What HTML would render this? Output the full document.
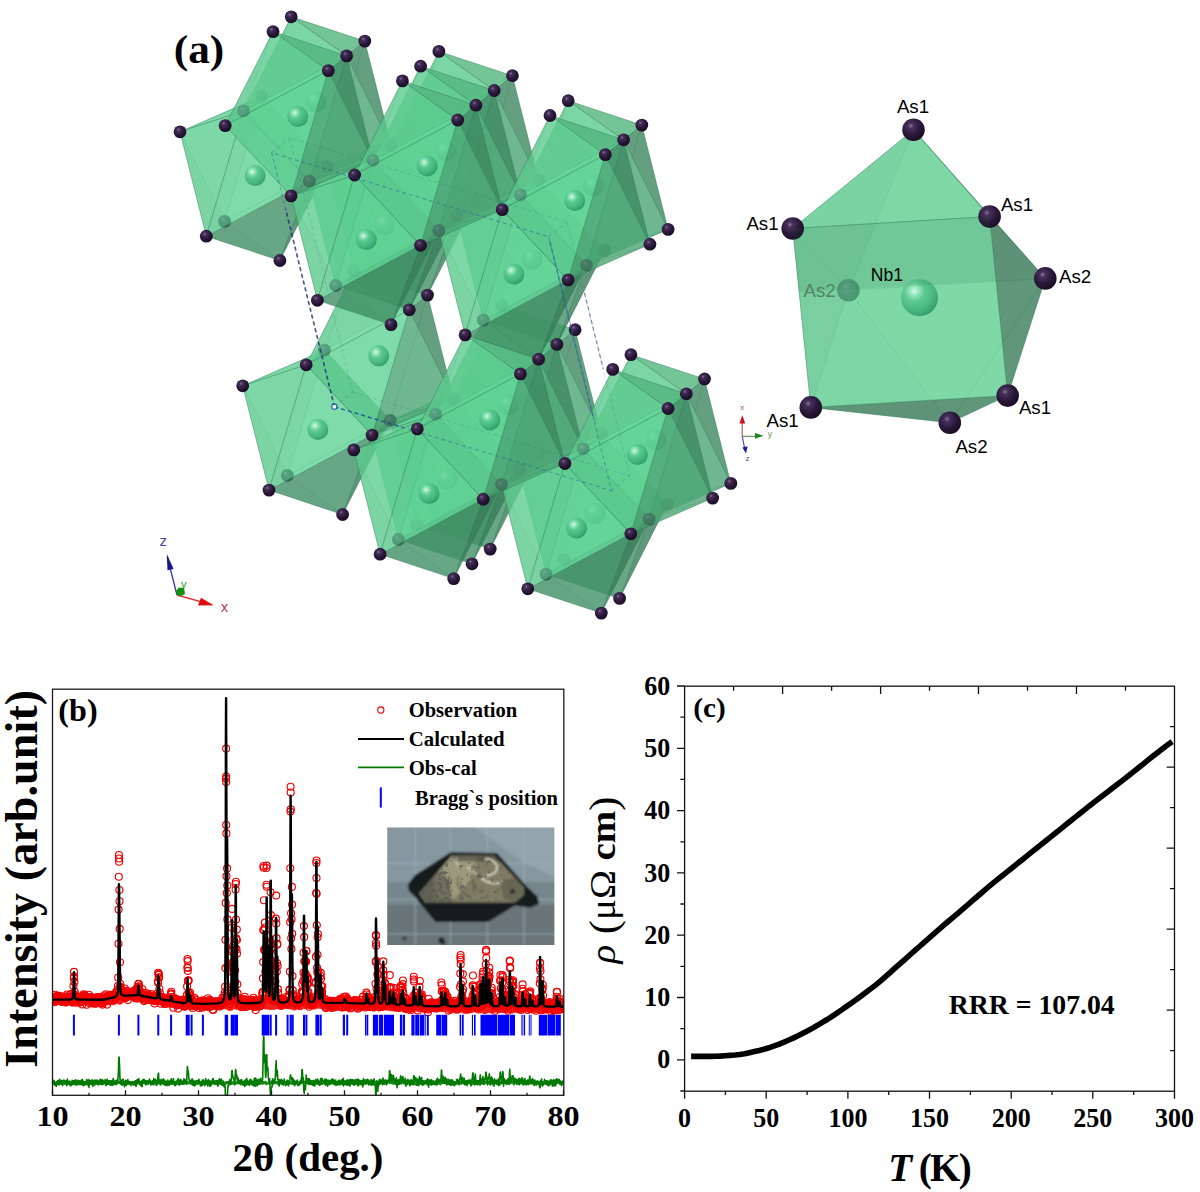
<!DOCTYPE html>
<html><head><meta charset="utf-8"><title>Figure</title><style>html,body{margin:0;padding:0;background:#fff}svg{display:block}
.sb{font-family:"Liberation Serif",serif;font-weight:bold;fill:#000}
.ss{font-family:"Liberation Sans",sans-serif}</style></head><body>
<svg width="1200" height="1192" viewBox="0 0 1200 1192">
<defs>
<radialGradient id="gAs" cx="0.38" cy="0.33" r="0.7"><stop offset="0" stop-color="#8a7598"/><stop offset="0.18" stop-color="#46305a"/><stop offset="0.6" stop-color="#2a1738"/><stop offset="1" stop-color="#1a0c24"/></radialGradient>
<radialGradient id="gNb" cx="0.36" cy="0.32" r="0.72"><stop offset="0" stop-color="#ffffff"/><stop offset="0.14" stop-color="#a5efc9"/><stop offset="0.38" stop-color="#55c58c"/><stop offset="0.78" stop-color="#36a873"/><stop offset="1" stop-color="#1f8a58"/></radialGradient>
<marker id="mk" markerWidth="10" markerHeight="10" refX="5" refY="5" markerUnits="userSpaceOnUse"><circle cx="5" cy="5" r="3.5" fill="none" stroke="#f10000" stroke-width="1.15"/></marker>
<filter id="blur1" x="-5%" y="-5%" width="110%" height="110%"><feGaussianBlur stdDeviation="0.9"/></filter>
<filter id="speck" x="0" y="0" width="100%" height="100%"><feTurbulence type="fractalNoise" baseFrequency="0.2" numOctaves="2" seed="11" result="n"/><feColorMatrix in="n" type="matrix" values="0 0 0 0 0.12  0 0 0 0 0.12  0 0 0 0 0.1  0 0 0 -8 3.3" result="sp"/><feComposite in="sp" in2="SourceGraphic" operator="in"/><feGaussianBlur stdDeviation="0.6"/></filter>
<filter id="speck2" x="0" y="0" width="100%" height="100%"><feTurbulence type="fractalNoise" baseFrequency="0.28" numOctaves="2" seed="4" result="n"/><feColorMatrix in="n" type="matrix" values="0 0 0 0 0.1  0 0 0 0 0.1  0 0 0 0 0.09  0 0 0 -7 3.6" result="sp"/><feComposite in="sp" in2="SourceGraphic" operator="in"/><feGaussianBlur stdDeviation="0.6"/></filter>
<clipPath id="clipB"><rect x="52.5" y="689.2" width="511.3" height="406.1"/></clipPath>
<clipPath id="clipPhoto"><rect x="387.2" y="827.6" width="167.2" height="117.4"/></clipPath>
</defs>
<rect width="1200" height="1192" fill="#fff"/>
<g id="panel-a">
<polygon points="538.0,455.0 434.9,510.0 472.1,384.7" fill="rgb(89,195,137)" fill-opacity="0.35" stroke="rgb(45,120,85)" stroke-opacity="0.20" stroke-width="0.8"/>
<polygon points="390.3,420.4 434.9,510.0 472.1,384.7" fill="rgb(68,148,105)" fill-opacity="0.35" stroke="rgb(45,120,85)" stroke-opacity="0.20" stroke-width="0.8"/>
<polygon points="490.2,549.1 538.0,455.0 434.9,510.0" fill="rgb(90,195,138)" fill-opacity="0.35" stroke="rgb(45,120,85)" stroke-opacity="0.20" stroke-width="0.8"/>
<polygon points="390.3,420.4 416.6,524.7 434.9,510.0" fill="rgb(54,118,83)" fill-opacity="0.35" stroke="rgb(45,120,85)" stroke-opacity="0.20" stroke-width="0.8"/>
<polygon points="490.2,549.1 434.9,510.0 416.6,524.7" fill="rgb(80,174,122)" fill-opacity="0.35" stroke="rgb(45,120,85)" stroke-opacity="0.20" stroke-width="0.8"/>
<circle cx="434.9" cy="510.0" r="6.4" fill="url(#gAs)"/>
<polygon points="475.3,201.0 372.2,256.0 409.4,130.7" fill="rgb(89,195,137)" fill-opacity="0.35" stroke="rgb(45,120,85)" stroke-opacity="0.20" stroke-width="0.8"/>
<polygon points="327.6,166.4 372.2,256.0 409.4,130.7" fill="rgb(68,148,105)" fill-opacity="0.35" stroke="rgb(45,120,85)" stroke-opacity="0.20" stroke-width="0.8"/>
<polygon points="427.5,295.1 475.3,201.0 372.2,256.0" fill="rgb(90,195,138)" fill-opacity="0.35" stroke="rgb(45,120,85)" stroke-opacity="0.20" stroke-width="0.8"/>
<polygon points="327.6,166.4 353.9,270.8 372.2,256.0" fill="rgb(54,118,83)" fill-opacity="0.35" stroke="rgb(45,120,85)" stroke-opacity="0.20" stroke-width="0.8"/>
<polygon points="427.5,295.1 372.2,256.0 353.9,270.8" fill="rgb(80,174,122)" fill-opacity="0.35" stroke="rgb(45,120,85)" stroke-opacity="0.20" stroke-width="0.8"/>
<polygon points="472.1,384.7 575.1,329.7 538.0,455.0" fill="rgb(89,195,137)" fill-opacity="0.35" stroke="rgb(45,120,85)" stroke-opacity="0.20" stroke-width="0.8"/>
<polygon points="501.6,305.4 472.1,384.7 575.1,329.7" fill="rgb(58,127,90)" fill-opacity="0.35" stroke="rgb(45,120,85)" stroke-opacity="0.20" stroke-width="0.8"/>
<polygon points="601.4,434.0 575.1,329.7 538.0,455.0" fill="rgb(90,195,138)" fill-opacity="0.35" stroke="rgb(45,120,85)" stroke-opacity="0.20" stroke-width="0.8"/>
<polygon points="453.8,399.4 472.1,384.7 538.0,455.0 519.7,469.7" fill="rgb(70,152,108)" fill-opacity="0.35" stroke="rgb(45,120,85)" stroke-opacity="0.20" stroke-width="0.8"/>
<polygon points="501.6,305.4 453.8,399.4 472.1,384.7" fill="rgb(47,104,74)" fill-opacity="0.35" stroke="rgb(45,120,85)" stroke-opacity="0.20" stroke-width="0.8"/>
<polygon points="601.4,434.0 538.0,455.0 519.7,469.7" fill="rgb(90,195,138)" fill-opacity="0.35" stroke="rgb(45,120,85)" stroke-opacity="0.20" stroke-width="0.8"/>
<circle cx="372.2" cy="256.0" r="6.4" fill="url(#gAs)"/>
<polygon points="390.3,420.4 472.1,384.7 453.8,399.4" fill="rgb(98,213,150)" fill-opacity="0.70" stroke="rgb(45,120,85)" stroke-opacity="0.40" stroke-width="0.8"/>
<polygon points="490.2,549.1 519.7,469.7 538.0,455.0" fill="rgb(52,114,81)" fill-opacity="0.70" stroke="rgb(45,120,85)" stroke-opacity="0.40" stroke-width="0.8"/>
<polygon points="519.7,469.7 538.0,455.0 472.1,384.7 453.8,399.4" fill="rgb(76,166,117)" fill-opacity="0.70" stroke="rgb(45,120,85)" stroke-opacity="0.40" stroke-width="0.8"/>
<polygon points="390.3,420.4 453.8,399.4 416.6,524.7" fill="rgb(98,213,150)" fill-opacity="0.70" stroke="rgb(45,120,85)" stroke-opacity="0.40" stroke-width="0.8"/>
<polygon points="490.2,549.1 416.6,524.7 519.7,469.7" fill="rgb(63,138,98)" fill-opacity="0.70" stroke="rgb(45,120,85)" stroke-opacity="0.40" stroke-width="0.8"/>
<polygon points="519.7,469.7 453.8,399.4 416.6,524.7" fill="rgb(97,212,149)" fill-opacity="0.70" stroke="rgb(45,120,85)" stroke-opacity="0.40" stroke-width="0.8"/>
<circle cx="472.1" cy="384.7" r="6.4" fill="url(#gAs)"/>
<circle cx="538.0" cy="455.0" r="6.4" fill="url(#gAs)"/>
<circle cx="490.2" cy="549.1" r="6.4" fill="url(#gAs)"/>
<circle cx="465.5" cy="464.0" r="10.5" fill="url(#gNb)" opacity="0.78"/>
<polygon points="390.3,420.4 287.3,475.4 324.4,350.1" fill="rgb(89,195,137)" fill-opacity="0.35" stroke="rgb(45,120,85)" stroke-opacity="0.20" stroke-width="0.8"/>
<polygon points="242.7,385.8 287.3,475.4 324.4,350.1" fill="rgb(68,148,105)" fill-opacity="0.35" stroke="rgb(45,120,85)" stroke-opacity="0.20" stroke-width="0.8"/>
<polygon points="342.6,514.5 390.3,420.4 287.3,475.4" fill="rgb(90,195,138)" fill-opacity="0.35" stroke="rgb(45,120,85)" stroke-opacity="0.20" stroke-width="0.8"/>
<polygon points="242.7,385.8 269.0,490.1 287.3,475.4" fill="rgb(54,118,83)" fill-opacity="0.35" stroke="rgb(45,120,85)" stroke-opacity="0.20" stroke-width="0.8"/>
<polygon points="342.6,514.5 287.3,475.4 269.0,490.1" fill="rgb(80,174,122)" fill-opacity="0.35" stroke="rgb(45,120,85)" stroke-opacity="0.20" stroke-width="0.8"/>
<circle cx="287.3" cy="475.4" r="6.4" fill="url(#gAs)"/>
<polygon points="409.4,130.7 512.4,75.7 475.3,201.0" fill="rgb(89,195,137)" fill-opacity="0.35" stroke="rgb(45,120,85)" stroke-opacity="0.20" stroke-width="0.8"/>
<polygon points="438.9,51.4 409.4,130.7 512.4,75.7" fill="rgb(58,127,90)" fill-opacity="0.35" stroke="rgb(45,120,85)" stroke-opacity="0.20" stroke-width="0.8"/>
<polygon points="538.7,180.1 512.4,75.7 475.3,201.0" fill="rgb(90,195,138)" fill-opacity="0.35" stroke="rgb(45,120,85)" stroke-opacity="0.20" stroke-width="0.8"/>
<polygon points="391.1,145.5 409.4,130.7 475.3,201.0 457.0,215.8" fill="rgb(70,152,108)" fill-opacity="0.35" stroke="rgb(45,120,85)" stroke-opacity="0.20" stroke-width="0.8"/>
<polygon points="438.9,51.4 391.1,145.5 409.4,130.7" fill="rgb(47,104,74)" fill-opacity="0.35" stroke="rgb(45,120,85)" stroke-opacity="0.20" stroke-width="0.8"/>
<polygon points="538.7,180.1 475.3,201.0 457.0,215.8" fill="rgb(90,195,138)" fill-opacity="0.35" stroke="rgb(45,120,85)" stroke-opacity="0.20" stroke-width="0.8"/>
<polygon points="327.6,166.4 409.4,130.7 391.1,145.5" fill="rgb(98,213,150)" fill-opacity="0.70" stroke="rgb(45,120,85)" stroke-opacity="0.40" stroke-width="0.8"/>
<polygon points="427.5,295.1 457.0,215.8 475.3,201.0" fill="rgb(52,114,81)" fill-opacity="0.70" stroke="rgb(45,120,85)" stroke-opacity="0.40" stroke-width="0.8"/>
<polygon points="457.0,215.8 475.3,201.0 409.4,130.7 391.1,145.5" fill="rgb(76,166,117)" fill-opacity="0.70" stroke="rgb(45,120,85)" stroke-opacity="0.40" stroke-width="0.8"/>
<polygon points="327.6,166.4 391.1,145.5 353.9,270.8" fill="rgb(98,213,150)" fill-opacity="0.70" stroke="rgb(45,120,85)" stroke-opacity="0.40" stroke-width="0.8"/>
<polygon points="427.5,295.1 353.9,270.8 457.0,215.8" fill="rgb(63,138,98)" fill-opacity="0.70" stroke="rgb(45,120,85)" stroke-opacity="0.40" stroke-width="0.8"/>
<polygon points="457.0,215.8 391.1,145.5 353.9,270.8" fill="rgb(97,212,149)" fill-opacity="0.70" stroke="rgb(45,120,85)" stroke-opacity="0.40" stroke-width="0.8"/>
<polygon points="501.6,305.4 575.1,329.7 556.9,344.4" fill="rgb(87,189,133)" fill-opacity="0.70" stroke="rgb(45,120,85)" stroke-opacity="0.40" stroke-width="0.8"/>
<polygon points="601.4,434.0 556.9,344.4 575.1,329.7" fill="rgb(58,128,91)" fill-opacity="0.70" stroke="rgb(45,120,85)" stroke-opacity="0.40" stroke-width="0.8"/>
<polygon points="501.6,305.4 556.9,344.4 453.8,399.4" fill="rgb(98,213,150)" fill-opacity="0.70" stroke="rgb(45,120,85)" stroke-opacity="0.40" stroke-width="0.8"/>
<polygon points="601.4,434.0 519.7,469.7 556.9,344.4" fill="rgb(74,161,114)" fill-opacity="0.70" stroke="rgb(45,120,85)" stroke-opacity="0.40" stroke-width="0.8"/>
<polygon points="453.8,399.4 519.7,469.7 556.9,344.4" fill="rgb(97,212,149)" fill-opacity="0.70" stroke="rgb(45,120,85)" stroke-opacity="0.40" stroke-width="0.8"/>
<circle cx="409.4" cy="130.7" r="6.4" fill="url(#gAs)"/>
<circle cx="475.3" cy="201.0" r="6.4" fill="url(#gAs)"/>
<circle cx="575.1" cy="329.7" r="6.4" fill="url(#gAs)"/>
<circle cx="402.8" cy="210.1" r="10.5" fill="url(#gNb)" opacity="0.78"/>
<circle cx="526.3" cy="390.4" r="10.5" fill="url(#gNb)" opacity="0.78"/>
<polygon points="327.6,166.4 224.6,221.4 261.7,96.1" fill="rgb(89,195,137)" fill-opacity="0.35" stroke="rgb(45,120,85)" stroke-opacity="0.20" stroke-width="0.8"/>
<polygon points="180.0,131.8 224.6,221.4 261.7,96.1" fill="rgb(68,148,105)" fill-opacity="0.35" stroke="rgb(45,120,85)" stroke-opacity="0.20" stroke-width="0.8"/>
<polygon points="279.9,260.5 327.6,166.4 224.6,221.4" fill="rgb(90,195,138)" fill-opacity="0.35" stroke="rgb(45,120,85)" stroke-opacity="0.20" stroke-width="0.8"/>
<polygon points="180.0,131.8 206.3,236.2 224.6,221.4" fill="rgb(54,118,83)" fill-opacity="0.35" stroke="rgb(45,120,85)" stroke-opacity="0.20" stroke-width="0.8"/>
<polygon points="279.9,260.5 224.6,221.4 206.3,236.2" fill="rgb(80,174,122)" fill-opacity="0.35" stroke="rgb(45,120,85)" stroke-opacity="0.20" stroke-width="0.8"/>
<polygon points="324.4,350.1 427.5,295.1 390.3,420.4" fill="rgb(89,195,137)" fill-opacity="0.35" stroke="rgb(45,120,85)" stroke-opacity="0.20" stroke-width="0.8"/>
<polygon points="353.9,270.8 324.4,350.1 427.5,295.1" fill="rgb(58,127,90)" fill-opacity="0.35" stroke="rgb(45,120,85)" stroke-opacity="0.20" stroke-width="0.8"/>
<polygon points="453.8,399.4 427.5,295.1 390.3,420.4" fill="rgb(90,195,138)" fill-opacity="0.35" stroke="rgb(45,120,85)" stroke-opacity="0.20" stroke-width="0.8"/>
<polygon points="306.2,364.8 324.4,350.1 390.3,420.4 372.1,435.1" fill="rgb(70,152,108)" fill-opacity="0.35" stroke="rgb(45,120,85)" stroke-opacity="0.20" stroke-width="0.8"/>
<polygon points="353.9,270.8 306.2,364.8 324.4,350.1" fill="rgb(47,104,74)" fill-opacity="0.35" stroke="rgb(45,120,85)" stroke-opacity="0.20" stroke-width="0.8"/>
<polygon points="453.8,399.4 390.3,420.4 372.1,435.1" fill="rgb(90,195,138)" fill-opacity="0.35" stroke="rgb(45,120,85)" stroke-opacity="0.20" stroke-width="0.8"/>
<circle cx="224.6" cy="221.4" r="6.4" fill="url(#gAs)"/>
<polygon points="242.7,385.8 324.4,350.1 306.2,364.8" fill="rgb(98,213,150)" fill-opacity="0.70" stroke="rgb(45,120,85)" stroke-opacity="0.40" stroke-width="0.8"/>
<polygon points="342.6,514.5 372.1,435.1 390.3,420.4" fill="rgb(52,114,81)" fill-opacity="0.70" stroke="rgb(45,120,85)" stroke-opacity="0.40" stroke-width="0.8"/>
<polygon points="372.1,435.1 390.3,420.4 324.4,350.1 306.2,364.8" fill="rgb(76,166,117)" fill-opacity="0.70" stroke="rgb(45,120,85)" stroke-opacity="0.40" stroke-width="0.8"/>
<polygon points="242.7,385.8 306.2,364.8 269.0,490.1" fill="rgb(98,213,150)" fill-opacity="0.70" stroke="rgb(45,120,85)" stroke-opacity="0.40" stroke-width="0.8"/>
<polygon points="342.6,514.5 269.0,490.1 372.1,435.1" fill="rgb(63,138,98)" fill-opacity="0.70" stroke="rgb(45,120,85)" stroke-opacity="0.40" stroke-width="0.8"/>
<polygon points="372.1,435.1 306.2,364.8 269.0,490.1" fill="rgb(97,212,149)" fill-opacity="0.70" stroke="rgb(45,120,85)" stroke-opacity="0.40" stroke-width="0.8"/>
<circle cx="324.4" cy="350.1" r="6.4" fill="url(#gAs)"/>
<circle cx="390.3" cy="420.4" r="6.4" fill="url(#gAs)"/>
<circle cx="242.7" cy="385.8" r="6.4" fill="url(#gAs)"/>
<circle cx="342.6" cy="514.5" r="6.4" fill="url(#gAs)"/>
<circle cx="269.0" cy="490.1" r="6.4" fill="url(#gAs)"/>
<circle cx="317.8" cy="429.4" r="10.5" fill="url(#gNb)" opacity="0.78"/>
<polygon points="438.9,51.4 512.4,75.7 494.2,90.5" fill="rgb(87,189,133)" fill-opacity="0.70" stroke="rgb(45,120,85)" stroke-opacity="0.40" stroke-width="0.8"/>
<polygon points="538.7,180.1 494.2,90.5 512.4,75.7" fill="rgb(58,128,91)" fill-opacity="0.70" stroke="rgb(45,120,85)" stroke-opacity="0.40" stroke-width="0.8"/>
<polygon points="438.9,51.4 494.2,90.5 391.1,145.5" fill="rgb(98,213,150)" fill-opacity="0.70" stroke="rgb(45,120,85)" stroke-opacity="0.40" stroke-width="0.8"/>
<polygon points="538.7,180.1 457.0,215.8 494.2,90.5" fill="rgb(74,161,114)" fill-opacity="0.70" stroke="rgb(45,120,85)" stroke-opacity="0.40" stroke-width="0.8"/>
<polygon points="391.1,145.5 457.0,215.8 494.2,90.5" fill="rgb(97,212,149)" fill-opacity="0.70" stroke="rgb(45,120,85)" stroke-opacity="0.40" stroke-width="0.8"/>
<circle cx="512.4" cy="75.7" r="6.4" fill="url(#gAs)"/>
<circle cx="438.9" cy="51.4" r="6.4" fill="url(#gAs)"/>
<circle cx="463.6" cy="136.4" r="10.5" fill="url(#gNb)" opacity="0.78"/>
<polygon points="667.3,504.3 564.3,559.3 601.4,434.0" fill="rgb(89,195,137)" fill-opacity="0.35" stroke="rgb(45,120,85)" stroke-opacity="0.20" stroke-width="0.8"/>
<polygon points="519.7,469.7 564.3,559.3 601.4,434.0" fill="rgb(68,148,105)" fill-opacity="0.35" stroke="rgb(45,120,85)" stroke-opacity="0.20" stroke-width="0.8"/>
<polygon points="619.6,598.4 667.3,504.3 564.3,559.3" fill="rgb(90,195,138)" fill-opacity="0.35" stroke="rgb(45,120,85)" stroke-opacity="0.20" stroke-width="0.8"/>
<polygon points="519.7,469.7 546.0,574.1 564.3,559.3" fill="rgb(54,118,83)" fill-opacity="0.35" stroke="rgb(45,120,85)" stroke-opacity="0.20" stroke-width="0.8"/>
<polygon points="619.6,598.4 564.3,559.3 546.0,574.1" fill="rgb(80,174,122)" fill-opacity="0.35" stroke="rgb(45,120,85)" stroke-opacity="0.20" stroke-width="0.8"/>
<polygon points="261.7,96.1 364.8,41.1 327.6,166.4" fill="rgb(89,195,137)" fill-opacity="0.35" stroke="rgb(45,120,85)" stroke-opacity="0.20" stroke-width="0.8"/>
<polygon points="291.2,16.8 261.7,96.1 364.8,41.1" fill="rgb(58,127,90)" fill-opacity="0.35" stroke="rgb(45,120,85)" stroke-opacity="0.20" stroke-width="0.8"/>
<polygon points="391.1,145.5 364.8,41.1 327.6,166.4" fill="rgb(90,195,138)" fill-opacity="0.35" stroke="rgb(45,120,85)" stroke-opacity="0.20" stroke-width="0.8"/>
<polygon points="243.5,110.9 261.7,96.1 327.6,166.4 309.4,181.2" fill="rgb(70,152,108)" fill-opacity="0.35" stroke="rgb(45,120,85)" stroke-opacity="0.20" stroke-width="0.8"/>
<polygon points="291.2,16.8 243.5,110.9 261.7,96.1" fill="rgb(47,104,74)" fill-opacity="0.35" stroke="rgb(45,120,85)" stroke-opacity="0.20" stroke-width="0.8"/>
<polygon points="391.1,145.5 327.6,166.4 309.4,181.2" fill="rgb(90,195,138)" fill-opacity="0.35" stroke="rgb(45,120,85)" stroke-opacity="0.20" stroke-width="0.8"/>
<circle cx="564.3" cy="559.3" r="6.4" fill="url(#gAs)"/>
<polygon points="180.0,131.8 261.7,96.1 243.5,110.9" fill="rgb(98,213,150)" fill-opacity="0.70" stroke="rgb(45,120,85)" stroke-opacity="0.40" stroke-width="0.8"/>
<polygon points="279.9,260.5 309.4,181.2 327.6,166.4" fill="rgb(52,114,81)" fill-opacity="0.70" stroke="rgb(45,120,85)" stroke-opacity="0.40" stroke-width="0.8"/>
<polygon points="309.4,181.2 327.6,166.4 261.7,96.1 243.5,110.9" fill="rgb(76,166,117)" fill-opacity="0.70" stroke="rgb(45,120,85)" stroke-opacity="0.40" stroke-width="0.8"/>
<polygon points="180.0,131.8 243.5,110.9 206.3,236.2" fill="rgb(98,213,150)" fill-opacity="0.70" stroke="rgb(45,120,85)" stroke-opacity="0.40" stroke-width="0.8"/>
<polygon points="279.9,260.5 206.3,236.2 309.4,181.2" fill="rgb(63,138,98)" fill-opacity="0.70" stroke="rgb(45,120,85)" stroke-opacity="0.40" stroke-width="0.8"/>
<polygon points="309.4,181.2 243.5,110.9 206.3,236.2" fill="rgb(97,212,149)" fill-opacity="0.70" stroke="rgb(45,120,85)" stroke-opacity="0.40" stroke-width="0.8"/>
<polygon points="353.9,270.8 427.5,295.1 409.3,309.8" fill="rgb(87,189,133)" fill-opacity="0.70" stroke="rgb(45,120,85)" stroke-opacity="0.40" stroke-width="0.8"/>
<polygon points="453.8,399.4 409.3,309.8 427.5,295.1" fill="rgb(58,128,91)" fill-opacity="0.70" stroke="rgb(45,120,85)" stroke-opacity="0.40" stroke-width="0.8"/>
<polygon points="353.9,270.8 409.3,309.8 306.2,364.8" fill="rgb(98,213,150)" fill-opacity="0.70" stroke="rgb(45,120,85)" stroke-opacity="0.40" stroke-width="0.8"/>
<polygon points="453.8,399.4 372.1,435.1 409.3,309.8" fill="rgb(74,161,114)" fill-opacity="0.70" stroke="rgb(45,120,85)" stroke-opacity="0.40" stroke-width="0.8"/>
<polygon points="306.2,364.8 372.1,435.1 409.3,309.8" fill="rgb(97,212,149)" fill-opacity="0.70" stroke="rgb(45,120,85)" stroke-opacity="0.40" stroke-width="0.8"/>
<circle cx="261.7" cy="96.1" r="6.4" fill="url(#gAs)"/>
<circle cx="327.6" cy="166.4" r="6.4" fill="url(#gAs)"/>
<circle cx="180.0" cy="131.8" r="6.4" fill="url(#gAs)"/>
<circle cx="279.9" cy="260.5" r="6.4" fill="url(#gAs)"/>
<circle cx="206.3" cy="236.2" r="6.4" fill="url(#gAs)"/>
<circle cx="427.5" cy="295.1" r="6.4" fill="url(#gAs)"/>
<circle cx="306.2" cy="364.8" r="6.4" fill="url(#gAs)"/>
<circle cx="255.1" cy="175.5" r="10.5" fill="url(#gNb)" opacity="0.78"/>
<circle cx="378.7" cy="355.8" r="10.5" fill="url(#gNb)" opacity="0.78"/>
<polygon points="604.6,250.4 501.6,305.4 538.7,180.1" fill="rgb(89,195,137)" fill-opacity="0.35" stroke="rgb(45,120,85)" stroke-opacity="0.20" stroke-width="0.8"/>
<polygon points="457.0,215.8 501.6,305.4 538.7,180.1" fill="rgb(68,148,105)" fill-opacity="0.35" stroke="rgb(45,120,85)" stroke-opacity="0.20" stroke-width="0.8"/>
<polygon points="556.9,344.4 604.6,250.4 501.6,305.4" fill="rgb(90,195,138)" fill-opacity="0.35" stroke="rgb(45,120,85)" stroke-opacity="0.20" stroke-width="0.8"/>
<polygon points="457.0,215.8 483.3,320.1 501.6,305.4" fill="rgb(54,118,83)" fill-opacity="0.35" stroke="rgb(45,120,85)" stroke-opacity="0.20" stroke-width="0.8"/>
<polygon points="556.9,344.4 501.6,305.4 483.3,320.1" fill="rgb(80,174,122)" fill-opacity="0.35" stroke="rgb(45,120,85)" stroke-opacity="0.20" stroke-width="0.8"/>
<polygon points="601.4,434.0 704.5,379.0 667.3,504.3" fill="rgb(89,195,137)" fill-opacity="0.35" stroke="rgb(45,120,85)" stroke-opacity="0.20" stroke-width="0.8"/>
<polygon points="630.9,354.7 601.4,434.0 704.5,379.0" fill="rgb(58,127,90)" fill-opacity="0.35" stroke="rgb(45,120,85)" stroke-opacity="0.20" stroke-width="0.8"/>
<polygon points="730.8,483.4 704.5,379.0 667.3,504.3" fill="rgb(90,195,138)" fill-opacity="0.35" stroke="rgb(45,120,85)" stroke-opacity="0.20" stroke-width="0.8"/>
<polygon points="583.2,448.8 601.4,434.0 667.3,504.3 649.1,519.1" fill="rgb(70,152,108)" fill-opacity="0.35" stroke="rgb(45,120,85)" stroke-opacity="0.20" stroke-width="0.8"/>
<polygon points="630.9,354.7 583.2,448.8 601.4,434.0" fill="rgb(47,104,74)" fill-opacity="0.35" stroke="rgb(45,120,85)" stroke-opacity="0.20" stroke-width="0.8"/>
<polygon points="730.8,483.4 667.3,504.3 649.1,519.1" fill="rgb(90,195,138)" fill-opacity="0.35" stroke="rgb(45,120,85)" stroke-opacity="0.20" stroke-width="0.8"/>
<circle cx="501.6" cy="305.4" r="6.4" fill="url(#gAs)"/>
<polygon points="519.7,469.7 601.4,434.0 583.2,448.8" fill="rgb(98,213,150)" fill-opacity="0.70" stroke="rgb(45,120,85)" stroke-opacity="0.40" stroke-width="0.8"/>
<polygon points="619.6,598.4 649.1,519.1 667.3,504.3" fill="rgb(52,114,81)" fill-opacity="0.70" stroke="rgb(45,120,85)" stroke-opacity="0.40" stroke-width="0.8"/>
<polygon points="649.1,519.1 667.3,504.3 601.4,434.0 583.2,448.8" fill="rgb(76,166,117)" fill-opacity="0.70" stroke="rgb(45,120,85)" stroke-opacity="0.40" stroke-width="0.8"/>
<polygon points="519.7,469.7 583.2,448.8 546.0,574.1" fill="rgb(98,213,150)" fill-opacity="0.70" stroke="rgb(45,120,85)" stroke-opacity="0.40" stroke-width="0.8"/>
<polygon points="619.6,598.4 546.0,574.1 649.1,519.1" fill="rgb(63,138,98)" fill-opacity="0.70" stroke="rgb(45,120,85)" stroke-opacity="0.40" stroke-width="0.8"/>
<polygon points="649.1,519.1 583.2,448.8 546.0,574.1" fill="rgb(97,212,149)" fill-opacity="0.70" stroke="rgb(45,120,85)" stroke-opacity="0.40" stroke-width="0.8"/>
<polygon points="291.2,16.8 364.8,41.1 346.6,55.9" fill="rgb(87,189,133)" fill-opacity="0.70" stroke="rgb(45,120,85)" stroke-opacity="0.40" stroke-width="0.8"/>
<polygon points="391.1,145.5 346.6,55.9 364.8,41.1" fill="rgb(58,128,91)" fill-opacity="0.70" stroke="rgb(45,120,85)" stroke-opacity="0.40" stroke-width="0.8"/>
<polygon points="291.2,16.8 346.6,55.9 243.5,110.9" fill="rgb(98,213,150)" fill-opacity="0.70" stroke="rgb(45,120,85)" stroke-opacity="0.40" stroke-width="0.8"/>
<polygon points="391.1,145.5 309.4,181.2 346.6,55.9" fill="rgb(74,161,114)" fill-opacity="0.70" stroke="rgb(45,120,85)" stroke-opacity="0.40" stroke-width="0.8"/>
<polygon points="243.5,110.9 309.4,181.2 346.6,55.9" fill="rgb(97,212,149)" fill-opacity="0.70" stroke="rgb(45,120,85)" stroke-opacity="0.40" stroke-width="0.8"/>
<circle cx="601.4" cy="434.0" r="6.4" fill="url(#gAs)"/>
<circle cx="667.3" cy="504.3" r="6.4" fill="url(#gAs)"/>
<circle cx="619.6" cy="598.4" r="6.4" fill="url(#gAs)"/>
<circle cx="364.8" cy="41.1" r="6.4" fill="url(#gAs)"/>
<circle cx="291.2" cy="16.8" r="6.4" fill="url(#gAs)"/>
<circle cx="594.8" cy="513.4" r="10.5" fill="url(#gNb)" opacity="0.78"/>
<circle cx="316.0" cy="101.9" r="10.5" fill="url(#gNb)" opacity="0.78"/>
<polygon points="519.7,469.7 416.6,524.7 453.8,399.4" fill="rgb(89,195,137)" fill-opacity="0.35" stroke="rgb(45,120,85)" stroke-opacity="0.20" stroke-width="0.8"/>
<polygon points="372.1,435.1 416.6,524.7 453.8,399.4" fill="rgb(68,148,105)" fill-opacity="0.35" stroke="rgb(45,120,85)" stroke-opacity="0.20" stroke-width="0.8"/>
<polygon points="472.0,563.8 519.7,469.7 416.6,524.7" fill="rgb(90,195,138)" fill-opacity="0.35" stroke="rgb(45,120,85)" stroke-opacity="0.20" stroke-width="0.8"/>
<polygon points="372.1,435.1 398.4,539.5 416.6,524.7" fill="rgb(54,118,83)" fill-opacity="0.35" stroke="rgb(45,120,85)" stroke-opacity="0.20" stroke-width="0.8"/>
<polygon points="472.0,563.8 416.6,524.7 398.4,539.5" fill="rgb(80,174,122)" fill-opacity="0.35" stroke="rgb(45,120,85)" stroke-opacity="0.20" stroke-width="0.8"/>
<circle cx="416.6" cy="524.7" r="6.4" fill="url(#gAs)"/>
<polygon points="538.7,180.1 641.8,125.1 604.6,250.4" fill="rgb(89,195,137)" fill-opacity="0.35" stroke="rgb(45,120,85)" stroke-opacity="0.20" stroke-width="0.8"/>
<polygon points="568.2,100.7 538.7,180.1 641.8,125.1" fill="rgb(58,127,90)" fill-opacity="0.35" stroke="rgb(45,120,85)" stroke-opacity="0.20" stroke-width="0.8"/>
<polygon points="668.1,229.4 641.8,125.1 604.6,250.4" fill="rgb(90,195,138)" fill-opacity="0.35" stroke="rgb(45,120,85)" stroke-opacity="0.20" stroke-width="0.8"/>
<polygon points="520.5,194.8 538.7,180.1 604.6,250.4 586.4,265.1" fill="rgb(70,152,108)" fill-opacity="0.35" stroke="rgb(45,120,85)" stroke-opacity="0.20" stroke-width="0.8"/>
<polygon points="568.2,100.7 520.5,194.8 538.7,180.1" fill="rgb(47,104,74)" fill-opacity="0.35" stroke="rgb(45,120,85)" stroke-opacity="0.20" stroke-width="0.8"/>
<polygon points="668.1,229.4 604.6,250.4 586.4,265.1" fill="rgb(90,195,138)" fill-opacity="0.35" stroke="rgb(45,120,85)" stroke-opacity="0.20" stroke-width="0.8"/>
<polygon points="457.0,215.8 538.7,180.1 520.5,194.8" fill="rgb(98,213,150)" fill-opacity="0.70" stroke="rgb(45,120,85)" stroke-opacity="0.40" stroke-width="0.8"/>
<polygon points="556.9,344.4 586.4,265.1 604.6,250.4" fill="rgb(52,114,81)" fill-opacity="0.70" stroke="rgb(45,120,85)" stroke-opacity="0.40" stroke-width="0.8"/>
<polygon points="586.4,265.1 604.6,250.4 538.7,180.1 520.5,194.8" fill="rgb(76,166,117)" fill-opacity="0.70" stroke="rgb(45,120,85)" stroke-opacity="0.40" stroke-width="0.8"/>
<polygon points="457.0,215.8 520.5,194.8 483.3,320.1" fill="rgb(98,213,150)" fill-opacity="0.70" stroke="rgb(45,120,85)" stroke-opacity="0.40" stroke-width="0.8"/>
<polygon points="556.9,344.4 483.3,320.1 586.4,265.1" fill="rgb(63,138,98)" fill-opacity="0.70" stroke="rgb(45,120,85)" stroke-opacity="0.40" stroke-width="0.8"/>
<polygon points="586.4,265.1 520.5,194.8 483.3,320.1" fill="rgb(97,212,149)" fill-opacity="0.70" stroke="rgb(45,120,85)" stroke-opacity="0.40" stroke-width="0.8"/>
<polygon points="630.9,354.7 704.5,379.0 686.3,393.8" fill="rgb(87,189,133)" fill-opacity="0.70" stroke="rgb(45,120,85)" stroke-opacity="0.40" stroke-width="0.8"/>
<polygon points="730.8,483.4 686.3,393.8 704.5,379.0" fill="rgb(58,128,91)" fill-opacity="0.70" stroke="rgb(45,120,85)" stroke-opacity="0.40" stroke-width="0.8"/>
<polygon points="630.9,354.7 686.3,393.8 583.2,448.8" fill="rgb(98,213,150)" fill-opacity="0.70" stroke="rgb(45,120,85)" stroke-opacity="0.40" stroke-width="0.8"/>
<polygon points="730.8,483.4 649.1,519.1 686.3,393.8" fill="rgb(74,161,114)" fill-opacity="0.70" stroke="rgb(45,120,85)" stroke-opacity="0.40" stroke-width="0.8"/>
<polygon points="583.2,448.8 649.1,519.1 686.3,393.8" fill="rgb(97,212,149)" fill-opacity="0.70" stroke="rgb(45,120,85)" stroke-opacity="0.40" stroke-width="0.8"/>
<circle cx="538.7" cy="180.1" r="6.4" fill="url(#gAs)"/>
<circle cx="604.6" cy="250.4" r="6.4" fill="url(#gAs)"/>
<circle cx="704.5" cy="379.0" r="6.4" fill="url(#gAs)"/>
<circle cx="630.9" cy="354.7" r="6.4" fill="url(#gAs)"/>
<circle cx="730.8" cy="483.4" r="6.4" fill="url(#gAs)"/>
<circle cx="532.1" cy="259.4" r="10.5" fill="url(#gNb)" opacity="0.78"/>
<circle cx="655.7" cy="439.7" r="10.5" fill="url(#gNb)" opacity="0.78"/>
<polygon points="457.0,215.8 353.9,270.8 391.1,145.5" fill="rgb(89,195,137)" fill-opacity="0.35" stroke="rgb(45,120,85)" stroke-opacity="0.20" stroke-width="0.8"/>
<polygon points="309.4,181.2 353.9,270.8 391.1,145.5" fill="rgb(68,148,105)" fill-opacity="0.35" stroke="rgb(45,120,85)" stroke-opacity="0.20" stroke-width="0.8"/>
<polygon points="409.3,309.8 457.0,215.8 353.9,270.8" fill="rgb(90,195,138)" fill-opacity="0.35" stroke="rgb(45,120,85)" stroke-opacity="0.20" stroke-width="0.8"/>
<polygon points="309.4,181.2 335.7,285.5 353.9,270.8" fill="rgb(54,118,83)" fill-opacity="0.35" stroke="rgb(45,120,85)" stroke-opacity="0.20" stroke-width="0.8"/>
<polygon points="409.3,309.8 353.9,270.8 335.7,285.5" fill="rgb(80,174,122)" fill-opacity="0.35" stroke="rgb(45,120,85)" stroke-opacity="0.20" stroke-width="0.8"/>
<polygon points="453.8,399.4 556.9,344.4 519.7,469.7" fill="rgb(89,195,137)" fill-opacity="0.35" stroke="rgb(45,120,85)" stroke-opacity="0.20" stroke-width="0.8"/>
<polygon points="483.3,320.1 453.8,399.4 556.9,344.4" fill="rgb(58,127,90)" fill-opacity="0.35" stroke="rgb(45,120,85)" stroke-opacity="0.20" stroke-width="0.8"/>
<polygon points="583.2,448.8 556.9,344.4 519.7,469.7" fill="rgb(90,195,138)" fill-opacity="0.35" stroke="rgb(45,120,85)" stroke-opacity="0.20" stroke-width="0.8"/>
<polygon points="435.6,414.2 453.8,399.4 519.7,469.7 501.5,484.5" fill="rgb(70,152,108)" fill-opacity="0.35" stroke="rgb(45,120,85)" stroke-opacity="0.20" stroke-width="0.8"/>
<polygon points="483.3,320.1 435.6,414.2 453.8,399.4" fill="rgb(47,104,74)" fill-opacity="0.35" stroke="rgb(45,120,85)" stroke-opacity="0.20" stroke-width="0.8"/>
<polygon points="583.2,448.8 519.7,469.7 501.5,484.5" fill="rgb(90,195,138)" fill-opacity="0.35" stroke="rgb(45,120,85)" stroke-opacity="0.20" stroke-width="0.8"/>
<circle cx="353.9" cy="270.8" r="6.4" fill="url(#gAs)"/>
<polygon points="372.1,435.1 453.8,399.4 435.6,414.2" fill="rgb(98,213,150)" fill-opacity="0.70" stroke="rgb(45,120,85)" stroke-opacity="0.40" stroke-width="0.8"/>
<polygon points="472.0,563.8 501.5,484.5 519.7,469.7" fill="rgb(52,114,81)" fill-opacity="0.70" stroke="rgb(45,120,85)" stroke-opacity="0.40" stroke-width="0.8"/>
<polygon points="501.5,484.5 519.7,469.7 453.8,399.4 435.6,414.2" fill="rgb(76,166,117)" fill-opacity="0.70" stroke="rgb(45,120,85)" stroke-opacity="0.40" stroke-width="0.8"/>
<polygon points="372.1,435.1 435.6,414.2 398.4,539.5" fill="rgb(98,213,150)" fill-opacity="0.70" stroke="rgb(45,120,85)" stroke-opacity="0.40" stroke-width="0.8"/>
<polygon points="472.0,563.8 398.4,539.5 501.5,484.5" fill="rgb(63,138,98)" fill-opacity="0.70" stroke="rgb(45,120,85)" stroke-opacity="0.40" stroke-width="0.8"/>
<polygon points="501.5,484.5 435.6,414.2 398.4,539.5" fill="rgb(97,212,149)" fill-opacity="0.70" stroke="rgb(45,120,85)" stroke-opacity="0.40" stroke-width="0.8"/>
<circle cx="453.8" cy="399.4" r="6.4" fill="url(#gAs)"/>
<circle cx="519.7" cy="469.7" r="6.4" fill="url(#gAs)"/>
<circle cx="372.1" cy="435.1" r="6.4" fill="url(#gAs)"/>
<circle cx="472.0" cy="563.8" r="6.4" fill="url(#gAs)"/>
<circle cx="447.2" cy="478.8" r="10.5" fill="url(#gNb)" opacity="0.78"/>
<polygon points="568.2,100.7 641.8,125.1 623.6,139.8" fill="rgb(87,189,133)" fill-opacity="0.70" stroke="rgb(45,120,85)" stroke-opacity="0.40" stroke-width="0.8"/>
<polygon points="668.1,229.4 623.6,139.8 641.8,125.1" fill="rgb(58,128,91)" fill-opacity="0.70" stroke="rgb(45,120,85)" stroke-opacity="0.40" stroke-width="0.8"/>
<polygon points="568.2,100.7 623.6,139.8 520.5,194.8" fill="rgb(98,213,150)" fill-opacity="0.70" stroke="rgb(45,120,85)" stroke-opacity="0.40" stroke-width="0.8"/>
<polygon points="668.1,229.4 586.4,265.1 623.6,139.8" fill="rgb(74,161,114)" fill-opacity="0.70" stroke="rgb(45,120,85)" stroke-opacity="0.40" stroke-width="0.8"/>
<polygon points="520.5,194.8 586.4,265.1 623.6,139.8" fill="rgb(97,212,149)" fill-opacity="0.70" stroke="rgb(45,120,85)" stroke-opacity="0.40" stroke-width="0.8"/>
<circle cx="641.8" cy="125.1" r="6.4" fill="url(#gAs)"/>
<circle cx="568.2" cy="100.7" r="6.4" fill="url(#gAs)"/>
<circle cx="668.1" cy="229.4" r="6.4" fill="url(#gAs)"/>
<circle cx="593.0" cy="185.8" r="10.5" fill="url(#gNb)" opacity="0.78"/>
<polygon points="391.1,145.5 494.2,90.5 457.0,215.8" fill="rgb(89,195,137)" fill-opacity="0.35" stroke="rgb(45,120,85)" stroke-opacity="0.20" stroke-width="0.8"/>
<polygon points="420.6,66.2 391.1,145.5 494.2,90.5" fill="rgb(58,127,90)" fill-opacity="0.35" stroke="rgb(45,120,85)" stroke-opacity="0.20" stroke-width="0.8"/>
<polygon points="520.5,194.8 494.2,90.5 457.0,215.8" fill="rgb(90,195,138)" fill-opacity="0.35" stroke="rgb(45,120,85)" stroke-opacity="0.20" stroke-width="0.8"/>
<polygon points="372.9,160.2 391.1,145.5 457.0,215.8 438.8,230.5" fill="rgb(70,152,108)" fill-opacity="0.35" stroke="rgb(45,120,85)" stroke-opacity="0.20" stroke-width="0.8"/>
<polygon points="420.6,66.2 372.9,160.2 391.1,145.5" fill="rgb(47,104,74)" fill-opacity="0.35" stroke="rgb(45,120,85)" stroke-opacity="0.20" stroke-width="0.8"/>
<polygon points="520.5,194.8 457.0,215.8 438.8,230.5" fill="rgb(90,195,138)" fill-opacity="0.35" stroke="rgb(45,120,85)" stroke-opacity="0.20" stroke-width="0.8"/>
<polygon points="309.4,181.2 391.1,145.5 372.9,160.2" fill="rgb(98,213,150)" fill-opacity="0.70" stroke="rgb(45,120,85)" stroke-opacity="0.40" stroke-width="0.8"/>
<polygon points="409.3,309.8 438.8,230.5 457.0,215.8" fill="rgb(52,114,81)" fill-opacity="0.70" stroke="rgb(45,120,85)" stroke-opacity="0.40" stroke-width="0.8"/>
<polygon points="438.8,230.5 457.0,215.8 391.1,145.5 372.9,160.2" fill="rgb(76,166,117)" fill-opacity="0.70" stroke="rgb(45,120,85)" stroke-opacity="0.40" stroke-width="0.8"/>
<polygon points="309.4,181.2 372.9,160.2 335.7,285.5" fill="rgb(98,213,150)" fill-opacity="0.70" stroke="rgb(45,120,85)" stroke-opacity="0.40" stroke-width="0.8"/>
<polygon points="409.3,309.8 335.7,285.5 438.8,230.5" fill="rgb(63,138,98)" fill-opacity="0.70" stroke="rgb(45,120,85)" stroke-opacity="0.40" stroke-width="0.8"/>
<polygon points="438.8,230.5 372.9,160.2 335.7,285.5" fill="rgb(97,212,149)" fill-opacity="0.70" stroke="rgb(45,120,85)" stroke-opacity="0.40" stroke-width="0.8"/>
<polygon points="483.3,320.1 556.9,344.4 538.6,359.2" fill="rgb(87,189,133)" fill-opacity="0.70" stroke="rgb(45,120,85)" stroke-opacity="0.40" stroke-width="0.8"/>
<polygon points="583.2,448.8 538.6,359.2 556.9,344.4" fill="rgb(58,128,91)" fill-opacity="0.70" stroke="rgb(45,120,85)" stroke-opacity="0.40" stroke-width="0.8"/>
<polygon points="483.3,320.1 538.6,359.2 435.6,414.2" fill="rgb(98,213,150)" fill-opacity="0.70" stroke="rgb(45,120,85)" stroke-opacity="0.40" stroke-width="0.8"/>
<polygon points="583.2,448.8 501.5,484.5 538.6,359.2" fill="rgb(74,161,114)" fill-opacity="0.70" stroke="rgb(45,120,85)" stroke-opacity="0.40" stroke-width="0.8"/>
<polygon points="435.6,414.2 501.5,484.5 538.6,359.2" fill="rgb(97,212,149)" fill-opacity="0.70" stroke="rgb(45,120,85)" stroke-opacity="0.40" stroke-width="0.8"/>
<circle cx="391.1" cy="145.5" r="6.4" fill="url(#gAs)"/>
<circle cx="457.0" cy="215.8" r="6.4" fill="url(#gAs)"/>
<circle cx="409.3" cy="309.8" r="6.4" fill="url(#gAs)"/>
<circle cx="556.9" cy="344.4" r="6.4" fill="url(#gAs)"/>
<circle cx="384.5" cy="224.8" r="10.5" fill="url(#gNb)" opacity="0.78"/>
<circle cx="508.1" cy="405.1" r="10.5" fill="url(#gNb)" opacity="0.78"/>
<polygon points="420.6,66.2 494.2,90.5 475.9,105.2" fill="rgb(87,189,133)" fill-opacity="0.70" stroke="rgb(45,120,85)" stroke-opacity="0.40" stroke-width="0.8"/>
<polygon points="520.5,194.8 475.9,105.2 494.2,90.5" fill="rgb(58,128,91)" fill-opacity="0.70" stroke="rgb(45,120,85)" stroke-opacity="0.40" stroke-width="0.8"/>
<polygon points="420.6,66.2 475.9,105.2 372.9,160.2" fill="rgb(98,213,150)" fill-opacity="0.70" stroke="rgb(45,120,85)" stroke-opacity="0.40" stroke-width="0.8"/>
<polygon points="520.5,194.8 438.8,230.5 475.9,105.2" fill="rgb(74,161,114)" fill-opacity="0.70" stroke="rgb(45,120,85)" stroke-opacity="0.40" stroke-width="0.8"/>
<polygon points="372.9,160.2 438.8,230.5 475.9,105.2" fill="rgb(97,212,149)" fill-opacity="0.70" stroke="rgb(45,120,85)" stroke-opacity="0.40" stroke-width="0.8"/>
<circle cx="494.2" cy="90.5" r="6.4" fill="url(#gAs)"/>
<circle cx="420.6" cy="66.2" r="6.4" fill="url(#gAs)"/>
<circle cx="445.4" cy="151.2" r="10.5" fill="url(#gNb)" opacity="0.78"/>
<polygon points="649.1,519.1 546.0,574.1 583.2,448.8" fill="rgb(89,195,137)" fill-opacity="0.35" stroke="rgb(45,120,85)" stroke-opacity="0.20" stroke-width="0.8"/>
<polygon points="501.5,484.5 546.0,574.1 583.2,448.8" fill="rgb(68,148,105)" fill-opacity="0.35" stroke="rgb(45,120,85)" stroke-opacity="0.20" stroke-width="0.8"/>
<polygon points="601.3,613.1 649.1,519.1 546.0,574.1" fill="rgb(90,195,138)" fill-opacity="0.35" stroke="rgb(45,120,85)" stroke-opacity="0.20" stroke-width="0.8"/>
<polygon points="501.5,484.5 527.8,588.8 546.0,574.1" fill="rgb(54,118,83)" fill-opacity="0.35" stroke="rgb(45,120,85)" stroke-opacity="0.20" stroke-width="0.8"/>
<polygon points="601.3,613.1 546.0,574.1 527.8,588.8" fill="rgb(80,174,122)" fill-opacity="0.35" stroke="rgb(45,120,85)" stroke-opacity="0.20" stroke-width="0.8"/>
<polygon points="243.5,110.9 346.6,55.9 309.4,181.2" fill="rgb(89,195,137)" fill-opacity="0.35" stroke="rgb(45,120,85)" stroke-opacity="0.20" stroke-width="0.8"/>
<polygon points="273.0,31.6 243.5,110.9 346.6,55.9" fill="rgb(58,127,90)" fill-opacity="0.35" stroke="rgb(45,120,85)" stroke-opacity="0.20" stroke-width="0.8"/>
<polygon points="372.9,160.2 346.6,55.9 309.4,181.2" fill="rgb(90,195,138)" fill-opacity="0.35" stroke="rgb(45,120,85)" stroke-opacity="0.20" stroke-width="0.8"/>
<polygon points="225.2,125.6 243.5,110.9 309.4,181.2 291.1,195.9" fill="rgb(70,152,108)" fill-opacity="0.35" stroke="rgb(45,120,85)" stroke-opacity="0.20" stroke-width="0.8"/>
<polygon points="273.0,31.6 225.2,125.6 243.5,110.9" fill="rgb(47,104,74)" fill-opacity="0.35" stroke="rgb(45,120,85)" stroke-opacity="0.20" stroke-width="0.8"/>
<polygon points="372.9,160.2 309.4,181.2 291.1,195.9" fill="rgb(90,195,138)" fill-opacity="0.35" stroke="rgb(45,120,85)" stroke-opacity="0.20" stroke-width="0.8"/>
<circle cx="546.0" cy="574.1" r="6.4" fill="url(#gAs)"/>
<circle cx="243.5" cy="110.9" r="6.4" fill="url(#gAs)"/>
<circle cx="309.4" cy="181.2" r="6.4" fill="url(#gAs)"/>
<polygon points="586.4,265.1 483.3,320.1 520.5,194.8" fill="rgb(89,195,137)" fill-opacity="0.35" stroke="rgb(45,120,85)" stroke-opacity="0.20" stroke-width="0.8"/>
<polygon points="438.8,230.5 483.3,320.1 520.5,194.8" fill="rgb(68,148,105)" fill-opacity="0.35" stroke="rgb(45,120,85)" stroke-opacity="0.20" stroke-width="0.8"/>
<polygon points="538.6,359.2 586.4,265.1 483.3,320.1" fill="rgb(90,195,138)" fill-opacity="0.35" stroke="rgb(45,120,85)" stroke-opacity="0.20" stroke-width="0.8"/>
<polygon points="438.8,230.5 465.1,334.9 483.3,320.1" fill="rgb(54,118,83)" fill-opacity="0.35" stroke="rgb(45,120,85)" stroke-opacity="0.20" stroke-width="0.8"/>
<polygon points="538.6,359.2 483.3,320.1 465.1,334.9" fill="rgb(80,174,122)" fill-opacity="0.35" stroke="rgb(45,120,85)" stroke-opacity="0.20" stroke-width="0.8"/>
<polygon points="583.2,448.8 686.3,393.8 649.1,519.1" fill="rgb(89,195,137)" fill-opacity="0.35" stroke="rgb(45,120,85)" stroke-opacity="0.20" stroke-width="0.8"/>
<polygon points="612.7,369.4 583.2,448.8 686.3,393.8" fill="rgb(58,127,90)" fill-opacity="0.35" stroke="rgb(45,120,85)" stroke-opacity="0.20" stroke-width="0.8"/>
<polygon points="712.6,498.1 686.3,393.8 649.1,519.1" fill="rgb(90,195,138)" fill-opacity="0.35" stroke="rgb(45,120,85)" stroke-opacity="0.20" stroke-width="0.8"/>
<polygon points="564.9,463.5 583.2,448.8 649.1,519.1 630.8,533.8" fill="rgb(70,152,108)" fill-opacity="0.35" stroke="rgb(45,120,85)" stroke-opacity="0.20" stroke-width="0.8"/>
<polygon points="612.7,369.4 564.9,463.5 583.2,448.8" fill="rgb(47,104,74)" fill-opacity="0.35" stroke="rgb(45,120,85)" stroke-opacity="0.20" stroke-width="0.8"/>
<polygon points="712.6,498.1 649.1,519.1 630.8,533.8" fill="rgb(90,195,138)" fill-opacity="0.35" stroke="rgb(45,120,85)" stroke-opacity="0.20" stroke-width="0.8"/>
<circle cx="483.3" cy="320.1" r="6.4" fill="url(#gAs)"/>
<polygon points="501.5,484.5 583.2,448.8 564.9,463.5" fill="rgb(98,213,150)" fill-opacity="0.70" stroke="rgb(45,120,85)" stroke-opacity="0.40" stroke-width="0.8"/>
<polygon points="601.3,613.1 630.8,533.8 649.1,519.1" fill="rgb(52,114,81)" fill-opacity="0.70" stroke="rgb(45,120,85)" stroke-opacity="0.40" stroke-width="0.8"/>
<polygon points="630.8,533.8 649.1,519.1 583.2,448.8 564.9,463.5" fill="rgb(76,166,117)" fill-opacity="0.70" stroke="rgb(45,120,85)" stroke-opacity="0.40" stroke-width="0.8"/>
<polygon points="501.5,484.5 564.9,463.5 527.8,588.8" fill="rgb(98,213,150)" fill-opacity="0.70" stroke="rgb(45,120,85)" stroke-opacity="0.40" stroke-width="0.8"/>
<polygon points="601.3,613.1 527.8,588.8 630.8,533.8" fill="rgb(63,138,98)" fill-opacity="0.70" stroke="rgb(45,120,85)" stroke-opacity="0.40" stroke-width="0.8"/>
<polygon points="630.8,533.8 564.9,463.5 527.8,588.8" fill="rgb(97,212,149)" fill-opacity="0.70" stroke="rgb(45,120,85)" stroke-opacity="0.40" stroke-width="0.8"/>
<polygon points="273.0,31.6 346.6,55.9 328.3,70.6" fill="rgb(87,189,133)" fill-opacity="0.70" stroke="rgb(45,120,85)" stroke-opacity="0.40" stroke-width="0.8"/>
<polygon points="372.9,160.2 328.3,70.6 346.6,55.9" fill="rgb(58,128,91)" fill-opacity="0.70" stroke="rgb(45,120,85)" stroke-opacity="0.40" stroke-width="0.8"/>
<polygon points="273.0,31.6 328.3,70.6 225.2,125.6" fill="rgb(98,213,150)" fill-opacity="0.70" stroke="rgb(45,120,85)" stroke-opacity="0.40" stroke-width="0.8"/>
<polygon points="372.9,160.2 291.1,195.9 328.3,70.6" fill="rgb(74,161,114)" fill-opacity="0.70" stroke="rgb(45,120,85)" stroke-opacity="0.40" stroke-width="0.8"/>
<polygon points="225.2,125.6 291.1,195.9 328.3,70.6" fill="rgb(97,212,149)" fill-opacity="0.70" stroke="rgb(45,120,85)" stroke-opacity="0.40" stroke-width="0.8"/>
<circle cx="583.2" cy="448.8" r="6.4" fill="url(#gAs)"/>
<circle cx="649.1" cy="519.1" r="6.4" fill="url(#gAs)"/>
<circle cx="601.3" cy="613.1" r="6.4" fill="url(#gAs)"/>
<circle cx="527.8" cy="588.8" r="6.4" fill="url(#gAs)"/>
<circle cx="346.6" cy="55.9" r="6.4" fill="url(#gAs)"/>
<circle cx="273.0" cy="31.6" r="6.4" fill="url(#gAs)"/>
<circle cx="225.2" cy="125.6" r="6.4" fill="url(#gAs)"/>
<circle cx="328.3" cy="70.6" r="6.4" fill="url(#gAs)"/>
<circle cx="576.6" cy="528.1" r="10.5" fill="url(#gNb)" opacity="0.78"/>
<circle cx="297.7" cy="116.6" r="10.5" fill="url(#gNb)" opacity="0.78"/>
<polygon points="501.5,484.5 398.4,539.5 435.6,414.2" fill="rgb(89,195,137)" fill-opacity="0.35" stroke="rgb(45,120,85)" stroke-opacity="0.20" stroke-width="0.8"/>
<polygon points="353.8,449.9 398.4,539.5 435.6,414.2" fill="rgb(68,148,105)" fill-opacity="0.35" stroke="rgb(45,120,85)" stroke-opacity="0.20" stroke-width="0.8"/>
<polygon points="453.7,578.6 501.5,484.5 398.4,539.5" fill="rgb(90,195,138)" fill-opacity="0.35" stroke="rgb(45,120,85)" stroke-opacity="0.20" stroke-width="0.8"/>
<polygon points="353.8,449.9 380.1,554.2 398.4,539.5" fill="rgb(54,118,83)" fill-opacity="0.35" stroke="rgb(45,120,85)" stroke-opacity="0.20" stroke-width="0.8"/>
<polygon points="453.7,578.6 398.4,539.5 380.1,554.2" fill="rgb(80,174,122)" fill-opacity="0.35" stroke="rgb(45,120,85)" stroke-opacity="0.20" stroke-width="0.8"/>
<circle cx="398.4" cy="539.5" r="6.4" fill="url(#gAs)"/>
<polygon points="520.5,194.8 623.6,139.8 586.4,265.1" fill="rgb(89,195,137)" fill-opacity="0.35" stroke="rgb(45,120,85)" stroke-opacity="0.20" stroke-width="0.8"/>
<polygon points="550.0,115.5 520.5,194.8 623.6,139.8" fill="rgb(58,127,90)" fill-opacity="0.35" stroke="rgb(45,120,85)" stroke-opacity="0.20" stroke-width="0.8"/>
<polygon points="649.9,244.2 623.6,139.8 586.4,265.1" fill="rgb(90,195,138)" fill-opacity="0.35" stroke="rgb(45,120,85)" stroke-opacity="0.20" stroke-width="0.8"/>
<polygon points="502.2,209.6 520.5,194.8 586.4,265.1 568.1,279.9" fill="rgb(70,152,108)" fill-opacity="0.35" stroke="rgb(45,120,85)" stroke-opacity="0.20" stroke-width="0.8"/>
<polygon points="550.0,115.5 502.2,209.6 520.5,194.8" fill="rgb(47,104,74)" fill-opacity="0.35" stroke="rgb(45,120,85)" stroke-opacity="0.20" stroke-width="0.8"/>
<polygon points="649.9,244.2 586.4,265.1 568.1,279.9" fill="rgb(90,195,138)" fill-opacity="0.35" stroke="rgb(45,120,85)" stroke-opacity="0.20" stroke-width="0.8"/>
<polygon points="438.8,230.5 520.5,194.8 502.2,209.6" fill="rgb(98,213,150)" fill-opacity="0.70" stroke="rgb(45,120,85)" stroke-opacity="0.40" stroke-width="0.8"/>
<polygon points="538.6,359.2 568.1,279.9 586.4,265.1" fill="rgb(52,114,81)" fill-opacity="0.70" stroke="rgb(45,120,85)" stroke-opacity="0.40" stroke-width="0.8"/>
<polygon points="568.1,279.9 586.4,265.1 520.5,194.8 502.2,209.6" fill="rgb(76,166,117)" fill-opacity="0.70" stroke="rgb(45,120,85)" stroke-opacity="0.40" stroke-width="0.8"/>
<polygon points="438.8,230.5 502.2,209.6 465.1,334.9" fill="rgb(98,213,150)" fill-opacity="0.70" stroke="rgb(45,120,85)" stroke-opacity="0.40" stroke-width="0.8"/>
<polygon points="538.6,359.2 465.1,334.9 568.1,279.9" fill="rgb(63,138,98)" fill-opacity="0.70" stroke="rgb(45,120,85)" stroke-opacity="0.40" stroke-width="0.8"/>
<polygon points="568.1,279.9 502.2,209.6 465.1,334.9" fill="rgb(97,212,149)" fill-opacity="0.70" stroke="rgb(45,120,85)" stroke-opacity="0.40" stroke-width="0.8"/>
<polygon points="612.7,369.4 686.3,393.8 668.0,408.5" fill="rgb(87,189,133)" fill-opacity="0.70" stroke="rgb(45,120,85)" stroke-opacity="0.40" stroke-width="0.8"/>
<polygon points="712.6,498.1 668.0,408.5 686.3,393.8" fill="rgb(58,128,91)" fill-opacity="0.70" stroke="rgb(45,120,85)" stroke-opacity="0.40" stroke-width="0.8"/>
<polygon points="612.7,369.4 668.0,408.5 564.9,463.5" fill="rgb(98,213,150)" fill-opacity="0.70" stroke="rgb(45,120,85)" stroke-opacity="0.40" stroke-width="0.8"/>
<polygon points="712.6,498.1 630.8,533.8 668.0,408.5" fill="rgb(74,161,114)" fill-opacity="0.70" stroke="rgb(45,120,85)" stroke-opacity="0.40" stroke-width="0.8"/>
<polygon points="564.9,463.5 630.8,533.8 668.0,408.5" fill="rgb(97,212,149)" fill-opacity="0.70" stroke="rgb(45,120,85)" stroke-opacity="0.40" stroke-width="0.8"/>
<circle cx="520.5" cy="194.8" r="6.4" fill="url(#gAs)"/>
<circle cx="586.4" cy="265.1" r="6.4" fill="url(#gAs)"/>
<circle cx="686.3" cy="393.8" r="6.4" fill="url(#gAs)"/>
<circle cx="612.7" cy="369.4" r="6.4" fill="url(#gAs)"/>
<circle cx="712.6" cy="498.1" r="6.4" fill="url(#gAs)"/>
<circle cx="630.8" cy="533.8" r="6.4" fill="url(#gAs)"/>
<circle cx="668.0" cy="408.5" r="6.4" fill="url(#gAs)"/>
<circle cx="513.9" cy="274.1" r="10.5" fill="url(#gNb)" opacity="0.78"/>
<circle cx="637.4" cy="454.5" r="10.5" fill="url(#gNb)" opacity="0.78"/>
<polygon points="438.8,230.5 335.7,285.5 372.9,160.2" fill="rgb(89,195,137)" fill-opacity="0.35" stroke="rgb(45,120,85)" stroke-opacity="0.20" stroke-width="0.8"/>
<polygon points="291.1,195.9 335.7,285.5 372.9,160.2" fill="rgb(68,148,105)" fill-opacity="0.35" stroke="rgb(45,120,85)" stroke-opacity="0.20" stroke-width="0.8"/>
<polygon points="391.0,324.6 438.8,230.5 335.7,285.5" fill="rgb(90,195,138)" fill-opacity="0.35" stroke="rgb(45,120,85)" stroke-opacity="0.20" stroke-width="0.8"/>
<polygon points="291.1,195.9 317.4,300.3 335.7,285.5" fill="rgb(54,118,83)" fill-opacity="0.35" stroke="rgb(45,120,85)" stroke-opacity="0.20" stroke-width="0.8"/>
<polygon points="391.0,324.6 335.7,285.5 317.4,300.3" fill="rgb(80,174,122)" fill-opacity="0.35" stroke="rgb(45,120,85)" stroke-opacity="0.20" stroke-width="0.8"/>
<polygon points="435.6,414.2 538.6,359.2 501.5,484.5" fill="rgb(89,195,137)" fill-opacity="0.35" stroke="rgb(45,120,85)" stroke-opacity="0.20" stroke-width="0.8"/>
<polygon points="465.1,334.9 435.6,414.2 538.6,359.2" fill="rgb(58,127,90)" fill-opacity="0.35" stroke="rgb(45,120,85)" stroke-opacity="0.20" stroke-width="0.8"/>
<polygon points="564.9,463.5 538.6,359.2 501.5,484.5" fill="rgb(90,195,138)" fill-opacity="0.35" stroke="rgb(45,120,85)" stroke-opacity="0.20" stroke-width="0.8"/>
<polygon points="417.3,428.9 435.6,414.2 501.5,484.5 483.2,499.2" fill="rgb(70,152,108)" fill-opacity="0.35" stroke="rgb(45,120,85)" stroke-opacity="0.20" stroke-width="0.8"/>
<polygon points="465.1,334.9 417.3,428.9 435.6,414.2" fill="rgb(47,104,74)" fill-opacity="0.35" stroke="rgb(45,120,85)" stroke-opacity="0.20" stroke-width="0.8"/>
<polygon points="564.9,463.5 501.5,484.5 483.2,499.2" fill="rgb(90,195,138)" fill-opacity="0.35" stroke="rgb(45,120,85)" stroke-opacity="0.20" stroke-width="0.8"/>
<circle cx="335.7" cy="285.5" r="6.4" fill="url(#gAs)"/>
<polygon points="353.8,449.9 435.6,414.2 417.3,428.9" fill="rgb(98,213,150)" fill-opacity="0.70" stroke="rgb(45,120,85)" stroke-opacity="0.40" stroke-width="0.8"/>
<polygon points="453.7,578.6 483.2,499.2 501.5,484.5" fill="rgb(52,114,81)" fill-opacity="0.70" stroke="rgb(45,120,85)" stroke-opacity="0.40" stroke-width="0.8"/>
<polygon points="483.2,499.2 501.5,484.5 435.6,414.2 417.3,428.9" fill="rgb(76,166,117)" fill-opacity="0.70" stroke="rgb(45,120,85)" stroke-opacity="0.40" stroke-width="0.8"/>
<polygon points="353.8,449.9 417.3,428.9 380.1,554.2" fill="rgb(98,213,150)" fill-opacity="0.70" stroke="rgb(45,120,85)" stroke-opacity="0.40" stroke-width="0.8"/>
<polygon points="453.7,578.6 380.1,554.2 483.2,499.2" fill="rgb(63,138,98)" fill-opacity="0.70" stroke="rgb(45,120,85)" stroke-opacity="0.40" stroke-width="0.8"/>
<polygon points="483.2,499.2 417.3,428.9 380.1,554.2" fill="rgb(97,212,149)" fill-opacity="0.70" stroke="rgb(45,120,85)" stroke-opacity="0.40" stroke-width="0.8"/>
<circle cx="501.5" cy="484.5" r="6.4" fill="url(#gAs)"/>
<circle cx="435.6" cy="414.2" r="6.4" fill="url(#gAs)"/>
<circle cx="353.8" cy="449.9" r="6.4" fill="url(#gAs)"/>
<circle cx="453.7" cy="578.6" r="6.4" fill="url(#gAs)"/>
<circle cx="380.1" cy="554.2" r="6.4" fill="url(#gAs)"/>
<circle cx="429.0" cy="493.5" r="10.5" fill="url(#gNb)" opacity="0.78"/>
<polygon points="550.0,115.5 623.6,139.8 605.3,154.6" fill="rgb(87,189,133)" fill-opacity="0.70" stroke="rgb(45,120,85)" stroke-opacity="0.40" stroke-width="0.8"/>
<polygon points="649.9,244.2 605.3,154.6 623.6,139.8" fill="rgb(58,128,91)" fill-opacity="0.70" stroke="rgb(45,120,85)" stroke-opacity="0.40" stroke-width="0.8"/>
<polygon points="550.0,115.5 605.3,154.6 502.2,209.6" fill="rgb(98,213,150)" fill-opacity="0.70" stroke="rgb(45,120,85)" stroke-opacity="0.40" stroke-width="0.8"/>
<polygon points="649.9,244.2 568.1,279.9 605.3,154.6" fill="rgb(74,161,114)" fill-opacity="0.70" stroke="rgb(45,120,85)" stroke-opacity="0.40" stroke-width="0.8"/>
<polygon points="502.2,209.6 568.1,279.9 605.3,154.6" fill="rgb(97,212,149)" fill-opacity="0.70" stroke="rgb(45,120,85)" stroke-opacity="0.40" stroke-width="0.8"/>
<circle cx="623.6" cy="139.8" r="6.4" fill="url(#gAs)"/>
<circle cx="550.0" cy="115.5" r="6.4" fill="url(#gAs)"/>
<circle cx="649.9" cy="244.2" r="6.4" fill="url(#gAs)"/>
<circle cx="568.1" cy="279.9" r="6.4" fill="url(#gAs)"/>
<circle cx="605.3" cy="154.6" r="6.4" fill="url(#gAs)"/>
<circle cx="574.7" cy="200.5" r="10.5" fill="url(#gNb)" opacity="0.78"/>
<polygon points="372.9,160.2 475.9,105.2 438.8,230.5" fill="rgb(89,195,137)" fill-opacity="0.35" stroke="rgb(45,120,85)" stroke-opacity="0.20" stroke-width="0.8"/>
<polygon points="402.4,80.9 372.9,160.2 475.9,105.2" fill="rgb(58,127,90)" fill-opacity="0.35" stroke="rgb(45,120,85)" stroke-opacity="0.20" stroke-width="0.8"/>
<polygon points="502.2,209.6 475.9,105.2 438.8,230.5" fill="rgb(90,195,138)" fill-opacity="0.35" stroke="rgb(45,120,85)" stroke-opacity="0.20" stroke-width="0.8"/>
<polygon points="354.6,175.0 372.9,160.2 438.8,230.5 420.5,245.3" fill="rgb(70,152,108)" fill-opacity="0.35" stroke="rgb(45,120,85)" stroke-opacity="0.20" stroke-width="0.8"/>
<polygon points="402.4,80.9 354.6,175.0 372.9,160.2" fill="rgb(47,104,74)" fill-opacity="0.35" stroke="rgb(45,120,85)" stroke-opacity="0.20" stroke-width="0.8"/>
<polygon points="502.2,209.6 438.8,230.5 420.5,245.3" fill="rgb(90,195,138)" fill-opacity="0.35" stroke="rgb(45,120,85)" stroke-opacity="0.20" stroke-width="0.8"/>
<polygon points="291.1,195.9 372.9,160.2 354.6,175.0" fill="rgb(98,213,150)" fill-opacity="0.70" stroke="rgb(45,120,85)" stroke-opacity="0.40" stroke-width="0.8"/>
<polygon points="391.0,324.6 420.5,245.3 438.8,230.5" fill="rgb(52,114,81)" fill-opacity="0.70" stroke="rgb(45,120,85)" stroke-opacity="0.40" stroke-width="0.8"/>
<polygon points="420.5,245.3 438.8,230.5 372.9,160.2 354.6,175.0" fill="rgb(76,166,117)" fill-opacity="0.70" stroke="rgb(45,120,85)" stroke-opacity="0.40" stroke-width="0.8"/>
<polygon points="291.1,195.9 354.6,175.0 317.4,300.3" fill="rgb(98,213,150)" fill-opacity="0.70" stroke="rgb(45,120,85)" stroke-opacity="0.40" stroke-width="0.8"/>
<polygon points="391.0,324.6 317.4,300.3 420.5,245.3" fill="rgb(63,138,98)" fill-opacity="0.70" stroke="rgb(45,120,85)" stroke-opacity="0.40" stroke-width="0.8"/>
<polygon points="420.5,245.3 354.6,175.0 317.4,300.3" fill="rgb(97,212,149)" fill-opacity="0.70" stroke="rgb(45,120,85)" stroke-opacity="0.40" stroke-width="0.8"/>
<polygon points="465.1,334.9 538.6,359.2 520.4,373.9" fill="rgb(87,189,133)" fill-opacity="0.70" stroke="rgb(45,120,85)" stroke-opacity="0.40" stroke-width="0.8"/>
<polygon points="564.9,463.5 520.4,373.9 538.6,359.2" fill="rgb(58,128,91)" fill-opacity="0.70" stroke="rgb(45,120,85)" stroke-opacity="0.40" stroke-width="0.8"/>
<polygon points="465.1,334.9 520.4,373.9 417.3,428.9" fill="rgb(98,213,150)" fill-opacity="0.70" stroke="rgb(45,120,85)" stroke-opacity="0.40" stroke-width="0.8"/>
<polygon points="564.9,463.5 483.2,499.2 520.4,373.9" fill="rgb(74,161,114)" fill-opacity="0.70" stroke="rgb(45,120,85)" stroke-opacity="0.40" stroke-width="0.8"/>
<polygon points="417.3,428.9 483.2,499.2 520.4,373.9" fill="rgb(97,212,149)" fill-opacity="0.70" stroke="rgb(45,120,85)" stroke-opacity="0.40" stroke-width="0.8"/>
<circle cx="372.9" cy="160.2" r="6.4" fill="url(#gAs)"/>
<circle cx="438.8" cy="230.5" r="6.4" fill="url(#gAs)"/>
<circle cx="291.1" cy="195.9" r="6.4" fill="url(#gAs)"/>
<circle cx="391.0" cy="324.6" r="6.4" fill="url(#gAs)"/>
<circle cx="317.4" cy="300.3" r="6.4" fill="url(#gAs)"/>
<circle cx="538.6" cy="359.2" r="6.4" fill="url(#gAs)"/>
<circle cx="465.1" cy="334.9" r="6.4" fill="url(#gAs)"/>
<circle cx="564.9" cy="463.5" r="6.4" fill="url(#gAs)"/>
<circle cx="417.3" cy="428.9" r="6.4" fill="url(#gAs)"/>
<circle cx="483.2" cy="499.2" r="6.4" fill="url(#gAs)"/>
<circle cx="520.4" cy="373.9" r="6.4" fill="url(#gAs)"/>
<circle cx="366.3" cy="239.6" r="10.5" fill="url(#gNb)" opacity="0.78"/>
<circle cx="489.8" cy="419.9" r="10.5" fill="url(#gNb)" opacity="0.78"/>
<polygon points="402.4,80.9 475.9,105.2 457.7,120.0" fill="rgb(87,189,133)" fill-opacity="0.70" stroke="rgb(45,120,85)" stroke-opacity="0.40" stroke-width="0.8"/>
<polygon points="502.2,209.6 457.7,120.0 475.9,105.2" fill="rgb(58,128,91)" fill-opacity="0.70" stroke="rgb(45,120,85)" stroke-opacity="0.40" stroke-width="0.8"/>
<polygon points="402.4,80.9 457.7,120.0 354.6,175.0" fill="rgb(98,213,150)" fill-opacity="0.70" stroke="rgb(45,120,85)" stroke-opacity="0.40" stroke-width="0.8"/>
<polygon points="502.2,209.6 420.5,245.3 457.7,120.0" fill="rgb(74,161,114)" fill-opacity="0.70" stroke="rgb(45,120,85)" stroke-opacity="0.40" stroke-width="0.8"/>
<polygon points="354.6,175.0 420.5,245.3 457.7,120.0" fill="rgb(97,212,149)" fill-opacity="0.70" stroke="rgb(45,120,85)" stroke-opacity="0.40" stroke-width="0.8"/>
<circle cx="475.9" cy="105.2" r="6.4" fill="url(#gAs)"/>
<circle cx="402.4" cy="80.9" r="6.4" fill="url(#gAs)"/>
<circle cx="502.2" cy="209.6" r="6.4" fill="url(#gAs)"/>
<circle cx="354.6" cy="175.0" r="6.4" fill="url(#gAs)"/>
<circle cx="420.5" cy="245.3" r="6.4" fill="url(#gAs)"/>
<circle cx="457.7" cy="120.0" r="6.4" fill="url(#gAs)"/>
<circle cx="427.1" cy="165.9" r="10.5" fill="url(#gNb)" opacity="0.78"/>
<polygon points="949.8,422.8 1045.3,278.4 848.4,290.2" fill="rgb(90,195,138)" fill-opacity="0.35" stroke="rgb(45,120,85)" stroke-opacity="0.20" stroke-width="0.8"/>
<polygon points="913.5,129.7 848.4,290.2 1045.3,278.4" fill="rgb(73,160,113)" fill-opacity="0.35" stroke="rgb(45,120,85)" stroke-opacity="0.20" stroke-width="0.8"/>
<polygon points="949.8,422.8 848.4,290.2 810.8,407.4" fill="rgb(79,172,121)" fill-opacity="0.35" stroke="rgb(45,120,85)" stroke-opacity="0.20" stroke-width="0.8"/>
<polygon points="949.8,422.8 1007.7,395.6 1045.3,278.4" fill="rgb(90,195,138)" fill-opacity="0.35" stroke="rgb(45,120,85)" stroke-opacity="0.20" stroke-width="0.8"/>
<polygon points="913.5,129.7 792.7,228.5 848.4,290.2" fill="rgb(47,104,74)" fill-opacity="0.35" stroke="rgb(45,120,85)" stroke-opacity="0.20" stroke-width="0.8"/>
<polygon points="810.8,407.4 792.7,228.5 848.4,290.2" fill="rgb(47,104,74)" fill-opacity="0.35" stroke="rgb(45,120,85)" stroke-opacity="0.20" stroke-width="0.8"/>
<circle cx="848.4" cy="290.2" r="11.3" fill="url(#gAs)"/>
<polygon points="913.5,129.7 1045.3,278.4 989.6,216.6" fill="rgb(65,143,101)" fill-opacity="0.70" stroke="rgb(45,120,85)" stroke-opacity="0.40" stroke-width="0.8"/>
<polygon points="949.8,422.8 810.8,407.4 1007.7,395.6" fill="rgb(52,114,81)" fill-opacity="0.70" stroke="rgb(45,120,85)" stroke-opacity="0.40" stroke-width="0.8"/>
<polygon points="1007.7,395.6 1045.3,278.4 989.6,216.6" fill="rgb(52,114,81)" fill-opacity="0.70" stroke="rgb(45,120,85)" stroke-opacity="0.40" stroke-width="0.8"/>
<polygon points="913.5,129.7 989.6,216.6 792.7,228.5" fill="rgb(98,213,150)" fill-opacity="0.70" stroke="rgb(45,120,85)" stroke-opacity="0.40" stroke-width="0.8"/>
<polygon points="810.8,407.4 1007.7,395.6 989.6,216.6 792.7,228.5" fill="rgb(96,209,147)" fill-opacity="0.70" stroke="rgb(45,120,85)" stroke-opacity="0.40" stroke-width="0.8"/>
<circle cx="949.8" cy="422.8" r="11.3" fill="url(#gAs)"/>
<circle cx="1045.3" cy="278.4" r="11.3" fill="url(#gAs)"/>
<circle cx="913.5" cy="129.7" r="11.3" fill="url(#gAs)"/>
<circle cx="810.8" cy="407.4" r="11.3" fill="url(#gAs)"/>
<circle cx="1007.7" cy="395.6" r="11.3" fill="url(#gAs)"/>
<circle cx="792.7" cy="228.5" r="11.3" fill="url(#gAs)"/>
<circle cx="989.6" cy="216.6" r="11.3" fill="url(#gAs)"/>
<circle cx="919.5" cy="297.7" r="18.5" fill="url(#gNb)" opacity="0.78"/>
<path d="M352.7,392.0 L629.6,475.9 L566.9,221.9 L289.9,138.0Z" fill="none" stroke="#1d4f9c" stroke-width="1.0" stroke-dasharray="4 3" opacity="0.20"/>
<path d="M334.4,406.7 L611.4,490.6 L548.7,236.7 L271.7,152.7Z" fill="none" stroke="#1d4f9c" stroke-width="1.2" stroke-dasharray="4 3" opacity="0.38"/>
<path d="M334.4,406.7 L352.7,392.0M271.7,152.7 L289.9,138.0M611.4,490.6 L629.6,475.9M548.7,236.7 L566.9,221.9" fill="none" stroke="#1d4f9c" stroke-width="1" stroke-dasharray="4 3" opacity="0.3"/>
<path d="M334.4,406.7 L285.5,208.6" stroke="#27306e" stroke-width="1.6" stroke-dasharray="4 3" opacity="0.75"/>
<path d="M549.9,241.8 L593.8,419.5" stroke="#1f5a9c" stroke-width="1.5" stroke-dasharray="4 3" opacity="0.6"/>
<path d="M584.5,293.0 L603.3,369.2" stroke="#2a3a80" stroke-width="1.2" stroke-dasharray="4 3" opacity="0.6"/>
<path d="M334.4,406.7 L403.6,427.7" stroke="#1d4f9c" stroke-width="1.6" stroke-dasharray="4 3" opacity="0.7"/>
<circle cx="334.4" cy="406.7" r="2.6" fill="#fff" stroke="#1d4f9c" stroke-width="1.1" opacity="0.9"/>
<g><path d="M177,595L167.3,557" stroke="#3535a8" stroke-width="1.3"/><polygon points="166.8,554 167.5,570.3 173.6,569" fill="#15158f"/>
<path d="M177,595L212,604.8" stroke="#e03030" stroke-width="1.3"/><polygon points="213.5,605.3 198,605.6 201,597.8" fill="#e00808"/>
<polygon points="176,591 179,587.5 184,588 185,594 181,596 177,595.5" fill="#109010"/>
<text x="163.3" y="545.7" font-size="15" class="ss" fill="#4646a0" text-anchor="middle">z</text>
<text x="224.5" y="611.8" font-size="14" class="ss" fill="#c03048" text-anchor="middle">x</text>
<text x="183.8" y="587.5" font-size="11" class="ss" fill="#209020" text-anchor="middle">y</text></g>
<g><path d="M742.2,436.4V420" stroke="#b06060" stroke-width="1.2"/><polygon points="742.3,415.3 739.4,423.4 745.3,423.4" fill="#d01020"/>
<path d="M742.2,436.4H757" stroke="#7a9a7a" stroke-width="1.4"/><polygon points="763.5,435.7 755,432.9 755,438.8" fill="#168a16"/>
<path d="M742.2,436.4L744.6,448" stroke="#5050b0" stroke-width="1.2"/><polygon points="746,453.6 742.4,447.4 747.6,446.2" fill="#1818a0"/>
<text x="742.2" y="409.6" font-size="8" class="ss" fill="#c05060" text-anchor="middle">x</text>
<text x="769.8" y="437" font-size="8.5" class="ss" fill="#4a9a4a" text-anchor="middle">y</text>
<text x="747.6" y="461.3" font-size="8" class="ss" fill="#5050a8" text-anchor="middle">z</text></g>
<polygon points="792.2,228.5 989.6,216.1 996.2,281 798.8,292" fill="rgb(30,110,70)" fill-opacity="0.13"/>
<text x="896.9" y="112.9" font-size="18.5" class="ss" fill="#000" textLength="32.2" lengthAdjust="spacingAndGlyphs">As1</text>
<text x="746.4" y="229.9" font-size="18.5" class="ss" fill="#000" textLength="32.2" lengthAdjust="spacingAndGlyphs">As1</text>
<text x="1000.9" y="210.8" font-size="18.5" class="ss" fill="#000" textLength="32.2" lengthAdjust="spacingAndGlyphs">As1</text>
<text x="1059.0" y="283.1" font-size="18.5" class="ss" fill="#000" textLength="32.2" lengthAdjust="spacingAndGlyphs">As2</text>
<text x="803.5" y="296.8" font-size="18.5" class="ss" fill="#4f8466" textLength="32.2" lengthAdjust="spacingAndGlyphs">As2</text>
<text x="870.8" y="281.3" font-size="18.5" class="ss" fill="#000" textLength="32.2" lengthAdjust="spacingAndGlyphs">Nb1</text>
<text x="766.5" y="426.5" font-size="18.5" class="ss" fill="#000" textLength="32.2" lengthAdjust="spacingAndGlyphs">As1</text>
<text x="955.4" y="452.9" font-size="18.5" class="ss" fill="#000" textLength="32.2" lengthAdjust="spacingAndGlyphs">As2</text>
<text x="1018.9" y="414.2" font-size="18.5" class="ss" fill="#000" textLength="32.2" lengthAdjust="spacingAndGlyphs">As1</text>
<text x="173.8" y="62.8" font-size="40.5" class="sb" textLength="50.5" lengthAdjust="spacingAndGlyphs">(a)</text>
</g>
<g id="panel-b">
<g clip-path="url(#clipPhoto)"><g filter="url(#blur1)"><rect x="383" y="824" width="176" height="125" fill="#77868c"/>
<rect x="383" y="824" width="176" height="58" fill="#8a9ba4" opacity="0.8"/>
<polygon points="470,824 559,824 559,880 520,860" fill="#a3b4bc" opacity="0.45"/>
<rect x="383" y="905" width="176" height="44" fill="#5f686a" opacity="0.55"/>
<g stroke="#9fb3be" stroke-width="1.5" opacity="0.55"><path d="M415.3 824V949M450.5 824V949M487.3 824V949M524 824V949M383 863.5H559M383 899.5H559M383 934H559"/></g>
<polygon points="407.8,884.5 414.5,875.5 450.5,852.3 497,853 526.3,886 537.5,896.5 539,904 530,907.8 515,905.5 488,922 435.5,922 420.5,904 416,898 408.5,890.5" fill="#171b1f"/>
<polygon points="419,893.5 452,855.2 494,855.2 524,887.5 524,895 515,902.5 425,902.5" fill="#7e7d63"/>
<polygon points="433,878 452,856 478,856 470,880 455,898 436,900" fill="#a9a787" opacity="0.7"/>
<polygon points="419,893.5 438,871 450,880 452,902.5 425,902.5" fill="#4e5046" opacity="0.55"/>
<polygon points="500,880 515,878 524,888 524,895 515,902.5 503,898" fill="#55564a" opacity="0.55"/>
<polygon points="452,855.2 494,855.2 500,862 455,861" fill="#3a3d38" opacity="0.55"/>
<path d="M485 859q10 0 12 7q1 7 -7 9q-6 1 -8 4q8 6 20 3" stroke="#dedcc8" stroke-width="2" fill="none" opacity="0.9"/>
<path d="M466 867l6 3l5 5M457 858q-3 5 3 8" stroke="#d6d4be" stroke-width="1.5" fill="none" opacity="0.8"/>
<path d="M459 876q-4 8 2 14q5 5 10 8M472 880q4 6 2 12" stroke="#4a4a3a" stroke-width="1.4" fill="none" opacity="0.75"/>
<circle cx="478.5" cy="876" r="1.4" fill="#15181a"/><circle cx="512.5" cy="891.5" r="2.6" fill="#2b2d27"/><circle cx="404.5" cy="938.5" r="2.2" fill="#3a4346"/><circle cx="441.5" cy="940.5" r="3" fill="#1c2226"/><circle cx="443.5" cy="943" r="1.8" fill="#1c2226"/>
</g>
<polygon points="419,893.5 452,855.2 494,855.2 524,887.5 524,895 515,902.5 425,902.5" fill="#000" filter="url(#speck)" opacity="0.75"/>
<polygon points="419,893.5 440,869 452,874 452,902.5 425,902.5" fill="#000" filter="url(#speck2)" opacity="0.8"/>
</g>
<g clip-path="url(#clipB)">
<path d="M52.5,999.6 52.9,997.4 53.4,999.7 53.8,998.0 54.3,999.9 54.7,1001.3 55.1,994.8 55.6,999.0 56.0,1000.0 56.4,998.3 56.9,995.8 57.3,997.6 57.8,999.5 58.2,999.3 58.6,996.5 59.1,995.7 59.5,998.0 59.9,996.6 60.4,999.1 60.8,1001.3 61.3,1000.1 61.7,996.6 62.1,1001.9 62.6,997.6 63.0,998.5 63.4,1001.3 63.9,999.0 64.3,998.9 64.8,999.1 65.2,998.5 65.6,999.6 66.1,1002.2 66.5,996.4 67.0,994.5 67.4,1000.0 67.8,998.0 68.3,999.1 68.7,1000.9 69.1,999.7 69.6,997.4 70.0,999.7 70.5,994.5 70.9,994.1 71.3,1001.3 71.8,999.6 72.2,1002.6 72.6,998.1 73.1,995.6 73.5,986.0 73.8,977.9 74.0,971.9 74.1,976.5 74.4,981.9 74.7,991.7 74.8,995.7 75.3,994.9 75.7,997.3 76.2,1002.7 76.6,997.8 77.0,999.4 77.5,1000.6 77.9,996.8 78.3,998.3 78.8,998.5 79.2,998.9 79.7,1002.6 80.1,998.2 80.5,1002.1 81.0,1001.6 81.4,998.5 81.8,1001.8 82.3,1004.4 82.7,995.5 83.2,999.6 83.6,994.4 84.0,999.1 84.5,995.9 84.9,995.6 85.3,1000.7 85.8,997.2 86.2,997.7 86.7,1004.8 87.1,999.5 87.5,998.6 88.0,999.9 88.4,999.7 88.9,994.8 89.3,1003.0 89.7,997.4 90.2,999.8 90.6,1001.7 91.0,997.1 91.5,1002.5 91.9,999.7 92.4,1003.4 92.8,1000.7 93.2,999.6 93.7,999.1 94.1,1000.6 94.5,998.3 95.0,1003.7 95.4,1001.4 95.9,999.1 96.3,1003.5 96.7,998.3 97.2,1001.0 97.6,997.0 98.1,998.8 98.5,1000.0 98.9,997.6 99.4,1001.2 99.8,998.2 100.2,997.3 100.7,999.1 101.1,1000.5 101.6,1002.9 102.0,1003.5 102.4,1004.6 102.9,996.4 103.3,1002.1 103.7,998.4 104.2,1000.1 104.6,999.4 105.1,1000.7 105.5,999.5 105.9,994.4 106.4,1000.9 106.8,998.1 107.2,1004.6 107.7,995.9 108.1,995.9 108.6,1001.4 109.0,997.3 109.4,997.5 109.9,994.7 110.3,998.8 110.8,996.1 111.2,997.0 111.6,994.8 112.1,998.9 112.5,999.1 112.9,996.8 113.4,996.9 113.8,997.6 114.3,999.5 114.7,997.7 115.1,995.4 115.6,994.2 116.0,992.7 116.4,991.5 116.9,992.1 117.3,996.8 117.8,989.3 117.9,986.0 118.2,977.6 118.5,943.8 118.6,909.6 118.8,876.8 119.1,861.7 119.4,890.0 119.5,901.3 119.7,928.9 120.0,962.3 120.2,987.1 120.4,984.0 120.5,987.1 120.8,989.1 121.3,991.7 121.7,995.4 122.1,990.2 122.6,995.7 123.0,995.4 123.5,991.5 123.9,997.3 124.3,992.0 124.8,988.5 125.2,998.1 125.6,991.8 126.1,997.6 126.5,990.8 127.0,995.3 127.4,995.3 127.8,1000.1 128.3,995.3 128.7,995.3 129.1,995.1 129.6,993.5 130.0,993.9 130.5,991.9 130.9,993.7 131.3,995.4 131.8,994.1 132.2,994.5 132.7,992.1 133.1,994.8 133.5,991.0 134.0,995.9 134.4,994.6 134.8,995.7 135.3,998.2 135.7,991.4 136.2,988.9 136.6,991.9 137.0,994.1 137.5,998.6 137.9,988.6 138.1,987.5 138.3,984.1 138.6,986.5 138.8,983.8 138.9,986.5 139.2,990.8 139.7,993.3 140.1,991.1 140.5,996.3 141.0,994.2 141.4,994.9 141.9,994.4 142.3,989.0 142.7,997.7 143.2,996.8 143.6,994.7 144.0,1001.1 144.5,996.8 144.9,1000.0 145.4,996.0 145.8,992.8 146.2,995.0 146.7,998.0 147.1,999.4 147.5,994.6 148.0,995.3 148.4,994.8 148.9,999.5 149.3,1000.3 149.7,997.5 150.2,997.2 150.6,998.7 151.0,994.0 151.5,997.4 151.9,997.0 152.4,997.0 152.8,997.9 153.2,997.5 153.7,995.5 154.1,1000.6 154.6,1003.4 155.0,1001.3 155.4,997.0 155.9,999.7 156.3,999.8 156.7,999.6 157.2,998.2 157.6,993.2 157.9,981.2 158.1,982.8 158.2,972.7 158.5,974.9 158.8,973.8 158.9,977.3 159.1,977.7 159.4,988.8 159.8,992.8 160.2,997.5 160.7,997.2 161.1,1003.7 161.6,1001.1 162.0,999.3 162.4,999.8 162.9,997.0 163.3,999.6 163.8,1001.7 164.2,1002.3 164.6,1004.0 165.1,998.8 165.5,998.6 165.9,1001.8 166.4,1002.3 166.8,1001.8 167.3,999.6 167.7,1001.5 168.1,1000.2 168.6,998.4 169.0,999.1 169.4,1000.5 169.9,1002.3 170.3,1001.4 170.8,993.9 171.1,993.5 171.2,994.5 171.3,991.7 171.6,997.1 172.1,997.3 172.5,1000.8 172.9,999.4 173.4,1007.8 173.8,999.5 174.3,1000.4 174.7,999.4 175.1,998.2 175.6,1001.5 176.0,1004.0 176.5,999.9 176.9,999.2 177.3,1002.8 177.8,1004.6 178.2,1008.6 178.6,1002.2 179.1,1001.3 179.5,1002.6 180.0,1003.4 180.4,1004.9 180.8,1003.4 181.3,1000.5 181.7,1004.7 182.1,1002.2 182.6,1000.1 183.0,1000.6 183.5,1000.4 183.9,1005.9 184.3,1002.4 184.8,1003.1 185.2,1005.4 185.7,1002.9 186.1,1003.7 186.5,999.2 186.8,999.5 187.0,994.9 187.1,986.4 187.4,967.3 187.7,961.1 187.8,970.9 188.0,980.5 188.3,981.1 188.6,980.4 188.7,992.4 188.9,994.0 189.2,998.4 189.6,998.2 190.0,992.5 190.3,995.6 190.5,996.0 190.9,998.2 191.3,1003.7 191.8,1005.7 192.2,1001.0 192.7,1007.9 193.1,1000.9 193.5,1005.2 194.0,1005.1 194.4,997.8 194.8,1005.9 195.3,1004.5 195.7,999.6 196.2,1006.1 196.6,1003.7 197.0,1006.3 197.5,1003.2 197.9,1006.2 198.4,1001.6 198.8,1002.6 199.2,1008.1 199.7,1002.8 200.1,1003.9 200.5,1003.2 201.0,1001.9 201.4,1004.4 201.9,1001.1 202.3,1007.8 202.7,1000.4 203.2,1003.7 203.6,1004.3 204.0,1005.3 204.5,1003.7 204.9,1003.1 205.4,1001.9 205.8,1004.2 206.2,1001.1 206.7,1006.4 207.1,1006.1 207.6,1001.0 208.0,998.3 208.4,1005.0 208.9,1000.9 209.3,1001.9 209.7,999.8 210.2,1001.0 210.6,1004.2 211.1,1006.6 211.5,1002.0 211.9,1001.5 212.4,1004.6 212.8,1009.5 213.2,1010.0 213.7,1003.1 214.1,1002.3 214.6,1002.5 215.0,1001.4 215.4,1004.5 215.9,1003.7 216.3,1005.4 216.7,1003.6 217.2,1001.8 217.6,1006.3 218.1,1001.6 218.5,1006.0 218.9,1001.4 219.4,1003.2 219.8,1006.4 220.3,1004.6 220.7,1003.0 221.1,1003.0 221.6,1002.3 222.0,1004.9 222.4,997.9 222.9,1001.7 223.3,1001.0 223.8,999.2 224.2,1002.2 224.5,995.4 224.6,995.4 224.8,992.2 225.1,986.8 225.4,968.1 225.5,939.8 225.7,902.9 225.9,778.6 226.2,776.5 226.4,833.4 226.5,876.2 226.8,893.0 227.1,868.4 227.3,885.5 227.4,919.4 227.7,967.1 228.0,987.3 228.1,991.1 228.3,989.8 228.6,996.5 228.9,1000.5 229.0,998.3 229.5,1000.3 229.9,1003.9 230.3,996.9 230.8,1000.7 230.9,997.0 231.2,993.0 231.5,971.7 231.6,951.5 231.8,927.7 232.1,908.9 232.4,949.9 232.5,963.2 232.7,966.3 233.0,946.0 233.2,961.6 233.4,972.6 233.5,986.0 233.8,991.2 234.1,997.3 234.3,996.2 234.4,997.6 234.7,993.6 235.0,981.9 235.1,970.3 235.3,947.8 235.6,889.6 235.9,881.7 236.0,919.5 236.2,938.4 236.5,949.4 236.8,929.5 236.9,940.1 237.0,953.6 237.3,984.2 237.6,993.4 237.8,997.9 238.2,998.0 238.6,1000.7 239.1,1004.8 239.5,1000.7 240.0,1005.8 240.4,1006.3 240.8,999.7 241.3,1000.7 241.7,1007.2 242.2,1002.4 242.6,1001.7 243.0,998.8 243.5,1003.5 243.9,1005.0 244.3,1001.6 244.8,996.7 245.2,1007.0 245.7,999.6 246.1,1003.2 246.5,1005.4 247.0,1006.3 247.4,1006.5 247.8,1003.9 248.3,1004.2 248.7,1003.3 249.2,1000.0 249.6,999.8 250.0,1004.2 250.5,1001.5 250.9,1002.3 251.4,1000.3 251.8,1003.9 252.2,1004.5 252.7,1004.7 253.1,1002.3 253.5,997.8 254.0,1007.0 254.4,1000.2 254.9,1005.5 255.3,1004.6 255.7,1010.1 256.2,1000.7 256.6,1006.8 257.0,1002.4 257.5,1003.0 257.9,1002.5 258.4,1002.5 258.8,1001.7 259.2,1001.7 259.7,1006.4 260.1,999.8 260.5,1005.4 261.0,999.5 261.4,1002.7 261.9,1001.1 262.3,993.3 262.4,995.3 262.7,991.9 263.0,978.4 263.2,962.1 263.3,930.1 263.6,867.8 263.9,900.3 264.1,930.1 264.2,949.6 264.5,950.5 264.8,927.5 264.9,922.6 265.1,950.3 265.4,971.6 265.7,984.5 265.8,984.5 266.0,975.5 266.2,947.4 266.5,884.8 266.7,865.6 266.8,886.7 267.1,942.0 267.4,956.5 267.6,954.3 267.7,934.9 268.0,936.4 268.3,969.3 268.4,980.7 268.6,987.7 268.9,995.8 269.2,993.1 269.3,996.0 269.5,994.6 269.7,998.9 270.0,981.4 270.2,967.3 270.3,943.6 270.6,892.2 270.9,915.1 271.1,944.4 271.2,960.5 271.5,963.7 271.8,947.4 271.9,948.3 272.1,956.0 272.4,980.4 272.7,1000.5 272.8,993.1 273.0,1000.4 273.3,999.8 273.7,997.7 274.1,997.6 274.6,998.9 275.0,1000.9 275.3,991.9 275.4,981.6 275.6,968.3 275.9,918.6 276.2,895.6 276.3,923.4 276.5,938.1 276.8,971.8 277.0,963.0 277.2,944.8 277.3,943.8 277.6,966.1 277.9,989.1 278.1,992.9 278.2,1000.7 278.5,1001.4 278.9,1000.3 279.4,998.6 279.8,998.9 280.3,1002.3 280.7,999.9 281.1,1004.7 281.6,1002.1 282.0,1002.5 282.4,1004.3 282.9,1000.8 283.3,999.1 283.8,1003.4 284.2,1002.5 284.6,1001.5 285.1,1000.2 285.5,997.2 286.0,1001.0 286.4,1001.9 286.8,1003.4 287.3,1004.8 287.7,1003.8 288.1,1000.9 288.6,997.0 289.0,994.8 289.3,995.2 289.5,990.1 289.6,989.6 289.9,971.6 290.2,922.3 290.3,868.3 290.5,811.6 290.8,809.2 291.1,913.3 291.2,938.2 291.4,948.9 291.6,919.2 291.9,886.9 292.1,904.6 292.2,933.7 292.5,976.0 292.8,990.4 293.0,994.1 293.1,997.8 293.4,1003.3 293.8,1000.5 294.3,1000.4 294.7,995.9 295.2,1000.5 295.6,1002.9 296.0,1002.8 296.5,1000.7 296.9,1005.2 297.3,1004.4 297.8,998.7 298.2,1001.3 298.7,1002.6 299.1,998.7 299.5,999.3 300.0,1002.0 300.4,999.3 300.8,1002.5 301.3,999.2 301.7,997.4 301.9,991.5 302.2,984.1 302.5,992.4 302.6,992.4 302.7,998.1 303.0,992.9 303.3,980.7 303.5,972.6 303.6,952.8 303.9,926.1 304.2,937.1 304.3,961.3 304.5,977.3 304.8,984.1 305.1,973.1 305.2,961.2 305.4,962.2 305.7,974.3 306.0,975.2 306.1,961.6 306.2,950.7 306.5,951.3 306.8,978.2 307.0,984.2 307.1,992.9 307.4,983.1 307.7,977.4 307.9,978.5 308.0,984.0 308.3,991.9 308.7,996.5 309.2,1006.8 309.6,1003.6 310.0,998.8 310.5,1000.8 310.9,1002.4 311.4,1000.2 311.8,1005.0 312.2,1003.0 312.7,1004.5 313.1,1004.0 313.5,1003.9 314.0,997.4 314.4,999.1 314.9,1000.3 315.3,996.5 315.6,983.3 315.7,981.9 315.9,956.8 316.2,893.0 316.5,860.5 316.6,893.7 316.8,925.3 317.1,967.8 317.3,972.3 317.5,954.8 317.6,937.3 317.9,934.0 318.2,971.0 318.4,979.3 318.5,992.9 318.8,994.9 319.2,998.7 319.7,993.7 320.0,996.0 320.1,993.6 320.3,990.2 320.6,976.0 320.8,972.9 321.0,978.8 321.1,986.3 321.4,993.6 321.7,996.7 321.9,993.3 322.0,991.2 322.3,986.2 322.6,997.3 322.7,1001.8 323.2,1003.6 323.6,1003.0 324.1,1004.8 324.5,1002.2 324.9,1001.9 325.4,999.4 325.8,1008.1 326.2,1000.2 326.7,1007.3 327.1,1003.5 327.6,1002.2 328.0,1004.2 328.4,1006.5 328.9,1006.4 329.3,1002.3 329.8,1002.9 330.2,1002.5 330.6,1000.7 331.1,1001.5 331.5,1007.9 331.9,1002.8 332.4,1002.7 332.8,1006.4 333.3,1000.7 333.7,1007.5 334.1,1005.2 334.6,1002.1 335.0,1002.7 335.4,1002.0 335.9,1006.7 336.3,1001.9 336.8,1002.6 337.2,1003.2 337.6,1002.3 338.1,1003.6 338.5,1006.0 339.0,1006.8 339.4,1000.0 339.8,999.0 340.3,999.9 340.7,1002.7 341.1,1002.1 341.6,1007.3 342.0,1002.9 342.5,1007.4 342.9,1002.6 343.3,1003.1 343.8,997.0 344.2,996.7 344.6,999.4 345.1,1003.6 345.5,998.5 346.0,996.5 346.4,1000.7 346.8,1006.0 347.3,998.5 347.7,1007.3 348.1,1001.5 348.6,1004.1 349.0,1006.4 349.5,1004.0 349.9,1005.2 350.3,1008.4 350.8,1003.4 351.2,1004.2 351.7,1007.4 352.1,1004.6 352.5,1003.2 353.0,1002.6 353.4,1004.6 353.8,1003.3 354.3,1000.4 354.7,1003.6 355.2,1000.9 355.6,1000.0 356.0,1002.5 356.5,1007.8 356.9,1006.1 357.3,1002.0 357.8,1008.7 358.2,1003.2 358.7,1002.7 359.1,1007.5 359.5,1004.8 360.0,1003.6 360.4,1000.1 360.9,1003.4 361.3,1004.8 361.7,1006.1 362.2,999.7 362.6,1002.6 363.0,996.6 363.5,1006.3 363.9,1003.8 364.4,1005.1 364.8,1007.4 365.2,1006.1 365.7,1000.4 366.1,998.9 366.4,992.6 366.5,994.5 366.7,997.4 367.0,1004.6 367.4,1003.4 367.9,1001.8 368.2,997.2 368.3,996.9 368.7,1001.0 369.2,1007.0 369.6,1001.9 370.0,1002.3 370.5,1000.2 370.9,1004.2 371.4,1003.0 371.8,999.5 372.2,1003.8 372.7,1007.1 373.1,1001.5 373.6,1000.4 374.0,1004.1 374.4,1004.7 374.9,1000.2 375.2,996.5 375.3,999.7 375.5,983.7 375.7,961.9 376.0,935.7 376.2,945.7 376.3,960.9 376.6,989.0 376.9,999.0 377.1,1000.6 377.2,994.4 377.5,974.4 377.8,967.3 377.9,974.3 378.1,987.2 378.4,996.7 378.8,1002.0 379.2,1007.5 379.7,1001.2 380.1,1004.3 380.6,1006.2 381.0,1007.0 381.4,1005.2 381.9,1005.8 382.3,1001.8 382.8,990.1 383.0,980.0 383.2,970.1 383.3,961.4 383.6,974.8 383.9,994.2 384.1,994.6 384.5,996.5 384.8,989.8 384.9,982.9 385.1,984.0 385.4,989.7 385.8,999.6 386.3,1004.8 386.7,1002.7 387.1,1002.7 387.6,1004.3 388.0,1006.2 388.4,1001.5 388.9,1000.1 389.2,996.2 389.3,994.0 389.5,987.4 389.8,975.1 390.1,987.0 390.2,988.5 390.3,998.3 390.6,1001.9 391.1,998.2 391.2,994.1 391.5,987.7 391.8,994.7 391.9,1000.5 392.4,1001.8 392.8,1000.6 393.0,995.4 393.3,992.5 393.6,987.7 393.7,996.7 393.8,1000.0 394.1,1000.9 394.6,1003.6 395.0,993.6 395.3,997.1 395.5,997.7 395.9,1002.5 396.3,1007.2 396.8,1003.1 397.2,1003.2 397.6,1006.3 398.1,1006.4 398.5,1003.6 399.0,1007.9 399.4,1004.8 399.8,1003.0 400.3,999.8 400.6,987.7 400.7,985.8 400.9,987.2 401.1,996.6 401.6,998.8 402.0,1002.2 402.3,989.9 402.5,987.0 402.6,984.1 402.9,980.5 403.2,992.3 403.3,998.4 403.8,1001.1 404.2,1002.3 404.7,997.3 404.9,997.8 405.1,998.8 405.5,1003.5 406.0,998.5 406.4,1008.6 406.8,1004.7 407.3,1005.2 407.7,1007.3 408.2,1006.1 408.6,1009.6 409.0,1006.1 409.5,1005.9 409.9,1003.8 410.3,1005.4 410.8,1007.6 411.2,1010.0 411.7,1006.3 412.1,1003.2 412.5,1002.7 413.0,1000.7 413.4,995.8 413.7,979.5 413.8,976.7 414.0,981.4 414.3,997.0 414.7,1002.7 415.2,1004.5 415.5,996.8 415.6,993.2 415.7,992.8 416.0,999.2 416.5,1003.9 416.9,999.7 417.4,1002.2 417.8,1010.4 418.2,1006.3 418.7,1001.7 419.1,999.7 419.3,995.8 419.5,986.9 419.8,981.0 420.0,994.4 420.1,995.3 420.4,1003.5 420.9,1004.9 421.3,997.6 421.6,999.4 421.7,994.3 421.9,996.5 422.2,999.0 422.6,1003.8 423.0,1004.4 423.5,1003.0 423.9,1008.5 424.4,1002.6 424.8,1007.7 425.2,1008.3 425.7,1008.9 426.1,1006.4 426.6,1005.7 427.0,1005.5 427.4,1007.1 427.9,1012.2 428.3,1009.4 428.7,998.7 429.2,1008.2 429.6,1006.1 430.1,1005.4 430.5,1002.9 430.9,1004.2 431.4,1002.4 431.8,1002.5 432.2,1007.9 432.7,1006.7 433.1,1003.4 433.6,1007.2 434.0,1006.6 434.4,1006.6 434.9,1006.8 435.3,1007.3 435.7,1007.4 436.2,1003.3 436.6,1007.4 437.1,1004.1 437.5,1002.5 437.9,1008.0 438.4,1006.8 438.8,1002.6 439.3,1007.2 439.7,1004.1 440.1,1006.7 440.6,1005.9 441.0,1001.5 441.2,1001.3 441.4,982.5 441.7,985.1 441.9,991.0 442.0,991.6 442.3,999.3 442.8,1003.2 443.2,1002.3 443.5,991.7 443.6,990.7 443.8,991.1 444.1,997.4 444.5,1000.3 444.9,996.3 445.2,991.7 445.4,993.8 445.5,994.6 445.8,998.5 446.3,1004.2 446.7,999.3 447.1,999.1 447.3,996.4 447.6,997.9 448.0,1002.8 448.5,1010.6 448.9,1003.3 449.3,1002.8 449.8,1003.0 450.2,1006.5 450.6,1001.8 451.1,1005.2 451.5,1002.9 452.0,1003.5 452.4,1005.5 452.8,1007.4 453.3,1002.4 453.7,1005.7 454.1,1006.8 454.6,1000.9 455.0,1004.6 455.5,1003.5 455.9,1004.6 456.3,1003.6 456.8,1004.4 457.2,1009.8 457.6,1006.2 458.1,1007.3 458.5,1008.7 459.0,1007.0 459.4,1001.3 459.8,1003.9 460.1,986.9 460.3,973.6 460.4,957.5 460.7,964.2 461.0,984.3 461.2,996.5 461.3,1001.4 461.6,1000.2 462.0,999.4 462.2,996.7 462.5,991.7 462.8,974.0 462.9,981.4 463.1,989.2 463.3,1002.6 463.8,1005.1 464.2,1003.8 464.7,1003.7 465.1,1001.8 465.5,1008.2 466.0,1002.8 466.4,1005.6 466.8,1008.8 467.3,1001.2 467.7,1009.7 468.2,1005.2 468.6,1008.6 469.0,1005.4 469.5,1004.1 469.9,1006.1 470.4,1005.8 470.8,1004.3 471.2,1000.9 471.7,1002.7 472.1,1005.2 472.4,1000.1 472.5,996.3 472.7,985.3 473.0,975.5 473.3,986.4 473.4,993.8 473.6,999.5 473.9,1002.0 474.3,999.8 474.7,993.5 475.0,994.7 475.2,986.3 475.3,998.1 475.6,1002.8 476.0,1004.1 476.5,1007.5 476.9,1008.2 477.4,1006.2 477.8,1006.6 478.2,1003.7 478.7,1003.6 479.1,1007.3 479.5,1001.1 479.7,998.6 480.0,990.4 480.3,984.1 480.4,985.3 480.6,989.4 480.9,1000.4 481.3,1005.8 481.7,1006.2 482.0,999.0 482.2,998.9 482.3,989.7 482.6,977.5 482.9,974.1 483.1,971.6 483.2,980.7 483.5,997.9 483.9,998.4 484.4,1003.5 484.8,1003.4 485.0,996.0 485.2,987.4 485.5,986.4 485.7,981.0 485.8,964.2 486.1,949.9 486.4,971.1 486.6,980.1 486.7,989.4 487.0,1000.7 487.4,1000.8 487.9,992.8 488.2,984.4 488.3,977.1 488.5,976.1 488.7,978.7 489.0,980.3 489.2,972.3 489.3,967.7 489.6,976.8 489.9,993.1 490.1,1004.0 490.5,1003.9 490.9,1000.2 491.4,993.1 491.7,987.8 491.8,990.5 492.0,994.4 492.3,1003.3 492.7,1001.3 493.1,1002.0 493.6,1004.6 494.0,999.6 494.4,1006.1 494.9,1010.7 495.3,1005.6 495.8,1007.8 496.2,1004.4 496.6,1005.8 497.1,1005.7 497.5,1004.1 497.9,1006.5 498.4,1005.8 498.8,1005.5 499.3,1001.0 499.7,1005.3 499.8,997.0 500.1,980.7 500.4,975.0 500.6,980.4 500.7,988.6 501.0,1002.8 501.4,1001.2 501.9,999.1 502.2,989.6 502.3,982.5 502.5,975.1 502.8,976.9 503.1,997.2 503.2,998.4 503.3,1001.3 503.6,996.2 504.1,1008.9 504.5,1000.4 504.8,989.4 505.0,995.0 505.1,995.4 505.4,1002.0 505.8,1006.8 506.3,1008.3 506.7,1002.2 507.1,1006.0 507.6,1005.6 508.0,1010.7 508.5,1001.4 508.9,1004.8 509.2,998.2 509.3,991.3 509.5,979.7 509.8,961.2 510.1,968.3 510.2,981.9 510.4,994.0 510.6,997.3 511.1,1004.1 511.5,1004.5 511.8,996.7 512.0,990.7 512.1,986.3 512.4,981.4 512.7,986.2 512.8,982.5 513.0,980.3 513.3,986.0 513.6,996.6 513.7,1002.5 514.2,1002.8 514.6,1002.3 515.0,1001.9 515.3,997.8 515.5,995.3 515.6,994.2 515.9,1000.6 516.3,1006.4 516.8,1002.3 517.2,1008.4 517.7,1008.0 518.1,1006.8 518.5,1004.5 519.0,1006.1 519.4,1002.7 519.8,1007.0 520.3,1004.0 520.7,1007.1 521.2,1009.9 521.6,1008.4 522.0,1002.8 522.3,995.3 522.5,988.8 522.6,984.4 522.9,991.4 523.3,998.6 523.8,1005.7 524.2,1003.6 524.7,1002.8 525.0,1001.1 525.1,997.0 525.2,994.1 525.5,999.7 526.0,1005.8 526.4,1007.2 526.9,1004.6 527.3,1005.1 527.7,1010.0 528.2,1008.1 528.6,1002.2 529.0,1004.9 529.5,998.8 529.6,994.0 529.9,992.9 530.2,991.4 530.4,998.3 530.8,1008.8 531.2,1004.1 531.7,1007.9 532.1,999.4 532.3,998.5 532.5,1001.1 533.0,1001.2 533.4,1009.5 533.9,1005.2 534.3,1003.5 534.7,1004.4 535.2,1004.0 535.6,1004.7 536.1,1010.7 536.5,1006.5 536.9,1005.5 537.4,1005.9 537.8,1005.6 538.2,1006.2 538.7,1003.2 539.1,1002.2 539.6,998.0 539.8,983.5 540.0,968.3 540.1,962.7 540.4,979.4 540.7,1002.0 540.9,997.9 541.3,1001.4 541.7,1010.3 542.2,1002.8 542.5,989.7 542.6,988.2 542.8,984.8 543.1,995.5 543.4,1002.5 543.5,1004.3 543.9,1006.1 544.4,1003.9 544.8,1005.3 545.2,1009.5 545.7,1005.9 546.1,1008.2 546.6,1006.9 547.0,1009.1 547.4,1006.0 547.9,1008.9 548.3,1002.9 548.8,1004.1 549.2,1003.4 549.6,1002.1 550.1,1006.2 550.5,1006.7 550.9,1011.4 551.4,1005.1 551.8,1003.9 552.3,1005.6 552.7,1007.5 553.1,1005.0 553.6,1004.3 554.0,1010.4 554.4,1010.2 554.9,1006.4 555.3,1010.0 555.8,1003.7 556.2,1001.3 556.5,1000.4 556.6,996.8 556.8,991.9 557.1,992.0 557.4,998.6 557.5,1002.4 558.0,1006.6 558.4,1007.0 558.8,1010.3 559.3,1002.2 559.7,998.7 560.1,1004.9 560.6,1002.9 561.0,1007.4 561.5,1005.1 561.9,1002.1 562.3,1009.0 562.8,1007.6 563.2,1007.5 118.9,855.0 119.1,858.5 290.6,786.7 290.7,792.5 263.5,866.0 266.5,868.0 460.6,955.0 460.7,959.7 486.1,951.4 486.3,958.0 509.8,960.6 510.2,967.0 187.5,959.0 187.7,968.0 375.9,935.0 376.0,943.0 226.1,748.6 226.2,782.0 226.2,825.0 316.4,863.0 316.5,878.0 540.1,963.0 540.5,971.0 235.7,884.0" fill="none" stroke="none" marker-start="url(#mk)" marker-mid="url(#mk)" marker-end="url(#mk)"/>
<path d="M52.5,999.7 L53.2,999.3 L54.0,1000.5 L54.7,1001.3 L55.4,999.2 L56.1,999.3 L56.9,997.4 L57.6,999.5 L58.3,999.2 L59.1,997.5 L59.8,999.9 L60.5,1000.2 L61.3,998.9 L62.0,999.3 L62.7,998.7 L63.4,1000.4 L64.2,998.1 L64.9,999.3 L65.6,1001.6 L66.4,999.7 L67.1,1000.1 L67.8,999.5 L68.6,998.5 L69.3,999.6 L70.0,1000.1 L70.7,998.6 L71.5,1000.0 L72.2,1000.9 L72.9,1000.7 L73.7,998.1 L74.4,998.7 L75.1,998.1 L75.9,1000.8 L76.6,1000.3 L77.3,1000.4 L78.0,998.8 L78.8,998.5 L79.5,999.8 L80.2,999.8 L81.0,998.9 L81.7,999.9 L82.4,1000.4 L83.2,999.9 L83.9,998.7 L84.6,997.6 L85.3,999.5 L86.1,999.9 L86.8,999.5 L87.5,999.3 L88.3,999.0 L89.0,1000.5 L89.7,999.7 L90.5,999.9 L91.2,998.8 L91.9,999.1 L92.6,999.9 L93.4,998.8 L94.1,998.5 L94.8,999.4 L95.6,1001.0 L96.3,1000.0 L97.0,1001.2 L97.8,999.6 L98.5,999.5 L99.2,998.4 L99.9,999.2 L100.7,1001.2 L101.4,1000.1 L102.1,1000.5 L102.9,1000.5 L103.6,999.8 L104.3,999.4 L105.1,999.6 L105.8,1000.0 L106.5,999.6 L107.2,999.5 L108.0,999.0 L108.7,998.0 L109.4,998.3 L110.2,997.5 L110.9,999.3 L111.6,996.0 L112.4,997.7 L113.1,1000.2 L113.8,997.3 L114.5,996.4 L115.3,997.4 L116.0,998.5 L116.7,996.9 L117.5,997.6 L118.2,996.9 L118.9,996.3 L119.7,999.7 L120.4,996.5 L121.1,995.8 L121.8,995.7 L122.6,996.5 L123.3,996.5 L124.0,996.8 L124.8,996.1 L125.5,994.4 L126.2,996.3 L127.0,995.4 L127.7,995.4 L128.4,994.1 L129.1,995.0 L129.9,994.7 L130.6,995.4 L131.3,993.9 L132.1,995.3 L132.8,995.3 L133.5,994.1 L134.3,994.7 L135.0,994.5 L135.7,996.4 L136.4,993.0 L137.2,995.3 L137.9,994.0 L138.6,995.3 L139.4,996.6 L140.1,995.2 L140.8,996.1 L141.6,995.2 L142.3,998.0 L143.0,997.0 L143.7,997.3 L144.5,995.0 L145.2,995.4 L145.9,997.7 L146.7,996.6 L147.4,996.7 L148.1,997.5 L148.9,996.0 L149.6,998.2 L150.3,997.6 L151.0,998.2 L151.8,997.2 L152.5,998.6 L153.2,997.5 L154.0,999.3 L154.7,999.6 L155.4,999.5 L156.2,999.3 L156.9,999.5 L157.6,996.3 L158.3,1000.0 L159.1,999.0 L159.8,999.5 L160.5,999.2 L161.3,998.2 L162.0,999.2 L162.7,1000.5 L163.5,1001.4 L164.2,999.5 L164.9,999.3 L165.6,1001.8 L166.4,999.6 L167.1,1002.7 L167.8,1000.8 L168.6,1000.0 L169.3,1002.0 L170.0,1002.8 L170.8,999.8 L171.5,1002.9 L172.2,1001.2 L172.9,1003.1 L173.7,1001.3 L174.4,1000.3 L175.1,1002.5 L175.9,1003.0 L176.6,1004.3 L177.3,1004.0 L178.1,1003.1 L178.8,1002.3 L179.5,1002.2 L180.2,1002.5 L181.0,1002.1 L181.7,1002.8 L182.4,1000.6 L183.2,1003.5 L183.9,1003.4 L184.6,1006.0 L185.4,1004.2 L186.1,1003.0 L186.8,1004.0 L187.5,1002.3 L188.3,1002.9 L189.0,1001.7 L189.7,1005.0 L190.5,1004.2 L191.2,1002.4 L191.9,1003.6 L192.7,1004.6 L193.4,1004.2 L194.1,1004.1 L194.8,1002.8 L195.6,1003.1 L196.3,1003.8 L197.0,1004.7 L197.8,1003.0 L198.5,1002.7 L199.2,1005.0 L200.0,1002.9 L200.7,1004.9 L201.4,1004.1 L202.1,1004.8 L202.9,1005.7 L203.6,1004.6 L204.3,1004.7 L205.1,1003.1 L205.8,1003.3 L206.5,1004.6 L207.3,1005.5 L208.0,1005.4 L208.7,1006.3 L209.4,1004.3 L210.2,1004.2 L210.9,1004.9 L211.6,1004.0 L212.4,1003.9 L213.1,1002.9 L213.8,1004.9 L214.6,1002.8 L215.3,1004.4 L216.0,1002.5 L216.7,1005.0 L217.5,1002.8 L218.2,1004.7 L218.9,1002.3 L219.7,1003.4 L220.4,1005.0 L221.1,1003.0 L221.9,1003.9 L222.6,1003.3 L223.3,1001.5 L224.0,1004.1 L224.8,1004.2 L225.5,1002.7 L226.2,1004.3 L227.0,1003.0 L227.7,1002.7 L228.4,1003.7 L229.2,1003.1 L229.9,1006.0 L230.6,1002.2 L231.3,1004.4 L232.1,1004.7 L232.8,1001.7 L233.5,1002.0 L234.3,1004.2 L235.0,1003.2 L235.7,1004.0 L236.5,1004.8 L237.2,1003.3 L237.9,1002.6 L238.6,1000.9 L239.4,1003.8 L240.1,1002.7 L240.8,1003.9 L241.6,1003.8 L242.3,1002.2 L243.0,1005.3 L243.8,1004.6 L244.5,1004.4 L245.2,1002.4 L245.9,1003.1 L246.7,1003.0 L247.4,1003.1 L248.1,1002.4 L248.9,1003.9 L249.6,1003.7 L250.3,1003.9 L251.1,1003.0 L251.8,1004.8 L252.5,1003.7 L253.2,1000.7 L254.0,1002.8 L254.7,1003.4 L255.4,1004.4 L256.2,1003.2 L256.9,1003.2 L257.6,1002.8 L258.4,1004.1 L259.1,1003.0 L259.8,1002.8 L260.5,1002.7 L261.3,1004.0 L262.0,1002.9 L262.7,1001.8 L263.5,1004.0 L264.2,1002.7 L264.9,1003.8 L265.7,1003.8 L266.4,1004.6 L267.1,1004.5 L267.8,1002.8 L268.6,1003.2 L269.3,1002.1 L270.0,1005.1 L270.8,1003.8 L271.5,1004.8 L272.2,1003.1 L273.0,1001.3 L273.7,1004.9 L274.4,1003.5 L275.1,1003.5 L275.9,1003.4 L276.6,1004.0 L277.3,1003.9 L278.1,1001.8 L278.8,1004.4 L279.5,1002.8 L280.3,1002.9 L281.0,1005.1 L281.7,1004.3 L282.4,1003.0 L283.2,1001.5 L283.9,1003.5 L284.6,1003.9 L285.4,1003.2 L286.1,1002.1 L286.8,1002.5 L287.6,1002.0 L288.3,1003.5 L289.0,1004.1 L289.7,1004.3 L290.5,1002.6 L291.2,1003.5 L291.9,1003.8 L292.7,1002.8 L293.4,1003.1 L294.1,1005.4 L294.9,1003.5 L295.6,1004.1 L296.3,1002.8 L297.0,1003.3 L297.8,1001.5 L298.5,1003.2 L299.2,1004.4 L300.0,1005.3 L300.7,1004.4 L301.4,1003.9 L302.2,1003.3 L302.9,1002.6 L303.6,1003.1 L304.3,1003.8 L305.1,1002.4 L305.8,1004.1 L306.5,1002.2 L307.3,1001.4 L308.0,1002.2 L308.7,1001.5 L309.5,1001.8 L310.2,1004.3 L310.9,1003.0 L311.6,1003.4 L312.4,1004.3 L313.1,1004.4 L313.8,1002.7 L314.6,1004.5 L315.3,1003.5 L316.0,1003.2 L316.8,1003.6 L317.5,1001.7 L318.2,1002.4 L318.9,1003.0 L319.7,1003.7 L320.4,1002.8 L321.1,1003.0 L321.9,1004.1 L322.6,1004.5 L323.3,1003.9 L324.1,1004.4 L324.8,1002.7 L325.5,1002.8 L326.2,1003.4 L327.0,1002.8 L327.7,1002.6 L328.4,1004.7 L329.2,1002.9 L329.9,1002.1 L330.6,1003.6 L331.4,1004.9 L332.1,1003.1 L332.8,1004.3 L333.5,1002.6 L334.3,1002.6 L335.0,1002.4 L335.7,1002.9 L336.5,1004.9 L337.2,1001.9 L337.9,1004.7 L338.7,1002.0 L339.4,1002.8 L340.1,1003.9 L340.8,1003.6 L341.6,1003.3 L342.3,1001.4 L343.0,1003.4 L343.8,1002.0 L344.5,1005.6 L345.2,1002.8 L346.0,1003.3 L346.7,1001.9 L347.4,1002.6 L348.1,1001.9 L348.9,1004.2 L349.6,1003.0 L350.3,1003.8 L351.1,1002.6 L351.8,1002.8 L352.5,1004.6 L353.3,1002.4 L354.0,1001.6 L354.7,1003.8 L355.4,1002.3 L356.2,1003.1 L356.9,1004.4 L357.6,1002.7 L358.4,1004.5 L359.1,1002.9 L359.8,1005.1 L360.6,1005.0 L361.3,1003.2 L362.0,1003.5 L362.7,1002.9 L363.5,1004.0 L364.2,1005.0 L364.9,1002.4 L365.7,1004.8 L366.4,1002.6 L367.1,1003.1 L367.9,1002.2 L368.6,1006.1 L369.3,1004.1 L370.0,1004.3 L370.8,1003.4 L371.5,1005.2 L372.2,1002.1 L373.0,1004.2 L373.7,1006.5 L374.4,1003.9 L375.2,1004.3 L375.9,1005.0 L376.6,1003.6 L377.3,1004.4 L378.1,1005.4 L378.8,1004.7 L379.5,1004.9 L380.3,1004.2 L381.0,1004.9 L381.7,1004.6 L382.5,1006.1 L383.2,1005.4 L383.9,1004.4 L384.6,1002.3 L385.4,1005.5 L386.1,1005.5 L386.8,1003.9 L387.6,1002.8 L388.3,1003.7 L389.0,1005.8 L389.8,1003.9 L390.5,1004.5 L391.2,1005.2 L391.9,1006.3 L392.7,1005.0 L393.4,1005.0 L394.1,1004.6 L394.9,1006.8 L395.6,1006.3 L396.3,1005.1 L397.1,1003.9 L397.8,1004.5 L398.5,1005.9 L399.2,1004.6 L400.0,1006.3 L400.7,1005.8 L401.4,1005.7 L402.2,1006.1 L402.9,1006.0 L403.6,1004.7 L404.4,1005.2 L405.1,1007.9 L405.8,1004.4 L406.5,1005.1 L407.3,1006.7 L408.0,1005.5 L408.7,1004.9 L409.5,1004.4 L410.2,1006.3 L410.9,1006.8 L411.7,1007.2 L412.4,1005.8 L413.1,1006.9 L413.8,1004.8 L414.6,1006.0 L415.3,1005.2 L416.0,1006.1 L416.8,1006.7 L417.5,1007.0 L418.2,1005.0 L419.0,1007.3 L419.7,1005.5 L420.4,1005.0 L421.1,1005.9 L421.9,1004.6 L422.6,1006.1 L423.3,1006.4 L424.1,1006.0 L424.8,1006.7 L425.5,1005.9 L426.3,1006.2 L427.0,1004.8 L427.7,1006.3 L428.4,1005.4 L429.2,1005.9 L429.9,1006.2 L430.6,1006.5 L431.4,1004.7 L432.1,1004.8 L432.8,1006.1 L433.6,1006.9 L434.3,1006.8 L435.0,1007.3 L435.7,1007.7 L436.5,1006.9 L437.2,1006.4 L437.9,1005.4 L438.7,1005.5 L439.4,1006.0 L440.1,1006.7 L440.9,1006.6 L441.6,1006.4 L442.3,1006.3 L443.0,1007.1 L443.8,1006.6 L444.5,1006.7 L445.2,1006.7 L446.0,1005.9 L446.7,1005.4 L447.4,1006.9 L448.2,1006.9 L448.9,1006.2 L449.6,1006.0 L450.3,1008.7 L451.1,1005.7 L451.8,1006.2 L452.5,1006.7 L453.3,1005.3 L454.0,1006.6 L454.7,1008.3 L455.5,1007.4 L456.2,1007.1 L456.9,1007.1 L457.6,1006.6 L458.4,1007.4 L459.1,1006.3 L459.8,1006.1 L460.6,1006.6 L461.3,1007.4 L462.0,1006.8 L462.8,1007.2 L463.5,1004.5 L464.2,1007.7 L464.9,1008.8 L465.7,1007.8 L466.4,1006.2 L467.1,1005.7 L467.9,1006.8 L468.6,1005.5 L469.3,1007.2 L470.1,1006.0 L470.8,1007.5 L471.5,1007.9 L472.2,1004.5 L473.0,1006.8 L473.7,1005.8 L474.4,1005.1 L475.2,1005.9 L475.9,1006.3 L476.6,1007.6 L477.4,1005.0 L478.1,1007.6 L478.8,1008.6 L479.5,1007.1 L480.3,1007.1 L481.0,1006.5 L481.7,1005.4 L482.5,1007.1 L483.2,1006.9 L483.9,1007.3 L484.7,1009.1 L485.4,1007.3 L486.1,1007.0 L486.8,1008.1 L487.6,1005.2 L488.3,1005.4 L489.0,1006.2 L489.8,1005.9 L490.5,1007.3 L491.2,1006.3 L492.0,1008.3 L492.7,1008.1 L493.4,1007.4 L494.1,1006.2 L494.9,1007.2 L495.6,1007.4 L496.3,1005.5 L497.1,1006.9 L497.8,1007.3 L498.5,1006.8 L499.3,1008.2 L500.0,1007.8 L500.7,1005.8 L501.4,1006.7 L502.2,1005.8 L502.9,1007.2 L503.6,1005.8 L504.4,1007.5 L505.1,1007.0 L505.8,1007.6 L506.6,1006.5 L507.3,1005.2 L508.0,1008.4 L508.7,1006.5 L509.5,1008.0 L510.2,1007.1 L510.9,1007.3 L511.7,1008.5 L512.4,1007.0 L513.1,1008.0 L513.9,1005.2 L514.6,1007.5 L515.3,1006.4 L516.0,1006.5 L516.8,1006.7 L517.5,1007.0 L518.2,1008.3 L519.0,1004.8 L519.7,1006.7 L520.4,1006.0 L521.2,1007.8 L521.9,1006.3 L522.6,1007.1 L523.3,1006.3 L524.1,1007.3 L524.8,1007.7 L525.5,1006.3 L526.3,1006.7 L527.0,1005.3 L527.7,1007.0 L528.5,1007.5 L529.2,1006.1 L529.9,1007.8 L530.6,1004.6 L531.4,1004.9 L532.1,1005.3 L532.8,1006.2 L533.6,1006.7 L534.3,1006.6 L535.0,1006.6 L535.8,1007.4 L536.5,1006.2 L537.2,1005.5 L537.9,1005.5 L538.7,1008.8 L539.4,1004.4 L540.1,1006.6 L540.9,1008.2 L541.6,1007.2 L542.3,1005.9 L543.1,1006.7 L543.8,1007.6 L544.5,1008.0 L545.2,1005.8 L546.0,1007.5 L546.7,1007.0 L547.4,1007.9 L548.2,1008.1 L548.9,1006.4 L549.6,1005.3 L550.4,1007.2 L551.1,1008.5 L551.8,1007.5 L552.5,1007.0 L553.3,1009.2 L554.0,1005.7 L554.7,1007.7 L555.5,1006.2 L556.2,1006.8 L556.9,1006.9 L557.7,1008.3 L558.4,1005.8 L559.1,1006.3 L559.8,1005.2 L560.6,1007.3 L561.3,1006.3 L562.0,1007.2 L562.8,1005.7 L563.5,1006.4" fill="none" stroke="#f10000" stroke-width="10" stroke-linejoin="round" opacity="0.88"/>
</g>
<path d="M52.5,999.6 L70.7,999.5 L72.2,999.0 L72.8,998.3 L72.9,997.8 L73.1,997.0 L73.2,995.4 L73.4,992.4 L73.5,987.5 L73.7,981.0 L73.8,974.8 L74.0,972.3 L74.1,974.1 L74.3,978.1 L74.5,989.0 L74.7,993.1 L74.8,995.7 L75.0,997.1 L75.1,997.9 L75.4,998.6 L76.3,999.3 L79.9,999.6 L104.0,999.7 L113.8,997.3 L115.9,996.3 L116.7,995.3 L117.2,994.3 L117.5,993.2 L117.6,992.4 L117.8,991.4 L117.9,989.7 L118.1,987.0 L118.2,981.8 L118.3,971.9 L118.5,954.7 L118.6,929.7 L118.8,901.6 L118.9,884.2 L119.1,887.4 L119.2,900.4 L119.4,911.9 L119.5,924.2 L119.7,941.5 L119.8,959.2 L120.0,972.9 L120.1,981.8 L120.2,986.9 L120.4,989.6 L120.5,991.2 L120.7,992.2 L121.0,993.4 L121.4,994.3 L122.4,995.2 L124.8,995.6 L133.7,995.2 L136.9,995.2 L137.5,994.8 L137.6,994.5 L137.8,993.8 L137.9,992.6 L138.1,990.7 L138.2,988.2 L138.3,986.0 L138.5,985.6 L138.8,988.0 L139.1,989.5 L139.4,992.4 L139.5,993.6 L139.7,994.4 L140.0,995.2 L141.0,995.7 L147.7,997.0 L155.4,998.4 L156.7,998.2 L157.2,997.7 L157.3,997.4 L157.5,996.9 L157.6,995.8 L157.8,993.7 L157.9,990.0 L158.1,984.7 L158.2,978.9 L158.3,975.8 L158.5,977.4 L158.6,981.1 L158.8,983.6 L159.1,985.4 L159.2,988.0 L159.4,991.3 L159.5,994.2 L159.7,996.2 L159.8,997.3 L160.0,997.9 L160.4,998.7 L161.9,999.5 L169.3,1000.8 L170.2,1000.7 L170.5,1000.2 L170.6,999.6 L170.8,998.5 L171.1,996.1 L171.2,996.0 L171.5,997.7 L171.6,998.1 L171.9,998.3 L172.4,1000.4 L172.7,1001.1 L173.8,1001.6 L184.0,1003.2 L185.8,1002.8 L186.4,1002.1 L186.5,1001.8 L186.7,1001.1 L186.8,999.9 L187.0,997.6 L187.1,993.7 L187.3,987.9 L187.4,981.7 L187.5,978.5 L187.7,980.7 L187.8,985.4 L188.0,988.9 L188.1,989.8 L188.3,989.2 L188.4,989.5 L188.6,992.0 L188.7,995.4 L188.9,998.2 L189.0,1000.0 L189.2,1000.9 L189.3,1001.2 L189.4,1001.1 L189.6,1000.3 L189.7,998.9 L189.9,997.1 L190.0,995.6 L190.2,995.5 L190.5,998.3 L190.6,999.0 L190.9,998.9 L191.1,999.3 L191.3,1001.3 L191.5,1002.1 L191.8,1002.9 L192.8,1003.4 L204.6,1003.9 L217.2,1003.4 L220.8,1002.7 L222.3,1001.9 L223.2,1000.7 L223.8,999.2 L224.0,997.9 L224.3,996.1 L224.5,994.8 L224.6,993.2 L224.8,991.1 L224.9,988.2 L225.1,983.8 L225.2,976.2 L225.4,961.5 L225.5,933.0 L225.7,883.7 L225.8,812.6 L225.9,736.3 L226.1,698.1 L226.2,730.3 L226.4,797.5 L226.5,852.8 L226.7,876.0 L226.8,868.0 L227.0,845.5 L227.1,837.9 L227.3,863.0 L227.4,903.6 L227.6,939.7 L227.7,964.3 L227.8,978.4 L228.0,985.9 L228.1,990.0 L228.3,992.5 L228.4,994.2 L228.6,995.5 L228.9,997.2 L229.3,998.7 L229.7,999.3 L230.2,999.3 L230.5,998.8 L230.8,997.9 L230.9,997.0 L231.1,995.5 L231.2,992.7 L231.3,987.0 L231.5,976.6 L231.6,959.8 L231.8,938.5 L231.9,921.0 L232.1,920.3 L232.2,936.1 L232.4,954.4 L232.5,966.0 L232.7,968.3 L232.8,963.3 L233.0,957.0 L233.1,957.6 L233.2,966.5 L233.4,977.5 L233.5,986.3 L233.7,991.8 L233.8,994.7 L234.0,996.0 L234.1,996.5 L234.3,996.5 L234.4,996.1 L234.6,995.4 L234.7,994.0 L234.9,991.3 L235.0,985.8 L235.1,975.1 L235.3,956.2 L235.4,929.0 L235.6,899.8 L235.7,885.3 L235.9,898.0 L236.0,924.5 L236.2,946.8 L236.3,957.0 L236.5,955.0 L236.6,945.8 L236.8,939.5 L236.9,945.5 L237.2,975.2 L237.3,985.9 L237.5,992.4 L237.6,995.9 L237.8,997.8 L237.9,998.9 L238.2,1000.2 L238.6,1001.2 L239.5,1002.2 L241.4,1002.9 L247.7,1003.2 L258.1,1002.9 L260.5,1002.4 L261.6,1001.6 L262.2,1000.5 L262.4,999.4 L262.6,998.5 L262.7,997.1 L262.9,994.6 L263.0,989.7 L263.2,980.5 L263.3,965.9 L263.5,947.4 L263.6,932.1 L263.8,931.6 L263.9,945.8 L264.1,962.8 L264.2,974.6 L264.3,979.0 L264.5,976.6 L264.6,969.6 L264.8,963.0 L264.9,963.1 L265.1,970.5 L265.2,979.5 L265.4,986.3 L265.5,990.1 L265.7,991.3 L265.8,990.1 L266.0,985.8 L266.1,976.6 L266.2,960.0 L266.4,936.0 L266.5,910.1 L266.7,897.5 L266.8,909.2 L267.0,933.9 L267.1,955.7 L267.3,968.0 L267.4,969.7 L267.6,962.9 L267.7,952.3 L267.8,946.1 L268.0,951.7 L268.1,964.7 L268.3,977.4 L268.4,986.5 L268.6,991.7 L268.7,994.4 L268.9,995.6 L269.0,996.0 L269.2,996.1 L269.3,995.8 L269.5,995.2 L269.6,994.0 L269.7,991.9 L269.9,987.8 L270.0,979.5 L270.2,964.0 L270.3,939.0 L270.5,907.3 L270.6,881.2 L270.8,880.7 L270.9,905.5 L271.1,935.3 L271.2,956.6 L271.4,965.4 L271.5,962.5 L271.6,951.5 L271.8,939.2 L271.9,936.7 L272.1,948.1 L272.2,964.6 L272.4,978.6 L272.5,987.9 L272.7,993.1 L272.8,995.8 L273.0,997.3 L273.1,998.1 L273.4,999.1 L273.8,999.8 L274.3,999.7 L274.6,999.2 L274.9,998.2 L275.0,997.3 L275.1,995.7 L275.3,992.8 L275.4,986.9 L275.6,976.0 L275.7,958.5 L275.9,936.3 L276.0,918.1 L276.2,917.7 L276.3,935.1 L276.5,956.1 L276.6,971.3 L276.8,977.9 L276.9,976.4 L277.0,969.0 L277.2,959.9 L277.3,956.5 L277.5,963.1 L277.6,974.6 L277.8,984.9 L277.9,991.9 L278.1,996.0 L278.2,998.1 L278.4,999.3 L278.7,1000.5 L279.2,1001.5 L280.4,1002.3 L283.3,1002.6 L286.2,1002.1 L287.6,1001.3 L288.3,1000.1 L288.7,998.8 L289.0,997.3 L289.2,996.2 L289.3,994.8 L289.5,992.8 L289.6,989.9 L289.7,984.7 L289.9,974.8 L290.0,955.4 L290.2,921.7 L290.3,873.2 L290.5,821.2 L290.6,795.8 L290.8,819.5 L290.9,869.5 L291.1,914.9 L291.2,942.9 L291.4,951.7 L291.5,943.7 L291.6,923.9 L291.8,901.7 L291.9,894.2 L292.1,910.7 L292.2,937.9 L292.4,961.9 L292.5,978.1 L292.7,987.4 L292.8,992.3 L293.0,994.9 L293.1,996.5 L293.3,997.6 L293.5,999.0 L294.0,1000.3 L294.7,1001.4 L296.2,1002.2 L298.9,1002.4 L300.8,1001.9 L301.4,1001.4 L301.7,1000.5 L302.0,999.1 L302.2,998.5 L302.6,998.5 L302.7,998.1 L302.9,997.2 L303.0,995.5 L303.2,992.2 L303.3,985.9 L303.5,974.5 L303.6,956.7 L303.8,934.3 L303.9,915.9 L304.1,915.7 L304.2,933.7 L304.3,955.5 L304.5,971.9 L304.6,980.4 L304.8,981.5 L304.9,976.3 L305.1,966.7 L305.2,956.8 L305.4,953.6 L305.5,960.0 L305.7,969.4 L305.8,974.9 L306.0,973.8 L306.1,966.3 L306.2,956.1 L306.4,951.3 L306.5,957.5 L306.7,969.7 L306.8,980.8 L307.0,987.9 L307.1,990.9 L307.3,990.1 L307.4,986.3 L307.6,981.0 L307.7,977.0 L307.9,978.2 L308.0,983.8 L308.1,990.1 L308.3,994.8 L308.4,997.8 L308.6,999.4 L308.7,1000.2 L309.0,1001.0 L309.8,1001.8 L311.4,1002.1 L313.1,1001.7 L314.0,1000.9 L314.4,1000.1 L314.7,999.1 L315.0,997.6 L315.2,996.5 L315.3,994.8 L315.4,992.1 L315.6,987.1 L315.7,977.3 L315.9,959.0 L316.0,929.7 L316.2,892.6 L316.3,862.1 L316.5,861.7 L316.6,891.2 L316.8,927.1 L316.9,954.6 L317.1,969.7 L317.2,973.5 L317.3,967.6 L317.5,954.0 L317.6,937.1 L317.8,926.7 L317.9,933.2 L318.2,969.2 L318.4,982.3 L318.5,990.1 L318.7,994.3 L318.8,996.4 L318.9,997.6 L319.1,998.3 L319.4,999.1 L319.7,999.1 L319.8,998.7 L320.0,997.6 L320.1,995.2 L320.3,991.0 L320.4,984.7 L320.6,978.0 L320.7,974.8 L320.8,978.1 L321.0,984.8 L321.1,990.9 L321.3,995.0 L321.4,996.9 L321.6,996.8 L321.7,995.1 L322.0,989.3 L322.2,988.4 L322.3,990.7 L322.5,994.2 L322.6,997.4 L322.7,999.4 L322.9,1000.6 L323.0,1001.3 L323.5,1002.0 L324.9,1002.6 L332.4,1002.9 L343.2,1002.8 L343.8,1002.4 L343.9,1002.0 L344.1,1001.4 L344.4,999.4 L344.5,998.9 L344.6,999.4 L344.9,1001.3 L345.1,1001.9 L345.2,1002.3 L345.5,1002.2 L346.0,1001.0 L346.1,1001.0 L346.5,1002.3 L347.0,1002.9 L356.3,1003.4 L364.5,1003.5 L365.4,1003.1 L365.5,1002.9 L365.7,1002.4 L365.8,1001.4 L366.0,999.7 L366.3,994.7 L366.4,993.5 L366.5,994.7 L366.8,999.6 L367.0,1001.2 L367.1,1002.1 L367.3,1002.4 L367.4,1002.3 L367.6,1001.7 L367.7,1000.7 L367.9,999.5 L368.0,998.6 L368.2,998.8 L368.4,1001.3 L368.6,1002.3 L368.7,1002.9 L369.0,1003.4 L370.6,1003.7 L373.0,1003.4 L374.0,1002.7 L374.4,1001.8 L374.7,1000.8 L374.9,1000.0 L375.0,998.8 L375.2,996.7 L375.3,992.6 L375.5,984.6 L375.6,970.6 L375.7,950.4 L375.9,928.8 L376.0,918.4 L376.2,928.5 L376.3,949.8 L376.5,969.6 L376.6,983.0 L376.8,990.3 L376.9,993.1 L377.1,992.6 L377.2,988.9 L377.3,981.6 L377.5,971.4 L377.6,962.1 L377.8,960.7 L377.9,968.8 L378.1,980.0 L378.2,989.3 L378.4,995.3 L378.5,998.6 L378.7,1000.3 L378.8,1001.3 L379.1,1002.2 L379.7,1003.1 L380.7,1003.5 L381.6,1003.2 L382.0,1002.6 L382.3,1001.6 L382.5,1000.6 L382.6,998.6 L382.8,994.6 L382.9,987.6 L383.0,977.6 L383.2,966.9 L383.3,961.7 L383.5,966.8 L383.6,977.4 L383.8,987.2 L383.9,994.0 L384.1,997.6 L384.2,999.1 L384.4,999.1 L384.5,997.6 L384.6,994.4 L384.9,984.6 L385.1,982.6 L385.2,985.6 L385.4,991.1 L385.5,996.1 L385.7,999.5 L385.8,1001.4 L386.0,1002.5 L386.3,1003.3 L387.0,1004.0 L388.3,1004.1 L388.7,1003.7 L388.9,1003.4 L389.0,1002.8 L389.2,1001.6 L389.3,999.5 L389.6,993.1 L389.8,991.5 L389.9,993.1 L390.2,999.4 L390.3,1001.5 L390.5,1002.6 L390.6,1003.1 L390.8,1003.1 L390.9,1002.7 L391.1,1001.8 L391.4,998.8 L391.5,997.8 L391.7,998.4 L391.9,1001.6 L392.1,1002.7 L392.2,1003.2 L392.4,1003.4 L392.5,1003.3 L392.7,1002.8 L392.8,1001.8 L393.0,999.8 L393.3,993.9 L393.4,992.4 L393.6,993.9 L393.8,999.9 L394.0,1001.8 L394.1,1002.9 L394.3,1003.4 L394.4,1003.5 L394.6,1003.2 L394.7,1002.4 L394.9,1001.2 L395.0,999.7 L395.2,998.6 L395.3,999.1 L395.6,1002.1 L395.7,1003.3 L395.9,1004.0 L396.2,1004.5 L397.5,1004.9 L399.2,1004.8 L399.7,1004.5 L399.8,1004.2 L400.0,1003.7 L400.1,1002.7 L400.3,1000.9 L400.6,995.6 L400.7,994.2 L400.9,995.5 L401.1,1000.7 L401.3,1002.4 L401.4,1003.3 L401.6,1003.6 L401.7,1003.6 L401.9,1003.2 L402.0,1002.4 L402.2,1000.8 L402.3,998.3 L402.5,995.3 L402.6,992.5 L402.8,990.7 L402.9,990.6 L403.0,993.2 L403.2,996.8 L403.3,1000.0 L403.5,1002.1 L403.6,1003.2 L403.8,1003.8 L403.9,1003.9 L404.1,1003.8 L404.2,1003.2 L404.4,1002.2 L404.7,999.5 L404.8,999.4 L404.9,1000.6 L405.1,1002.1 L405.2,1003.4 L405.4,1004.2 L405.7,1004.9 L406.8,1005.4 L411.4,1005.4 L412.5,1005.0 L412.8,1004.6 L413.0,1004.1 L413.1,1003.2 L413.3,1001.5 L413.4,998.4 L413.6,994.0 L413.7,989.4 L413.8,987.1 L414.0,989.3 L414.1,994.0 L414.3,998.3 L414.4,1001.3 L414.6,1002.9 L414.7,1003.7 L414.9,1003.9 L415.0,1003.7 L415.2,1003.0 L415.3,1001.6 L415.6,997.2 L415.7,996.2 L415.9,997.4 L416.2,1001.9 L416.3,1003.5 L416.5,1004.3 L416.8,1005.0 L417.6,1005.3 L418.4,1005.1 L418.7,1004.7 L418.8,1004.2 L419.0,1003.3 L419.1,1001.6 L419.3,998.5 L419.4,994.1 L419.5,989.4 L419.7,987.1 L419.8,989.3 L420.0,994.0 L420.1,998.4 L420.3,1001.4 L420.4,1003.1 L420.6,1003.9 L420.7,1004.1 L420.9,1004.0 L421.0,1003.4 L421.1,1002.2 L421.3,1000.2 L421.4,997.9 L421.6,996.4 L421.7,997.1 L422.0,1001.8 L422.2,1003.5 L422.3,1004.5 L422.5,1005.0 L422.9,1005.6 L425.1,1006.0 L436.2,1006.3 L439.8,1006.0 L440.6,1005.5 L440.7,1005.2 L440.9,1004.5 L441.0,1003.2 L441.2,1001.0 L441.4,994.3 L441.6,992.6 L441.7,994.2 L442.0,1000.8 L442.2,1003.0 L442.3,1004.2 L442.5,1004.8 L442.8,1005.1 L442.9,1004.8 L443.0,1004.3 L443.2,1003.2 L443.5,999.9 L443.6,999.0 L443.8,999.8 L444.1,1003.0 L444.2,1003.9 L444.4,1004.3 L444.5,1004.0 L444.7,1003.0 L444.8,1001.0 L445.1,994.8 L445.2,993.3 L445.4,994.9 L445.7,1001.1 L445.8,1003.2 L446.0,1004.4 L446.1,1004.9 L446.4,1005.2 L446.6,1005.1 L446.7,1004.6 L446.8,1003.7 L447.1,1000.7 L447.3,999.8 L447.4,1000.4 L447.7,1003.5 L447.9,1004.7 L448.0,1005.3 L448.3,1005.9 L449.8,1006.3 L456.9,1006.2 L458.5,1005.7 L459.1,1005.1 L459.4,1004.4 L459.5,1003.8 L459.7,1002.8 L459.8,1000.8 L460.0,996.8 L460.1,989.9 L460.3,980.0 L460.4,969.4 L460.6,964.2 L460.7,969.3 L460.9,979.8 L461.0,989.7 L461.2,996.5 L461.3,1000.3 L461.4,1002.2 L461.6,1003.0 L461.7,1003.2 L461.9,1003.0 L462.0,1002.0 L462.2,999.9 L462.3,996.2 L462.5,991.1 L462.6,986.3 L462.8,985.1 L462.9,988.8 L463.1,994.3 L463.2,998.9 L463.3,1002.0 L463.5,1003.7 L463.6,1004.6 L463.9,1005.3 L464.8,1006.0 L468.2,1006.3 L471.1,1006.0 L471.8,1005.4 L472.1,1004.6 L472.2,1003.7 L472.4,1001.8 L472.5,998.5 L472.7,993.7 L472.8,988.6 L473.0,986.2 L473.1,988.6 L473.3,993.6 L473.4,998.4 L473.6,1001.6 L473.7,1003.5 L473.9,1004.4 L474.0,1004.8 L474.3,1004.9 L474.4,1004.6 L474.6,1003.9 L474.7,1002.5 L474.9,1000.3 L475.0,997.7 L475.2,996.1 L475.3,996.8 L475.6,1001.8 L475.8,1003.6 L475.9,1004.7 L476.0,1005.2 L476.5,1005.8 L477.9,1005.9 L479.0,1005.4 L479.3,1004.8 L479.4,1004.3 L479.5,1003.2 L479.7,1001.1 L479.8,997.5 L480.0,992.2 L480.1,986.6 L480.3,983.9 L480.4,986.6 L480.6,992.1 L480.7,997.2 L480.9,1000.7 L481.0,1002.7 L481.2,1003.6 L481.3,1004.0 L481.6,1003.9 L481.7,1003.5 L481.9,1002.6 L482.0,1000.8 L482.2,997.8 L482.3,993.4 L482.5,988.1 L482.6,983.3 L482.8,979.5 L482.9,977.3 L483.1,979.5 L483.2,985.9 L483.3,992.7 L483.5,997.8 L483.6,1000.9 L483.8,1002.5 L483.9,1003.2 L484.1,1003.5 L484.4,1003.4 L484.5,1002.9 L484.7,1001.7 L484.8,999.7 L485.0,996.6 L485.1,993.0 L485.2,990.2 L485.4,989.2 L485.5,988.0 L485.7,983.5 L485.8,975.0 L486.0,964.8 L486.1,960.0 L486.3,965.7 L486.4,977.1 L486.6,987.8 L486.7,995.1 L486.8,999.3 L487.0,1001.4 L487.1,1002.3 L487.3,1002.7 L487.4,1002.7 L487.6,1002.3 L487.7,1001.2 L487.9,998.8 L488.0,994.7 L488.3,983.5 L488.5,981.8 L488.6,984.8 L488.7,988.9 L488.9,990.7 L489.0,988.8 L489.2,984.0 L489.3,979.6 L489.5,980.0 L489.6,985.7 L489.8,992.4 L489.9,997.7 L490.1,1001.0 L490.2,1002.8 L490.4,1003.7 L490.6,1004.3 L490.8,1004.3 L490.9,1004.0 L491.1,1003.2 L491.2,1001.6 L491.4,999.0 L491.5,995.7 L491.7,993.3 L491.8,993.8 L492.0,996.7 L492.1,1000.0 L492.3,1002.5 L492.4,1004.1 L492.5,1004.9 L492.8,1005.5 L493.9,1006.1 L497.4,1006.2 L498.7,1005.8 L499.3,1005.0 L499.4,1004.6 L499.6,1003.7 L499.7,1002.0 L499.8,998.9 L500.0,993.8 L500.1,987.5 L500.3,982.2 L500.4,982.2 L500.6,987.3 L500.7,993.6 L500.9,998.5 L501.0,1001.5 L501.2,1003.0 L501.3,1003.7 L501.4,1003.8 L501.6,1003.7 L501.7,1003.1 L501.9,1001.7 L502.0,999.0 L502.2,994.3 L502.5,981.2 L502.6,978.3 L502.8,980.9 L502.9,987.2 L503.1,993.9 L503.2,998.8 L503.3,1001.8 L503.5,1003.4 L503.6,1004.2 L503.9,1004.7 L504.1,1004.7 L504.2,1004.4 L504.4,1003.7 L504.5,1002.3 L504.8,998.3 L505.0,997.5 L505.1,998.7 L505.4,1002.9 L505.5,1004.3 L505.7,1005.0 L506.0,1005.6 L507.0,1005.9 L508.2,1005.5 L508.6,1004.9 L508.7,1004.5 L508.9,1003.8 L509.0,1002.6 L509.2,1000.1 L509.3,995.6 L509.5,988.2 L509.6,979.0 L509.8,971.4 L509.9,971.4 L510.1,978.9 L510.2,988.1 L510.4,995.3 L510.5,999.8 L510.6,1002.2 L510.8,1003.3 L510.9,1003.8 L511.2,1004.1 L511.4,1003.8 L511.5,1003.2 L511.7,1001.7 L511.8,999.1 L512.0,995.0 L512.1,990.2 L512.3,986.8 L512.4,987.4 L512.5,990.2 L512.7,991.9 L512.8,991.3 L513.0,989.1 L513.1,988.1 L513.3,990.6 L513.4,995.1 L513.6,999.1 L513.7,1002.0 L513.9,1003.6 L514.0,1004.5 L514.3,1005.1 L514.7,1005.1 L514.9,1004.8 L515.0,1004.0 L515.2,1002.6 L515.5,998.7 L515.6,998.0 L515.8,999.3 L515.9,1001.4 L516.0,1003.3 L516.2,1004.6 L516.3,1005.3 L516.6,1005.9 L517.9,1006.3 L520.9,1006.2 L521.6,1005.7 L521.7,1005.4 L521.9,1004.7 L522.0,1003.4 L522.2,1001.1 L522.5,994.3 L522.6,992.6 L522.8,994.3 L523.1,1001.1 L523.2,1003.3 L523.3,1004.6 L523.5,1005.3 L523.8,1005.7 L524.2,1005.7 L524.4,1005.5 L524.5,1005.0 L524.7,1004.0 L524.8,1002.5 L525.0,1000.7 L525.1,999.5 L525.2,1000.0 L525.5,1003.4 L525.7,1004.7 L525.8,1005.4 L526.1,1006.0 L527.3,1006.4 L528.6,1006.1 L529.0,1005.5 L529.2,1004.9 L529.3,1003.8 L529.5,1001.8 L529.8,995.9 L529.9,994.4 L530.1,995.9 L530.4,1001.8 L530.5,1003.8 L530.6,1004.9 L530.8,1005.4 L531.2,1005.9 L531.7,1005.7 L531.8,1005.4 L532.0,1004.7 L532.1,1003.5 L532.4,1000.6 L532.5,1000.6 L532.7,1001.8 L532.8,1003.4 L533.0,1004.6 L533.1,1005.4 L533.4,1006.1 L534.7,1006.4 L537.5,1006.1 L538.4,1005.6 L538.8,1004.8 L539.1,1003.6 L539.3,1002.4 L539.4,1000.0 L539.6,995.4 L539.7,987.2 L539.8,975.5 L540.0,963.0 L540.1,957.0 L540.3,962.9 L540.4,975.4 L540.6,987.1 L540.7,995.2 L540.9,999.8 L541.0,1002.1 L541.2,1003.2 L541.3,1003.7 L541.6,1004.1 L541.7,1004.0 L541.9,1003.6 L542.0,1002.6 L542.2,1000.4 L542.3,996.5 L542.5,990.8 L542.6,984.5 L542.8,981.5 L542.9,984.4 L543.1,990.7 L543.2,996.6 L543.4,1000.8 L543.5,1003.1 L543.6,1004.4 L543.8,1005.0 L544.2,1005.8 L545.4,1006.4 L551.5,1006.7 L555.3,1006.5 L555.9,1006.1 L556.1,1005.8 L556.2,1005.3 L556.3,1004.4 L556.5,1002.6 L556.8,997.5 L556.9,996.3 L557.1,997.5 L557.4,1002.6 L557.5,1004.3 L557.7,1005.3 L557.8,1005.8 L558.2,1006.2 L558.8,1006.1 L559.0,1005.8 L559.1,1005.3 L559.3,1004.4 L559.6,1001.8 L559.7,1001.5 L559.8,1002.4 L560.1,1004.9 L560.3,1005.7 L560.6,1006.3 L561.9,1006.7 L563.5,1006.7" fill="none" stroke="#000" stroke-width="2.4" stroke-linejoin="round"/>
<path d="M72.9,1014.8H74.9V1035.6H72.9ZM117.9,1014.8H119.9V1035.6H117.9ZM137.4,1014.8H139.4V1035.6H137.4ZM157.3,1014.8H159.3V1035.6H157.3ZM170.1,1014.8H172.1V1035.6H170.1ZM185.7,1014.8H187.7V1035.6H185.7ZM187.7,1014.8H189.7V1035.6H187.7ZM190.6,1014.8H192.6V1035.6H190.6ZM201.9,1014.8H203.9V1035.6H201.9ZM224.7,1014.8H226.7V1035.6H224.7ZM226.1,1014.8H228.1V1035.6H226.1ZM230.7,1014.8H232.7V1035.6H230.7ZM232.5,1014.8H234.5V1035.6H232.5ZM234.6,1014.8H236.6V1035.6H234.6ZM236.0,1014.8H238.0V1035.6H236.0ZM261.7,1014.8H263.7V1035.6H261.7ZM263.6,1014.8H265.6V1035.6H263.6ZM265.4,1014.8H267.4V1035.6H265.4ZM267.2,1014.8H269.2V1035.6H267.2ZM269.7,1014.8H271.7V1035.6H269.7ZM275.1,1014.8H277.1V1035.6H275.1ZM286.6,1014.8H288.6V1035.6H286.6ZM289.6,1014.8H291.6V1035.6H289.6ZM291.7,1014.8H293.7V1035.6H291.7ZM303.0,1014.8H305.0V1035.6H303.0ZM305.4,1014.8H307.4V1035.6H305.4ZM315.4,1014.8H317.4V1035.6H315.4ZM317.2,1014.8H319.2V1035.6H317.2ZM319.7,1014.8H321.7V1035.6H319.7ZM342.8,1014.8H345.0V1035.6H342.8ZM346.2,1014.8H348.2V1035.6H346.2ZM365.0,1014.8H366.6V1035.6H365.0ZM367.0,1014.8H368.3V1035.6H367.0ZM372.9,1014.8H378.2V1035.6H372.9ZM379.0,1014.8H383.2V1035.6H379.0ZM384.0,1014.8H394.0V1035.6H384.0ZM399.9,1014.8H402.0V1035.6H399.9ZM402.6,1014.8H405.0V1035.6H402.6ZM411.4,1014.8H414.6V1035.6H411.4ZM415.2,1014.8H419.0V1035.6H415.2ZM419.6,1014.8H424.5V1035.6H419.6ZM425.3,1014.8H426.2V1035.6H425.3ZM427.0,1014.8H428.8V1035.6H427.0ZM436.2,1014.8H441.5V1035.6H436.2ZM442.0,1014.8H447.2V1035.6H442.0ZM459.6,1014.8H461.2V1035.6H459.6ZM462.0,1014.8H463.7V1035.6H462.0ZM471.9,1014.8H473.0V1035.6H471.9ZM474.0,1014.8H475.6V1035.6H474.0ZM480.5,1014.8H497.0V1035.6H480.5ZM497.6,1014.8H509.0V1035.6H497.6ZM509.6,1014.8H515.0V1035.6H509.6ZM521.4,1014.8H522.6V1035.6H521.4ZM523.6,1014.8H525.1V1035.6H523.6ZM528.8,1014.8H529.8V1035.6H528.8ZM530.5,1014.8H531.5V1035.6H530.5ZM538.8,1014.8H547.0V1035.6H538.8ZM547.5,1014.8H555.0V1035.6H547.5ZM555.5,1014.8H560.8V1035.6H555.5Z" fill="#0000ff"/>
<path d="M52.5,1082.0 L52.8,1083.9 L53.1,1084.0 L53.4,1080.4 L53.7,1083.5 L54.0,1081.7 L54.3,1083.9 L54.5,1081.4 L54.8,1084.6 L55.1,1085.4 L55.4,1085.4 L55.7,1084.5 L56.0,1082.8 L56.3,1086.4 L56.6,1082.3 L56.9,1084.9 L57.2,1084.0 L57.5,1080.9 L57.8,1081.1 L58.0,1083.4 L58.3,1082.3 L58.6,1084.4 L58.9,1084.9 L59.2,1081.2 L59.5,1079.4 L59.8,1084.4 L60.1,1081.6 L60.4,1081.4 L60.7,1081.5 L61.0,1080.3 L61.3,1083.2 L61.6,1084.3 L61.8,1083.4 L62.1,1080.7 L62.4,1084.6 L62.7,1085.6 L63.0,1083.2 L63.3,1080.6 L63.6,1083.1 L63.9,1080.1 L64.2,1083.2 L64.5,1082.0 L64.8,1084.2 L65.1,1083.2 L65.3,1080.7 L65.6,1081.5 L65.9,1080.9 L66.2,1081.6 L66.5,1084.5 L66.8,1085.7 L67.1,1083.9 L67.4,1079.0 L67.7,1083.8 L68.0,1081.7 L68.3,1082.8 L68.6,1081.4 L68.9,1084.1 L69.1,1084.1 L69.4,1083.8 L69.7,1081.0 L70.0,1083.4 L70.3,1085.6 L70.6,1084.3 L70.9,1085.8 L71.2,1085.2 L71.5,1083.8 L71.8,1084.9 L72.1,1080.3 L72.4,1082.9 L72.6,1084.0 L72.9,1080.8 L73.2,1083.7 L73.5,1084.5 L73.8,1080.5 L74.1,1081.0 L74.4,1083.6 L74.7,1083.4 L75.0,1083.1 L75.3,1084.6 L75.6,1079.9 L75.9,1084.1 L76.2,1084.8 L76.4,1083.5 L76.7,1085.2 L77.0,1082.4 L77.3,1083.7 L77.6,1083.3 L77.9,1084.4 L78.2,1080.4 L78.5,1082.0 L78.8,1083.3 L79.1,1081.5 L79.4,1082.7 L79.7,1080.7 L79.9,1083.4 L80.2,1084.6 L80.5,1081.0 L80.8,1081.3 L81.1,1081.1 L81.4,1080.1 L81.7,1084.4 L82.0,1081.1 L82.3,1079.6 L82.6,1085.1 L82.9,1084.1 L83.2,1081.2 L83.5,1085.8 L83.7,1082.1 L84.0,1082.9 L84.3,1084.8 L84.6,1084.0 L84.9,1085.0 L85.2,1081.9 L85.5,1084.0 L85.8,1084.0 L86.1,1083.7 L86.4,1081.9 L86.7,1079.4 L87.0,1081.1 L87.2,1084.7 L87.5,1081.3 L87.8,1082.4 L88.1,1080.7 L88.4,1085.9 L88.7,1085.5 L89.0,1087.5 L89.3,1080.4 L89.6,1084.3 L89.9,1080.7 L90.2,1082.6 L90.5,1081.2 L90.8,1081.6 L91.0,1084.1 L91.3,1080.8 L91.6,1084.5 L91.9,1084.5 L92.2,1079.8 L92.5,1081.3 L92.8,1086.5 L93.1,1082.1 L93.4,1084.2 L93.7,1082.9 L94.0,1080.7 L94.3,1080.1 L94.5,1083.4 L94.8,1085.3 L95.1,1081.0 L95.4,1081.5 L95.7,1082.9 L96.0,1082.8 L96.3,1080.2 L96.6,1083.4 L96.9,1080.0 L97.2,1081.7 L97.5,1084.2 L97.8,1081.1 L98.1,1083.1 L98.3,1082.8 L98.6,1085.0 L98.9,1081.1 L99.2,1083.7 L99.5,1080.1 L99.8,1083.4 L100.1,1084.0 L100.4,1079.4 L100.7,1082.9 L101.0,1084.1 L101.3,1084.4 L101.6,1080.5 L101.8,1080.1 L102.1,1081.6 L102.4,1079.5 L102.7,1084.6 L103.0,1080.2 L103.3,1081.0 L103.6,1083.8 L103.9,1082.0 L104.2,1082.0 L104.5,1083.0 L104.8,1082.2 L105.1,1079.6 L105.4,1081.6 L105.6,1085.1 L105.9,1085.5 L106.2,1081.2 L106.5,1085.1 L106.8,1083.5 L107.1,1079.0 L107.4,1083.7 L107.7,1084.3 L108.0,1084.3 L108.3,1084.3 L108.6,1080.8 L108.9,1080.8 L109.1,1081.7 L109.4,1083.1 L109.7,1084.7 L110.0,1081.2 L110.3,1080.9 L110.6,1085.2 L110.9,1081.9 L111.2,1080.9 L111.5,1084.3 L111.8,1083.9 L112.1,1085.4 L112.4,1080.4 L112.7,1080.4 L112.9,1084.2 L113.2,1078.5 L113.5,1080.0 L113.8,1085.0 L114.1,1080.9 L114.4,1084.3 L114.7,1084.0 L115.0,1083.1 L115.3,1083.2 L115.6,1083.6 L115.9,1084.3 L116.2,1080.9 L116.4,1084.6 L116.7,1083.6 L117.0,1080.7 L117.3,1079.5 L117.6,1080.9 L117.9,1079.4 L118.2,1076.1 L118.5,1069.5 L118.8,1057.8 L119.1,1057.1 L119.4,1064.0 L119.7,1069.4 L120.0,1079.4 L120.2,1078.7 L120.5,1083.0 L120.8,1081.3 L121.1,1083.2 L121.4,1081.2 L121.7,1083.7 L122.0,1085.1 L122.3,1079.4 L122.6,1081.9 L122.9,1082.1 L123.2,1079.4 L123.5,1084.8 L123.7,1084.5 L124.0,1083.9 L124.3,1084.6 L124.6,1086.8 L124.9,1084.1 L125.2,1080.8 L125.5,1084.8 L125.8,1080.3 L126.1,1081.2 L126.4,1085.4 L126.7,1083.1 L127.0,1082.6 L127.3,1084.2 L127.5,1080.5 L127.8,1079.6 L128.1,1083.7 L128.4,1083.6 L128.7,1084.1 L129.0,1081.5 L129.3,1082.1 L129.6,1083.9 L129.9,1083.3 L130.2,1082.1 L130.5,1084.6 L130.8,1084.6 L131.0,1085.7 L131.3,1082.2 L131.6,1083.1 L131.9,1084.0 L132.2,1083.3 L132.5,1084.3 L132.8,1082.1 L133.1,1083.2 L133.4,1085.1 L133.7,1081.8 L134.0,1081.9 L134.3,1083.5 L134.6,1081.5 L134.8,1084.8 L135.1,1080.7 L135.4,1080.9 L135.7,1084.9 L136.0,1086.4 L136.3,1084.8 L136.6,1084.4 L136.9,1080.4 L137.2,1079.6 L137.5,1079.8 L137.8,1083.7 L138.1,1080.0 L138.3,1079.4 L138.6,1078.7 L138.9,1079.8 L139.2,1080.0 L139.5,1081.3 L139.8,1083.9 L140.1,1084.9 L140.4,1081.9 L140.7,1085.1 L141.0,1083.8 L141.3,1086.0 L141.6,1081.1 L141.9,1083.4 L142.1,1086.8 L142.4,1081.6 L142.7,1079.8 L143.0,1080.7 L143.3,1081.3 L143.6,1083.3 L143.9,1079.4 L144.2,1082.7 L144.5,1080.4 L144.8,1080.2 L145.1,1084.0 L145.4,1081.3 L145.6,1084.8 L145.9,1083.9 L146.2,1084.8 L146.5,1080.9 L146.8,1081.7 L147.1,1080.9 L147.4,1080.8 L147.7,1083.8 L148.0,1083.6 L148.3,1083.9 L148.6,1083.0 L148.9,1081.1 L149.2,1080.6 L149.4,1079.0 L149.7,1082.1 L150.0,1080.1 L150.3,1084.0 L150.6,1083.8 L150.9,1085.0 L151.2,1083.7 L151.5,1082.2 L151.8,1081.5 L152.1,1083.9 L152.4,1084.1 L152.7,1080.7 L152.9,1083.6 L153.2,1081.4 L153.5,1084.9 L153.8,1078.5 L154.1,1081.0 L154.4,1079.3 L154.7,1083.0 L155.0,1080.6 L155.3,1081.4 L155.6,1079.4 L155.9,1081.3 L156.2,1085.5 L156.5,1081.7 L156.7,1081.2 L157.0,1084.8 L157.3,1083.2 L157.6,1081.5 L157.9,1076.4 L158.2,1074.0 L158.5,1073.1 L158.8,1079.6 L159.1,1080.0 L159.4,1080.1 L159.7,1084.2 L160.0,1081.6 L160.2,1082.7 L160.5,1083.3 L160.8,1085.0 L161.1,1079.3 L161.4,1080.4 L161.7,1080.2 L162.0,1082.5 L162.3,1082.9 L162.6,1083.1 L162.9,1084.1 L163.2,1078.9 L163.5,1081.6 L163.8,1084.2 L164.0,1081.0 L164.3,1082.1 L164.6,1080.1 L164.9,1083.3 L165.2,1085.5 L165.5,1083.5 L165.8,1081.4 L166.1,1084.9 L166.4,1081.3 L166.7,1083.5 L167.0,1085.7 L167.3,1084.8 L167.5,1083.5 L167.8,1080.0 L168.1,1084.8 L168.4,1083.9 L168.7,1084.4 L169.0,1085.5 L169.3,1081.4 L169.6,1081.9 L169.9,1081.4 L170.2,1080.4 L170.5,1081.3 L170.8,1083.9 L171.1,1080.5 L171.3,1078.8 L171.6,1081.3 L171.9,1084.2 L172.2,1083.2 L172.5,1083.3 L172.8,1083.5 L173.1,1080.9 L173.4,1078.5 L173.7,1083.8 L174.0,1084.2 L174.3,1083.2 L174.6,1084.0 L174.8,1085.7 L175.1,1084.7 L175.4,1082.8 L175.7,1085.2 L176.0,1081.2 L176.3,1083.9 L176.6,1081.5 L176.9,1084.3 L177.2,1080.2 L177.5,1080.7 L177.8,1081.0 L178.1,1078.6 L178.4,1081.3 L178.6,1082.0 L178.9,1080.6 L179.2,1085.2 L179.5,1082.3 L179.8,1080.4 L180.1,1084.2 L180.4,1079.2 L180.7,1081.3 L181.0,1079.7 L181.3,1083.9 L181.6,1081.3 L181.9,1083.1 L182.1,1082.9 L182.4,1084.2 L182.7,1081.1 L183.0,1083.9 L183.3,1084.1 L183.6,1084.0 L183.9,1078.8 L184.2,1079.2 L184.5,1081.2 L184.8,1079.9 L185.1,1080.6 L185.4,1080.0 L185.7,1081.9 L185.9,1080.8 L186.2,1080.9 L186.5,1084.3 L186.8,1077.6 L187.1,1072.1 L187.4,1066.5 L187.7,1068.5 L188.0,1071.0 L188.3,1071.2 L188.6,1075.3 L188.9,1079.3 L189.2,1080.0 L189.4,1079.8 L189.7,1080.3 L190.0,1080.8 L190.3,1081.6 L190.6,1081.7 L190.9,1081.8 L191.2,1080.4 L191.5,1080.9 L191.8,1080.5 L192.1,1078.9 L192.4,1081.1 L192.7,1079.5 L193.0,1085.5 L193.2,1081.2 L193.5,1081.3 L193.8,1081.4 L194.1,1080.9 L194.4,1086.0 L194.7,1084.1 L195.0,1083.8 L195.3,1083.9 L195.6,1084.9 L195.9,1081.7 L196.2,1080.9 L196.5,1080.9 L196.7,1081.6 L197.0,1080.8 L197.3,1082.9 L197.6,1083.9 L197.9,1080.9 L198.2,1083.8 L198.5,1081.9 L198.8,1079.4 L199.1,1079.7 L199.4,1081.0 L199.7,1081.8 L200.0,1082.4 L200.3,1085.3 L200.5,1085.9 L200.8,1083.6 L201.1,1083.6 L201.4,1084.7 L201.7,1085.2 L202.0,1085.7 L202.3,1080.0 L202.6,1084.6 L202.9,1083.0 L203.2,1081.6 L203.5,1079.8 L203.8,1084.0 L204.0,1081.6 L204.3,1081.2 L204.6,1085.6 L204.9,1081.1 L205.2,1083.7 L205.5,1084.6 L205.8,1078.7 L206.1,1080.7 L206.4,1083.9 L206.7,1080.9 L207.0,1081.1 L207.3,1081.2 L207.6,1084.9 L207.8,1086.0 L208.1,1081.3 L208.4,1079.6 L208.7,1080.7 L209.0,1080.7 L209.3,1084.0 L209.6,1085.0 L209.9,1086.2 L210.2,1084.2 L210.5,1082.9 L210.8,1082.1 L211.1,1085.8 L211.3,1083.6 L211.6,1082.2 L211.9,1083.9 L212.2,1081.3 L212.5,1079.3 L212.8,1078.9 L213.1,1078.6 L213.4,1081.3 L213.7,1083.4 L214.0,1083.4 L214.3,1081.4 L214.6,1084.4 L214.9,1083.9 L215.1,1080.9 L215.4,1081.7 L215.7,1082.0 L216.0,1083.0 L216.3,1084.2 L216.6,1080.5 L216.9,1083.7 L217.2,1083.6 L217.5,1080.8 L217.8,1086.1 L218.1,1085.7 L218.4,1080.9 L218.6,1084.6 L218.9,1079.8 L219.2,1082.1 L219.5,1078.8 L219.8,1080.6 L220.1,1081.6 L220.4,1084.2 L220.7,1084.1 L221.0,1082.7 L221.3,1079.0 L221.6,1082.9 L221.9,1081.1 L222.2,1084.0 L222.4,1085.3 L222.7,1082.0 L223.0,1084.4 L223.3,1082.9 L223.6,1083.9 L223.9,1086.0 L224.2,1086.9 L224.5,1084.2 L224.8,1085.8 L225.1,1086.3 L225.4,1095.2 L225.7,1095.3 L225.9,1095.3 L226.2,1095.3 L226.5,1095.3 L226.8,1095.3 L227.1,1095.3 L227.4,1095.3 L227.7,1090.0 L228.0,1085.6 L228.3,1086.6 L228.6,1083.5 L228.9,1081.6 L229.2,1084.2 L229.5,1083.1 L229.7,1079.9 L230.0,1084.8 L230.3,1084.6 L230.6,1080.1 L230.9,1084.1 L231.2,1078.6 L231.5,1077.9 L231.8,1071.2 L232.1,1070.5 L232.4,1074.2 L232.7,1075.8 L233.0,1076.7 L233.2,1077.2 L233.5,1078.9 L233.8,1079.4 L234.1,1080.7 L234.4,1080.0 L234.7,1085.0 L235.0,1080.2 L235.3,1074.1 L235.6,1069.4 L235.9,1070.8 L236.2,1077.1 L236.5,1075.6 L236.8,1075.0 L237.0,1078.6 L237.3,1080.1 L237.6,1081.4 L237.9,1077.7 L238.2,1080.1 L238.5,1082.3 L238.8,1080.9 L239.1,1080.4 L239.4,1083.3 L239.7,1081.5 L240.0,1080.2 L240.3,1080.1 L240.5,1084.7 L240.8,1084.7 L241.1,1080.0 L241.4,1080.5 L241.7,1079.8 L242.0,1082.8 L242.3,1082.2 L242.6,1083.3 L242.9,1085.1 L243.2,1083.9 L243.5,1081.2 L243.8,1081.3 L244.1,1084.9 L244.3,1081.5 L244.6,1086.5 L244.9,1083.6 L245.2,1080.1 L245.5,1084.7 L245.8,1079.7 L246.1,1082.8 L246.4,1085.0 L246.7,1078.3 L247.0,1080.5 L247.3,1080.4 L247.6,1084.4 L247.8,1081.1 L248.1,1081.8 L248.4,1084.5 L248.7,1083.6 L249.0,1084.5 L249.3,1085.3 L249.6,1085.0 L249.9,1081.8 L250.2,1079.3 L250.5,1081.0 L250.8,1083.0 L251.1,1079.8 L251.4,1084.5 L251.6,1081.9 L251.9,1084.6 L252.2,1081.6 L252.5,1081.5 L252.8,1085.2 L253.1,1081.8 L253.4,1085.8 L253.7,1081.3 L254.0,1085.8 L254.3,1078.4 L254.6,1080.5 L254.9,1080.9 L255.1,1084.2 L255.4,1086.3 L255.7,1078.0 L256.0,1079.6 L256.3,1079.9 L256.6,1080.0 L256.9,1084.2 L257.2,1085.8 L257.5,1083.9 L257.8,1082.6 L258.1,1079.3 L258.4,1080.4 L258.7,1083.5 L258.9,1084.2 L259.2,1084.3 L259.5,1079.6 L259.8,1083.3 L260.1,1083.8 L260.4,1079.7 L260.7,1078.3 L261.0,1080.7 L261.3,1080.4 L261.6,1080.9 L261.9,1080.2 L262.2,1081.4 L262.4,1080.6 L262.7,1077.9 L263.0,1065.2 L263.3,1042.5 L263.6,1036.0 L263.9,1037.6 L264.2,1062.5 L264.5,1056.2 L264.8,1054.7 L265.1,1055.6 L265.4,1073.8 L265.7,1077.4 L266.0,1075.8 L266.2,1064.5 L266.5,1055.2 L266.8,1054.7 L267.1,1069.9 L267.4,1070.3 L267.7,1067.3 L268.0,1069.7 L268.3,1076.9 L268.6,1079.7 L268.9,1080.3 L269.2,1081.6 L269.5,1080.9 L269.7,1078.7 L270.0,1086.0 L270.3,1092.7 L270.6,1095.3 L270.9,1092.3 L271.2,1087.2 L271.5,1088.0 L271.8,1087.6 L272.1,1086.3 L272.4,1084.9 L272.7,1078.9 L273.0,1079.9 L273.3,1081.2 L273.5,1080.4 L273.8,1083.6 L274.1,1083.2 L274.4,1081.6 L274.7,1081.0 L275.0,1078.2 L275.3,1079.0 L275.6,1071.1 L275.9,1064.8 L276.2,1060.9 L276.5,1073.4 L276.8,1075.9 L277.0,1072.2 L277.3,1070.6 L277.6,1076.0 L277.9,1079.7 L278.2,1078.9 L278.5,1080.4 L278.8,1080.9 L279.1,1086.2 L279.4,1083.9 L279.7,1079.8 L280.0,1080.0 L280.3,1079.9 L280.6,1083.8 L280.8,1080.4 L281.1,1080.9 L281.4,1082.3 L281.7,1079.3 L282.0,1084.2 L282.3,1081.3 L282.6,1081.4 L282.9,1083.5 L283.2,1085.1 L283.5,1081.2 L283.8,1080.5 L284.1,1081.4 L284.3,1079.0 L284.6,1081.3 L284.9,1083.8 L285.2,1082.7 L285.5,1085.6 L285.8,1083.1 L286.1,1085.1 L286.4,1082.3 L286.7,1084.2 L287.0,1084.4 L287.3,1080.3 L287.6,1080.7 L287.9,1083.0 L288.1,1080.7 L288.4,1085.9 L288.7,1084.0 L289.0,1083.6 L289.3,1083.5 L289.6,1081.2 L289.9,1080.5 L290.2,1076.9 L290.5,1074.9 L290.8,1077.1 L291.1,1077.9 L291.4,1078.5 L291.6,1078.4 L291.9,1080.1 L292.2,1077.6 L292.5,1082.2 L292.8,1083.0 L293.1,1081.2 L293.4,1079.1 L293.7,1080.1 L294.0,1084.6 L294.3,1082.6 L294.6,1085.8 L294.9,1081.1 L295.2,1083.1 L295.4,1081.8 L295.7,1084.4 L296.0,1082.0 L296.3,1083.3 L296.6,1083.7 L296.9,1080.6 L297.2,1080.1 L297.5,1081.2 L297.8,1085.1 L298.1,1084.4 L298.4,1083.2 L298.7,1085.7 L298.9,1084.6 L299.2,1083.4 L299.5,1084.5 L299.8,1083.9 L300.1,1081.4 L300.4,1083.8 L300.7,1081.4 L301.0,1079.9 L301.3,1082.1 L301.6,1076.0 L301.9,1069.9 L302.2,1069.6 L302.5,1072.7 L302.7,1077.2 L303.0,1080.0 L303.3,1078.0 L303.6,1085.4 L303.9,1091.2 L304.2,1093.5 L304.5,1085.9 L304.8,1088.9 L305.1,1088.7 L305.4,1089.7 L305.7,1084.1 L306.0,1080.8 L306.2,1075.1 L306.5,1080.3 L306.8,1081.3 L307.1,1078.9 L307.4,1083.4 L307.7,1078.5 L308.0,1079.7 L308.3,1083.2 L308.6,1084.5 L308.9,1080.8 L309.2,1078.9 L309.5,1081.2 L309.8,1079.7 L310.0,1084.3 L310.3,1080.3 L310.6,1080.9 L310.9,1084.2 L311.2,1083.6 L311.5,1082.0 L311.8,1080.7 L312.1,1084.9 L312.4,1081.1 L312.7,1080.9 L313.0,1081.0 L313.3,1085.8 L313.5,1080.9 L313.8,1084.6 L314.1,1084.5 L314.4,1081.9 L314.7,1086.0 L315.0,1084.3 L315.3,1081.4 L315.6,1079.6 L315.9,1083.8 L316.2,1080.3 L316.5,1080.9 L316.8,1080.7 L317.1,1083.7 L317.3,1079.5 L317.6,1079.0 L317.9,1083.7 L318.2,1084.3 L318.5,1080.6 L318.8,1083.4 L319.1,1082.1 L319.4,1083.9 L319.7,1085.4 L320.0,1082.1 L320.3,1080.7 L320.6,1078.6 L320.8,1080.5 L321.1,1081.0 L321.4,1083.3 L321.7,1079.6 L322.0,1078.4 L322.3,1079.9 L322.6,1080.4 L322.9,1080.5 L323.2,1081.1 L323.5,1081.6 L323.8,1082.1 L324.1,1080.9 L324.4,1079.8 L324.6,1080.9 L324.9,1079.3 L325.2,1084.5 L325.5,1083.6 L325.8,1079.1 L326.1,1084.0 L326.4,1081.4 L326.7,1079.7 L327.0,1081.5 L327.3,1084.1 L327.6,1086.1 L327.9,1081.6 L328.1,1084.6 L328.4,1080.2 L328.7,1080.3 L329.0,1081.2 L329.3,1082.9 L329.6,1082.6 L329.9,1080.8 L330.2,1082.9 L330.5,1083.9 L330.8,1083.3 L331.1,1083.4 L331.4,1079.4 L331.7,1080.4 L331.9,1079.1 L332.2,1082.0 L332.5,1082.0 L332.8,1080.3 L333.1,1079.2 L333.4,1084.0 L333.7,1079.7 L334.0,1081.1 L334.3,1080.5 L334.6,1084.7 L334.9,1082.3 L335.2,1083.6 L335.4,1083.7 L335.7,1080.1 L336.0,1085.5 L336.3,1081.7 L336.6,1084.0 L336.9,1084.1 L337.2,1082.7 L337.5,1081.9 L337.8,1084.9 L338.1,1082.0 L338.4,1080.6 L338.7,1084.2 L339.0,1080.1 L339.2,1084.3 L339.5,1083.5 L339.8,1084.9 L340.1,1084.5 L340.4,1081.1 L340.7,1081.5 L341.0,1081.2 L341.3,1083.8 L341.6,1079.8 L341.9,1084.2 L342.2,1081.4 L342.5,1079.6 L342.7,1083.3 L343.0,1084.5 L343.3,1078.3 L343.6,1085.6 L343.9,1083.3 L344.2,1083.9 L344.5,1081.2 L344.8,1083.5 L345.1,1081.1 L345.4,1084.5 L345.7,1081.1 L346.0,1084.6 L346.3,1081.0 L346.5,1084.1 L346.8,1080.4 L347.1,1085.2 L347.4,1084.1 L347.7,1079.8 L348.0,1080.6 L348.3,1082.8 L348.6,1084.9 L348.9,1080.4 L349.2,1084.6 L349.5,1083.5 L349.8,1086.2 L350.0,1083.2 L350.3,1079.2 L350.6,1083.7 L350.9,1084.1 L351.2,1083.4 L351.5,1079.9 L351.8,1081.2 L352.1,1081.7 L352.4,1080.2 L352.7,1079.6 L353.0,1084.6 L353.3,1081.7 L353.6,1080.2 L353.8,1083.1 L354.1,1084.3 L354.4,1085.2 L354.7,1082.3 L355.0,1084.1 L355.3,1079.6 L355.6,1080.1 L355.9,1081.6 L356.2,1084.3 L356.5,1079.8 L356.8,1080.9 L357.1,1079.4 L357.3,1083.4 L357.6,1079.2 L357.9,1085.9 L358.2,1082.7 L358.5,1079.5 L358.8,1081.6 L359.1,1080.0 L359.4,1080.9 L359.7,1083.0 L360.0,1083.9 L360.3,1084.6 L360.6,1080.7 L360.9,1083.7 L361.1,1081.8 L361.4,1081.3 L361.7,1081.0 L362.0,1084.9 L362.3,1081.3 L362.6,1080.7 L362.9,1086.9 L363.2,1084.7 L363.5,1078.6 L363.8,1083.3 L364.1,1081.9 L364.4,1080.5 L364.6,1080.0 L364.9,1083.9 L365.2,1080.6 L365.5,1083.8 L365.8,1081.9 L366.1,1079.7 L366.4,1080.1 L366.7,1080.6 L367.0,1079.7 L367.3,1080.9 L367.6,1079.4 L367.9,1079.8 L368.2,1083.4 L368.4,1085.0 L368.7,1083.4 L369.0,1080.2 L369.3,1082.1 L369.6,1083.7 L369.9,1084.3 L370.2,1082.8 L370.5,1084.7 L370.8,1083.9 L371.1,1079.6 L371.4,1085.1 L371.7,1085.2 L371.9,1083.7 L372.2,1083.5 L372.5,1080.4 L372.8,1083.7 L373.1,1083.9 L373.4,1084.4 L373.7,1084.9 L374.0,1078.8 L374.3,1084.4 L374.6,1084.8 L374.9,1083.7 L375.2,1084.8 L375.5,1088.7 L375.7,1095.3 L376.0,1095.3 L376.3,1091.4 L376.6,1088.0 L376.9,1080.9 L377.2,1084.7 L377.5,1090.2 L377.8,1091.1 L378.1,1086.2 L378.4,1086.4 L378.7,1083.4 L379.0,1084.0 L379.2,1079.8 L379.5,1084.3 L379.8,1079.4 L380.1,1083.7 L380.4,1080.9 L380.7,1080.3 L381.0,1080.3 L381.3,1081.3 L381.6,1080.1 L381.9,1080.6 L382.2,1083.6 L382.5,1083.8 L382.8,1084.6 L383.0,1078.0 L383.3,1079.2 L383.6,1081.9 L383.9,1083.9 L384.2,1083.8 L384.5,1083.7 L384.8,1081.3 L385.1,1080.0 L385.4,1081.9 L385.7,1083.3 L386.0,1081.2 L386.3,1080.4 L386.5,1085.0 L386.8,1083.0 L387.1,1083.1 L387.4,1081.1 L387.7,1080.2 L388.0,1080.6 L388.3,1080.8 L388.6,1080.1 L388.9,1081.3 L389.2,1077.2 L389.5,1071.2 L389.8,1070.6 L390.1,1074.2 L390.3,1078.7 L390.6,1080.5 L390.9,1079.9 L391.2,1077.6 L391.5,1074.6 L391.8,1078.0 L392.1,1081.0 L392.4,1080.8 L392.7,1080.1 L393.0,1080.3 L393.3,1075.2 L393.6,1076.8 L393.8,1078.6 L394.1,1078.1 L394.4,1080.8 L394.7,1081.6 L395.0,1079.2 L395.3,1079.4 L395.6,1083.9 L395.9,1084.4 L396.2,1080.5 L396.5,1077.9 L396.8,1083.7 L397.1,1087.7 L397.4,1080.9 L397.6,1081.4 L397.9,1081.3 L398.2,1080.1 L398.5,1084.5 L398.8,1079.8 L399.1,1084.1 L399.4,1081.9 L399.7,1081.9 L400.0,1080.7 L400.3,1077.8 L400.6,1075.8 L400.9,1076.8 L401.1,1080.1 L401.4,1083.8 L401.7,1080.1 L402.0,1079.4 L402.3,1078.9 L402.6,1077.2 L402.9,1076.5 L403.2,1079.5 L403.5,1081.1 L403.8,1081.9 L404.1,1080.9 L404.4,1082.0 L404.7,1079.7 L404.9,1081.1 L405.2,1078.2 L405.5,1081.7 L405.8,1086.3 L406.1,1083.5 L406.4,1080.2 L406.7,1083.6 L407.0,1083.3 L407.3,1084.5 L407.6,1081.2 L407.9,1079.4 L408.2,1080.6 L408.4,1079.9 L408.7,1080.8 L409.0,1082.0 L409.3,1082.0 L409.6,1085.7 L409.9,1085.6 L410.2,1082.3 L410.5,1085.0 L410.8,1081.1 L411.1,1079.5 L411.4,1084.3 L411.7,1081.7 L412.0,1080.9 L412.2,1083.5 L412.5,1083.4 L412.8,1084.3 L413.1,1080.6 L413.4,1078.9 L413.7,1075.7 L414.0,1075.7 L414.3,1078.0 L414.6,1081.3 L414.9,1080.6 L415.2,1079.6 L415.5,1078.9 L415.7,1077.5 L416.0,1078.5 L416.3,1080.2 L416.6,1080.1 L416.9,1085.4 L417.2,1084.1 L417.5,1083.7 L417.8,1079.1 L418.1,1084.8 L418.4,1079.3 L418.7,1085.6 L419.0,1081.9 L419.3,1083.6 L419.5,1076.5 L419.8,1078.5 L420.1,1078.0 L420.4,1081.3 L420.7,1080.4 L421.0,1080.7 L421.3,1083.8 L421.6,1077.6 L421.9,1081.2 L422.2,1084.4 L422.5,1083.2 L422.8,1080.7 L423.0,1081.7 L423.3,1084.1 L423.6,1083.9 L423.9,1080.8 L424.2,1084.5 L424.5,1083.7 L424.8,1081.4 L425.1,1081.0 L425.4,1081.3 L425.7,1080.7 L426.0,1083.0 L426.3,1083.6 L426.6,1080.1 L426.8,1080.2 L427.1,1080.0 L427.4,1081.1 L427.7,1078.7 L428.0,1084.3 L428.3,1080.5 L428.6,1087.1 L428.9,1080.9 L429.2,1081.0 L429.5,1079.9 L429.8,1081.0 L430.1,1080.8 L430.3,1084.5 L430.6,1081.9 L430.9,1083.7 L431.2,1084.9 L431.5,1079.7 L431.8,1084.8 L432.1,1081.5 L432.4,1084.4 L432.7,1081.2 L433.0,1084.3 L433.3,1080.8 L433.6,1083.4 L433.9,1081.8 L434.1,1084.4 L434.4,1082.7 L434.7,1084.2 L435.0,1083.1 L435.3,1084.7 L435.6,1081.8 L435.9,1080.8 L436.2,1084.8 L436.5,1081.7 L436.8,1079.2 L437.1,1081.2 L437.4,1084.7 L437.6,1078.4 L437.9,1081.3 L438.2,1079.6 L438.5,1080.5 L438.8,1080.2 L439.1,1080.1 L439.4,1082.0 L439.7,1079.8 L440.0,1081.2 L440.3,1080.3 L440.6,1080.4 L440.9,1079.2 L441.2,1074.8 L441.4,1070.0 L441.7,1071.3 L442.0,1079.1 L442.3,1082.7 L442.6,1080.6 L442.9,1076.0 L443.2,1077.7 L443.5,1077.7 L443.8,1079.1 L444.1,1081.8 L444.4,1081.7 L444.7,1083.5 L444.9,1079.2 L445.2,1077.3 L445.5,1080.0 L445.8,1078.3 L446.1,1080.2 L446.4,1083.9 L446.7,1084.9 L447.0,1080.2 L447.3,1079.4 L447.6,1081.3 L447.9,1083.5 L448.2,1083.9 L448.5,1079.4 L448.7,1079.3 L449.0,1084.3 L449.3,1084.5 L449.6,1084.4 L449.9,1080.6 L450.2,1081.9 L450.5,1085.2 L450.8,1079.9 L451.1,1084.0 L451.4,1085.1 L451.7,1081.6 L452.0,1084.2 L452.2,1080.0 L452.5,1080.4 L452.8,1081.7 L453.1,1084.9 L453.4,1084.3 L453.7,1081.9 L454.0,1081.6 L454.3,1084.0 L454.6,1085.8 L454.9,1083.9 L455.2,1084.4 L455.5,1084.2 L455.8,1083.5 L456.0,1081.7 L456.3,1084.0 L456.6,1079.5 L456.9,1080.3 L457.2,1080.1 L457.5,1079.3 L457.8,1082.8 L458.1,1081.5 L458.4,1080.4 L458.7,1083.9 L459.0,1081.0 L459.3,1080.5 L459.5,1080.3 L459.8,1078.7 L460.1,1078.1 L460.4,1075.9 L460.7,1074.0 L461.0,1079.3 L461.3,1079.8 L461.6,1083.1 L461.9,1080.3 L462.2,1079.3 L462.5,1077.3 L462.8,1081.5 L463.1,1081.3 L463.3,1080.7 L463.6,1083.2 L463.9,1083.8 L464.2,1078.2 L464.5,1081.1 L464.8,1083.9 L465.1,1085.0 L465.4,1081.1 L465.7,1083.7 L466.0,1084.5 L466.3,1082.8 L466.6,1080.7 L466.8,1080.8 L467.1,1085.6 L467.4,1084.4 L467.7,1080.3 L468.0,1081.3 L468.3,1083.5 L468.6,1080.9 L468.9,1082.9 L469.2,1081.6 L469.5,1079.7 L469.8,1082.0 L470.1,1080.1 L470.4,1081.5 L470.6,1084.0 L470.9,1085.8 L471.2,1085.2 L471.5,1083.6 L471.8,1081.5 L472.1,1078.5 L472.4,1077.4 L472.7,1073.2 L473.0,1072.9 L473.3,1076.7 L473.6,1080.0 L473.9,1082.9 L474.1,1084.4 L474.4,1078.9 L474.7,1084.9 L475.0,1077.4 L475.3,1074.0 L475.6,1078.1 L475.9,1080.3 L476.2,1083.6 L476.5,1081.0 L476.8,1080.8 L477.1,1084.0 L477.4,1084.4 L477.7,1080.5 L477.9,1084.7 L478.2,1083.5 L478.5,1083.4 L478.8,1080.8 L479.1,1080.7 L479.4,1080.7 L479.7,1082.2 L480.0,1077.2 L480.3,1074.9 L480.6,1079.3 L480.9,1080.8 L481.2,1079.7 L481.4,1083.3 L481.7,1079.8 L482.0,1079.1 L482.3,1079.7 L482.6,1079.3 L482.9,1076.6 L483.2,1080.2 L483.5,1080.0 L483.8,1084.5 L484.1,1084.3 L484.4,1081.3 L484.7,1078.2 L485.0,1079.4 L485.2,1079.6 L485.5,1076.3 L485.8,1072.3 L486.1,1072.1 L486.4,1075.7 L486.7,1078.1 L487.0,1081.0 L487.3,1081.1 L487.6,1084.9 L487.9,1079.5 L488.2,1077.9 L488.5,1076.7 L488.7,1078.6 L489.0,1077.1 L489.3,1073.8 L489.6,1076.0 L489.9,1077.6 L490.2,1084.2 L490.5,1080.9 L490.8,1081.1 L491.1,1079.9 L491.4,1079.8 L491.7,1077.1 L492.0,1078.2 L492.3,1079.7 L492.5,1080.6 L492.8,1084.6 L493.1,1084.4 L493.4,1083.1 L493.7,1080.2 L494.0,1086.3 L494.3,1078.8 L494.6,1081.3 L494.9,1079.6 L495.2,1082.3 L495.5,1081.5 L495.8,1081.4 L496.0,1083.4 L496.3,1083.4 L496.6,1084.2 L496.9,1080.0 L497.2,1084.5 L497.5,1083.5 L497.8,1081.9 L498.1,1083.2 L498.4,1079.1 L498.7,1085.7 L499.0,1083.7 L499.3,1078.5 L499.6,1077.7 L499.8,1077.9 L500.1,1072.9 L500.4,1072.1 L500.7,1077.7 L501.0,1078.7 L501.3,1083.1 L501.6,1081.1 L501.9,1081.7 L502.2,1076.5 L502.5,1073.6 L502.8,1071.5 L503.1,1073.6 L503.3,1080.2 L503.6,1086.1 L503.9,1079.0 L504.2,1078.8 L504.5,1079.7 L504.8,1079.9 L505.1,1080.0 L505.4,1083.7 L505.7,1080.6 L506.0,1080.7 L506.3,1080.6 L506.6,1084.5 L506.9,1080.2 L507.1,1083.0 L507.4,1082.2 L507.7,1083.3 L508.0,1078.9 L508.3,1084.1 L508.6,1080.8 L508.9,1080.6 L509.2,1080.0 L509.5,1073.1 L509.8,1069.2 L510.1,1076.3 L510.4,1078.1 L510.6,1083.5 L510.9,1081.3 L511.2,1080.2 L511.5,1080.0 L511.8,1079.7 L512.1,1075.7 L512.4,1077.2 L512.7,1078.8 L513.0,1075.7 L513.3,1076.5 L513.6,1079.8 L513.9,1079.5 L514.2,1082.9 L514.4,1083.6 L514.7,1080.4 L515.0,1078.2 L515.3,1080.4 L515.6,1080.2 L515.9,1080.3 L516.2,1079.3 L516.5,1081.4 L516.8,1084.5 L517.1,1080.9 L517.4,1079.8 L517.7,1081.1 L517.9,1082.0 L518.2,1081.0 L518.5,1083.5 L518.8,1078.4 L519.1,1083.5 L519.4,1084.7 L519.7,1081.9 L520.0,1078.5 L520.3,1080.8 L520.6,1081.4 L520.9,1081.6 L521.2,1079.8 L521.5,1080.2 L521.7,1080.6 L522.0,1077.8 L522.3,1078.1 L522.6,1078.5 L522.9,1080.3 L523.2,1084.9 L523.5,1081.1 L523.8,1083.7 L524.1,1080.2 L524.4,1084.0 L524.7,1079.5 L525.0,1078.5 L525.2,1081.7 L525.5,1082.0 L525.8,1084.8 L526.1,1081.3 L526.4,1083.8 L526.7,1084.6 L527.0,1080.6 L527.3,1080.5 L527.6,1080.0 L527.9,1081.6 L528.2,1081.1 L528.5,1084.6 L528.8,1081.9 L529.0,1082.2 L529.3,1079.3 L529.6,1076.8 L529.9,1076.0 L530.2,1081.7 L530.5,1080.5 L530.8,1079.7 L531.1,1081.2 L531.4,1080.2 L531.7,1080.6 L532.0,1084.0 L532.3,1081.8 L532.5,1078.5 L532.8,1080.9 L533.1,1083.3 L533.4,1080.1 L533.7,1081.6 L534.0,1085.5 L534.3,1084.2 L534.6,1083.7 L534.9,1080.0 L535.2,1084.0 L535.5,1083.6 L535.8,1081.7 L536.1,1085.3 L536.3,1082.4 L536.6,1082.8 L536.9,1081.0 L537.2,1083.2 L537.5,1082.4 L537.8,1081.0 L538.1,1082.3 L538.4,1084.2 L538.7,1084.3 L539.0,1083.9 L539.3,1084.6 L539.6,1087.2 L539.8,1086.9 L540.1,1087.8 L540.4,1085.6 L540.7,1084.9 L541.0,1081.5 L541.3,1084.4 L541.6,1079.0 L541.9,1084.2 L542.2,1083.4 L542.5,1086.0 L542.8,1084.9 L543.1,1082.0 L543.4,1082.4 L543.6,1084.4 L543.9,1083.2 L544.2,1083.9 L544.5,1079.2 L544.8,1083.1 L545.1,1080.6 L545.4,1081.9 L545.7,1082.9 L546.0,1084.1 L546.3,1083.6 L546.6,1080.8 L546.9,1080.9 L547.1,1083.9 L547.4,1082.9 L547.7,1081.1 L548.0,1085.6 L548.3,1084.8 L548.6,1085.6 L548.9,1085.1 L549.2,1084.5 L549.5,1085.3 L549.8,1081.5 L550.1,1081.0 L550.4,1083.1 L550.7,1083.1 L550.9,1079.5 L551.2,1083.4 L551.5,1080.2 L551.8,1084.2 L552.1,1083.1 L552.4,1086.2 L552.7,1081.4 L553.0,1084.2 L553.3,1079.9 L553.6,1084.9 L553.9,1080.1 L554.2,1085.9 L554.4,1080.2 L554.7,1080.7 L555.0,1083.1 L555.3,1080.1 L555.6,1085.7 L555.9,1079.5 L556.2,1084.0 L556.5,1080.0 L556.8,1078.7 L557.1,1079.3 L557.4,1082.0 L557.7,1080.1 L558.0,1081.6 L558.2,1081.5 L558.5,1080.6 L558.8,1079.4 L559.1,1082.0 L559.4,1079.6 L559.7,1080.5 L560.0,1084.1 L560.3,1080.9 L560.6,1084.3 L560.9,1083.2 L561.2,1083.7 L561.5,1085.7 L561.7,1085.3 L562.0,1081.8 L562.3,1081.1 L562.6,1083.5 L562.9,1081.5 L563.2,1084.0" fill="none" stroke="#007a00" stroke-width="1.6" stroke-linejoin="round"/>
<path d="M52.5,1083.3 L53.7,1082.6 L54.8,1083.1 L56.0,1083.0 L57.2,1082.5 L58.3,1081.8 L59.5,1083.3 L60.7,1082.8 L61.8,1083.3 L63.0,1081.5 L64.2,1081.7 L65.3,1081.4 L66.5,1082.2 L67.7,1083.3 L68.9,1083.0 L70.0,1082.7 L71.2,1082.8 L72.4,1083.2 L73.5,1082.5 L74.7,1082.9 L75.9,1082.8 L77.0,1081.4 L78.2,1082.5 L79.4,1083.5 L80.5,1082.5 L81.7,1082.6 L82.9,1082.3 L84.0,1082.4 L85.2,1083.4 L86.4,1082.5 L87.5,1082.1 L88.7,1080.8 L89.9,1082.4 L91.0,1081.5 L92.2,1081.6 L93.4,1083.2 L94.5,1083.1 L95.7,1081.5 L96.9,1083.2 L98.1,1083.0 L99.2,1082.2 L100.4,1083.1 L101.6,1081.7 L102.7,1082.0 L103.9,1081.8 L105.1,1082.0 L106.2,1083.2 L107.4,1081.9 L108.6,1082.0 L109.7,1082.1 L110.9,1082.8 L112.1,1082.5 L113.2,1083.2 L114.4,1082.3 L115.6,1081.9 L116.7,1082.4 L117.9,1082.7 L119.1,1082.1 L120.2,1082.9 L121.4,1083.8 L122.6,1082.3 L123.7,1082.7 L124.9,1083.5 L126.1,1082.3 L127.3,1082.2 L128.4,1082.0 L129.6,1082.9 L130.8,1083.0 L131.9,1082.6 L133.1,1082.7 L134.3,1083.5 L135.4,1083.2 L136.6,1081.8 L137.8,1082.7 L138.9,1082.8 L140.1,1083.1 L141.3,1082.6 L142.4,1082.3 L143.6,1082.4 L144.8,1081.6 L145.9,1082.7 L147.1,1082.3 L148.3,1083.0 L149.4,1082.1 L150.6,1082.4 L151.8,1082.1 L152.9,1082.0 L154.1,1083.1 L155.3,1082.4 L156.5,1082.9 L157.6,1082.0 L158.8,1082.7 L160.0,1081.7 L161.1,1082.4 L162.3,1082.4 L163.5,1083.0 L164.6,1082.8 L165.8,1082.6 L167.0,1083.2 L168.1,1082.8 L169.3,1083.0 L170.5,1083.1 L171.6,1082.6 L172.8,1082.5 L174.0,1082.9 L175.1,1082.4 L176.3,1082.9 L177.5,1083.3 L178.6,1083.2 L179.8,1082.4 L181.0,1081.9 L182.1,1082.6 L183.3,1082.6 L184.5,1083.3 L185.7,1082.4 L186.8,1082.5 L188.0,1083.1 L189.2,1082.4 L190.3,1082.6 L191.5,1083.7 L192.7,1083.6 L193.8,1083.0 L195.0,1082.8 L196.2,1082.1 L197.3,1083.0 L198.5,1082.7 L199.7,1082.8 L200.8,1082.4 L202.0,1082.7 L203.2,1082.6 L204.3,1082.9 L205.5,1083.5 L206.7,1082.9 L207.8,1081.7 L209.0,1082.1 L210.2,1081.7 L211.3,1082.2 L212.5,1083.0 L213.7,1082.9 L214.9,1082.3 L216.0,1082.8 L217.2,1082.2 L218.4,1081.8 L219.5,1081.8 L220.7,1082.2 L221.9,1083.5 L223.0,1081.9 L224.2,1083.4 L225.4,1083.5 L226.5,1082.6 L227.7,1082.6 L228.9,1082.3 L230.0,1082.7 L231.2,1083.1 L232.4,1082.7 L233.5,1083.3 L234.7,1083.4 L235.9,1082.9 L237.0,1082.9 L238.2,1082.6 L239.4,1082.9 L240.5,1082.0 L241.7,1082.9 L242.9,1082.8 L244.1,1082.2 L245.2,1084.0 L246.4,1082.1 L247.6,1082.1 L248.7,1082.8 L249.9,1081.5 L251.1,1082.2 L252.2,1081.8 L253.4,1082.1 L254.6,1082.6 L255.7,1082.9 L256.9,1083.3 L258.1,1083.2 L259.2,1083.4 L260.4,1083.0 L261.6,1082.4 L262.7,1083.3 L263.9,1082.4 L265.1,1082.3 L266.2,1083.6 L267.4,1083.1 L268.6,1082.8 L269.7,1083.1 L270.9,1083.2 L272.1,1081.9 L273.3,1082.6 L274.4,1082.0 L275.6,1082.7 L276.8,1082.3 L277.9,1083.5 L279.1,1083.0 L280.3,1082.2 L281.4,1082.7 L282.6,1081.9 L283.8,1082.7 L284.9,1083.0 L286.1,1082.8 L287.3,1081.5 L288.4,1082.5 L289.6,1083.0 L290.8,1082.8 L291.9,1083.4 L293.1,1081.9 L294.3,1083.0 L295.4,1082.3 L296.6,1082.8 L297.8,1082.9 L298.9,1083.1 L300.1,1082.3 L301.3,1082.8 L302.5,1082.0 L303.6,1081.8 L304.8,1083.0 L306.0,1082.6 L307.1,1081.7 L308.3,1082.2 L309.5,1082.7 L310.6,1083.6 L311.8,1083.3 L313.0,1083.1 L314.1,1081.6 L315.3,1082.6 L316.5,1083.0 L317.6,1082.9 L318.8,1082.9 L320.0,1082.5 L321.1,1083.7 L322.3,1083.6 L323.5,1082.6 L324.6,1082.1 L325.8,1083.9 L327.0,1082.3 L328.1,1083.4 L329.3,1083.8 L330.5,1082.1 L331.7,1082.8 L332.8,1082.5 L334.0,1083.0 L335.2,1082.9 L336.3,1083.8 L337.5,1083.0 L338.7,1082.7 L339.8,1083.3 L341.0,1082.5 L342.2,1082.4 L343.3,1084.0 L344.5,1082.2 L345.7,1082.4 L346.8,1082.7 L348.0,1082.0 L349.2,1081.4 L350.3,1083.3 L351.5,1082.2 L352.7,1082.3 L353.8,1082.4 L355.0,1082.1 L356.2,1082.0 L357.3,1082.8 L358.5,1084.1 L359.7,1083.1 L360.9,1083.1 L362.0,1081.8 L363.2,1082.7 L364.4,1082.0 L365.5,1083.1 L366.7,1082.5 L367.9,1082.7 L369.0,1082.6 L370.2,1082.3 L371.4,1081.8 L372.5,1083.0 L373.7,1081.8 L374.9,1082.0 L376.0,1082.5 L377.2,1082.2 L378.4,1082.8 L379.5,1083.3 L380.7,1082.8 L381.9,1082.8 L383.0,1082.7 L384.2,1083.2 L385.4,1081.6 L386.5,1082.9 L387.7,1082.1 L388.9,1081.9 L390.1,1082.7 L391.2,1082.4 L392.4,1083.0 L393.6,1083.3 L394.7,1081.3 L395.9,1082.6 L397.1,1083.8 L398.2,1083.2 L399.4,1083.5 L400.6,1082.7 L401.7,1081.8 L402.9,1082.0 L404.1,1083.1 L405.2,1083.2 L406.4,1082.2 L407.6,1082.5 L408.7,1082.8 L409.9,1081.6 L411.1,1082.5 L412.2,1083.6 L413.4,1084.0 L414.6,1082.6 L415.7,1083.8 L416.9,1082.3 L418.1,1082.2 L419.3,1081.3 L420.4,1083.2 L421.6,1082.4 L422.8,1084.1 L423.9,1082.9 L425.1,1082.8 L426.3,1081.6 L427.4,1083.6 L428.6,1082.4 L429.8,1082.6 L430.9,1081.3 L432.1,1083.2 L433.3,1083.3 L434.4,1082.3 L435.6,1082.7 L436.8,1082.9 L437.9,1083.2 L439.1,1082.7 L440.3,1083.7 L441.4,1082.5 L442.6,1082.3 L443.8,1082.4 L444.9,1081.1 L446.1,1082.2 L447.3,1083.3 L448.5,1082.8 L449.6,1082.2 L450.8,1082.9 L452.0,1081.5 L453.1,1082.5 L454.3,1083.0 L455.5,1083.1 L456.6,1082.2 L457.8,1083.2 L459.0,1083.8 L460.1,1082.4 L461.3,1083.1 L462.5,1081.7 L463.6,1081.5 L464.8,1083.0 L466.0,1082.7 L467.1,1082.8 L468.3,1082.3 L469.5,1082.5 L470.6,1083.2 L471.8,1083.7 L473.0,1082.5 L474.1,1081.7 L475.3,1083.4 L476.5,1083.0 L477.7,1083.1 L478.8,1082.8 L480.0,1084.1 L481.2,1082.7 L482.3,1083.0 L483.5,1081.6 L484.7,1082.3 L485.8,1082.3 L487.0,1082.7 L488.2,1082.9 L489.3,1082.2 L490.5,1083.7 L491.7,1082.0 L492.8,1082.4 L494.0,1082.8 L495.2,1081.9 L496.3,1083.0 L497.5,1083.0 L498.7,1082.5 L499.8,1083.8 L501.0,1082.7 L502.2,1082.8 L503.3,1082.1 L504.5,1081.7 L505.7,1082.3 L506.9,1082.5 L508.0,1082.4 L509.2,1083.1 L510.4,1081.2 L511.5,1082.0 L512.7,1081.6 L513.9,1083.5 L515.0,1082.3 L516.2,1082.4 L517.4,1082.0 L518.5,1083.2 L519.7,1082.4 L520.9,1082.8 L522.0,1081.4 L523.2,1083.4 L524.4,1082.9 L525.5,1083.0 L526.7,1083.4 L527.9,1082.6 L529.0,1082.6 L530.2,1083.1 L531.4,1082.9 L532.5,1082.5 L533.7,1082.7 L534.9,1082.4 L536.1,1083.1 L537.2,1083.2 L538.4,1082.7 L539.6,1083.8 L540.7,1081.7 L541.9,1082.5 L543.1,1083.7 L544.2,1082.4 L545.4,1081.7 L546.6,1083.5 L547.7,1083.0 L548.9,1082.0 L550.1,1083.1 L551.2,1082.1 L552.4,1081.9 L553.6,1082.6 L554.7,1082.4 L555.9,1082.0 L557.1,1082.5 L558.2,1082.1 L559.4,1082.7 L560.6,1082.7 L561.7,1083.1 L562.9,1082.4" fill="none" stroke="#007a00" stroke-width="3" opacity="0.9"/>
<rect x="52.5" y="689.2" width="511.3" height="406.1" fill="none" stroke="#1a1a1a" stroke-width="1.3"/>
<path d="M52.5,1095.3v-5.0M89.0,1095.3v-2.6M125.5,1095.3v-5.0M162.0,1095.3v-2.6M198.5,1095.3v-5.0M235.0,1095.3v-2.6M271.5,1095.3v-5.0M308.0,1095.3v-2.6M344.5,1095.3v-5.0M381.0,1095.3v-2.6M417.5,1095.3v-5.0M454.0,1095.3v-2.6M490.5,1095.3v-5.0M527.0,1095.3v-2.6M563.5,1095.3v-5.0" stroke="#1a1a1a" stroke-width="1.3" fill="none"/>
<text x="36.4" y="1125.5" font-size="28.5" class="sb" textLength="32.2" lengthAdjust="spacingAndGlyphs">10</text>
<text x="109.4" y="1125.5" font-size="28.5" class="sb" textLength="32.2" lengthAdjust="spacingAndGlyphs">20</text>
<text x="182.4" y="1125.5" font-size="28.5" class="sb" textLength="32.2" lengthAdjust="spacingAndGlyphs">30</text>
<text x="255.4" y="1125.5" font-size="28.5" class="sb" textLength="32.2" lengthAdjust="spacingAndGlyphs">40</text>
<text x="328.4" y="1125.5" font-size="28.5" class="sb" textLength="32.2" lengthAdjust="spacingAndGlyphs">50</text>
<text x="401.4" y="1125.5" font-size="28.5" class="sb" textLength="32.2" lengthAdjust="spacingAndGlyphs">60</text>
<text x="474.4" y="1125.5" font-size="28.5" class="sb" textLength="32.2" lengthAdjust="spacingAndGlyphs">70</text>
<text x="547.4" y="1125.5" font-size="28.5" class="sb" textLength="32.2" lengthAdjust="spacingAndGlyphs">80</text>
<text x="232.5" y="1171" font-size="40.5" class="sb" textLength="151" lengthAdjust="spacingAndGlyphs">2θ (deg.)</text>
<text transform="translate(36.5,878.8) rotate(-90)" font-size="46" text-anchor="middle" class="sb" textLength="378" lengthAdjust="spacing">Intensity (arb.unit)</text>
<text x="58.3" y="721" font-size="31" class="sb" textLength="39.3" lengthAdjust="spacingAndGlyphs">(b)</text>
<circle cx="380.8" cy="710" r="3.1" fill="none" stroke="#f10000" stroke-width="1.1"/>
<path d="M358,739H404" stroke="#000" stroke-width="2"/><path d="M358,767.3H404" stroke="#007a00" stroke-width="1.8"/><path d="M380.8,787.4V807.6" stroke="#0000ff" stroke-width="2"/>
<text x="408.7" y="717.0" font-size="20.5" class="sb" textLength="108.5" lengthAdjust="spacingAndGlyphs">Observation</text>
<text x="408.7" y="746.2" font-size="20.5" class="sb" textLength="96.0" lengthAdjust="spacingAndGlyphs">Calculated</text>
<text x="408.7" y="775.0" font-size="20.5" class="sb" textLength="68.0" lengthAdjust="spacingAndGlyphs">Obs-cal</text>
<text x="415.0" y="805.0" font-size="20.5" class="sb" textLength="143.0" lengthAdjust="spacingAndGlyphs">Bragg`s position</text>
</g>
<g id="panel-c">
<path d="M691.1,1056.4 L696.0,1056.4 L700.9,1056.4 L705.7,1056.4 L710.6,1056.4 L715.4,1056.3 L720.3,1056.1 L725.1,1055.8 L730.0,1055.4 L734.9,1055.0 L739.7,1054.5 L744.6,1053.8 L749.4,1052.7 L754.3,1051.6 L759.2,1050.5 L764.0,1049.3 L768.9,1047.8 L773.7,1046.2 L778.6,1044.4 L783.5,1042.4 L788.3,1040.3 L793.2,1038.1 L798.0,1035.8 L802.9,1033.3 L807.8,1030.8 L812.6,1028.1 L817.5,1025.3 L822.3,1022.4 L827.2,1019.5 L832.1,1016.4 L836.9,1013.1 L841.8,1009.8 L846.6,1006.4 L851.5,1003.0 L856.4,999.5 L861.2,995.9 L866.1,992.3 L870.9,988.6 L875.8,984.9 L880.7,980.9 L885.5,976.7 L890.4,972.3 L895.2,967.9 L900.1,963.6 L905.0,959.3 L909.8,955.0 L914.7,950.7 L919.5,946.5 L924.4,942.2 L929.3,937.9 L934.1,933.7 L939.0,929.4 L943.8,925.2 L948.7,921.0 L953.6,916.9 L958.4,912.8 L963.3,908.7 L968.1,904.5 L973.0,900.2 L977.9,896.0 L982.7,891.8 L987.6,887.7 L992.4,883.7 L997.3,879.7 L1002.2,875.8 L1007.0,871.9 L1011.9,868.0 L1016.7,864.1 L1021.6,860.2 L1026.4,856.3 L1031.3,852.4 L1036.2,848.5 L1041.0,844.6 L1045.9,840.7 L1050.7,836.9 L1055.6,833.0 L1060.5,829.1 L1065.3,825.2 L1070.2,821.3 L1075.0,817.4 L1079.9,813.5 L1084.8,809.6 L1089.6,805.7 L1094.5,801.9 L1099.3,798.2 L1104.2,794.5 L1109.1,790.8 L1113.9,787.0 L1118.8,783.3 L1123.6,779.6 L1128.5,775.8 L1133.4,771.9 L1138.2,768.0 L1143.1,764.1 L1147.9,760.2 L1152.8,756.3 L1157.7,752.5 L1162.5,748.7 L1167.4,745.0 L1172.2,741.6" fill="none" stroke="#000" stroke-width="5.6" stroke-linejoin="round" stroke-linecap="butt"/>
<rect x="684.6" y="686.2" width="489.9" height="405.0" fill="none" stroke="#111" stroke-width="1.3"/>
<path d="M684.6,1091.2v7.6M725.4,1091.2v3.9M766.2,1091.2v7.6M807.1,1091.2v3.9M847.9,1091.2v7.6M888.7,1091.2v3.9M929.5,1091.2v7.6M970.4,1091.2v3.9M1011.2,1091.2v7.6M1052.0,1091.2v3.9M1092.8,1091.2v7.6M1133.7,1091.2v3.9M1174.5,1091.2v7.6M684.6,1091.0h-4.2M684.6,1059.8h-7.6M684.6,1028.6h-4.2M684.6,997.5h-7.6M684.6,966.3h-4.2M684.6,935.2h-7.6M684.6,904.0h-4.2M684.6,872.9h-7.6M684.6,841.8h-4.2M684.6,810.6h-7.6M684.6,779.4h-4.2M684.6,748.3h-7.6M684.6,717.1h-4.2M684.6,686.0h-7.6M733.6,686.2v4.5M1174.5,726.7h-4.5M782.6,686.2v7.8M1174.5,767.2h-7.8M831.6,686.2v4.5M1174.5,807.7h-4.5M880.6,686.2v7.8M1174.5,848.2h-7.8M929.5,686.2v4.5M1174.5,888.7h-4.5M978.5,686.2v7.8M1174.5,929.2h-7.8M1027.5,686.2v4.5M1174.5,969.7h-4.5M1076.5,686.2v7.8M1174.5,1010.2h-7.8M1125.5,686.2v4.5M1174.5,1050.7h-4.5" stroke="#111" stroke-width="1.3" fill="none"/>
<text x="657.3" y="1068.4" font-size="26.5" class="sb" textLength="13.0" lengthAdjust="spacingAndGlyphs">0</text>
<text x="644.3" y="1006.1" font-size="26.5" class="sb" textLength="26.0" lengthAdjust="spacingAndGlyphs">10</text>
<text x="644.3" y="943.8" font-size="26.5" class="sb" textLength="26.0" lengthAdjust="spacingAndGlyphs">20</text>
<text x="644.3" y="881.5" font-size="26.5" class="sb" textLength="26.0" lengthAdjust="spacingAndGlyphs">30</text>
<text x="644.3" y="819.2" font-size="26.5" class="sb" textLength="26.0" lengthAdjust="spacingAndGlyphs">40</text>
<text x="644.3" y="756.9" font-size="26.5" class="sb" textLength="26.0" lengthAdjust="spacingAndGlyphs">50</text>
<text x="644.3" y="694.6" font-size="26.5" class="sb" textLength="26.0" lengthAdjust="spacingAndGlyphs">60</text>
<text x="678.1" y="1126.5" font-size="27" class="sb" textLength="13.0" lengthAdjust="spacingAndGlyphs">0</text>
<text x="753.2" y="1126.5" font-size="27" class="sb" textLength="26.0" lengthAdjust="spacingAndGlyphs">50</text>
<text x="828.4" y="1126.5" font-size="27" class="sb" textLength="39.0" lengthAdjust="spacingAndGlyphs">100</text>
<text x="910.0" y="1126.5" font-size="27" class="sb" textLength="39.0" lengthAdjust="spacingAndGlyphs">150</text>
<text x="991.7" y="1126.5" font-size="27" class="sb" textLength="39.0" lengthAdjust="spacingAndGlyphs">200</text>
<text x="1073.3" y="1126.5" font-size="27" class="sb" textLength="39.0" lengthAdjust="spacingAndGlyphs">250</text>
<text x="1155.0" y="1126.5" font-size="27" class="sb" textLength="39.0" lengthAdjust="spacingAndGlyphs">300</text>
<text x="888.3" y="1181" font-size="39" class="sb" textLength="83.5" lengthAdjust="spacing"><tspan font-style="italic">T</tspan> (K)</text>
<text transform="translate(615.3,963.5) rotate(-90)" font-size="35.5" class="sb" textLength="167" lengthAdjust="spacingAndGlyphs"><tspan font-style="italic" font-weight="normal">ρ</tspan><tspan font-weight="normal" font-size="39" dy="2"> (</tspan><tspan font-weight="normal" dy="-2">μΩ</tspan> cm<tspan font-weight="normal" font-size="39" dy="2">)</tspan></text>
<text x="693.3" y="717" font-size="28" class="sb" textLength="32.5" lengthAdjust="spacingAndGlyphs">(c)</text>
<text x="948.7" y="1013.8" font-size="27" class="sb" textLength="166" lengthAdjust="spacingAndGlyphs">RRR = 107.04</text>
</g>
</svg>
</body></html>
